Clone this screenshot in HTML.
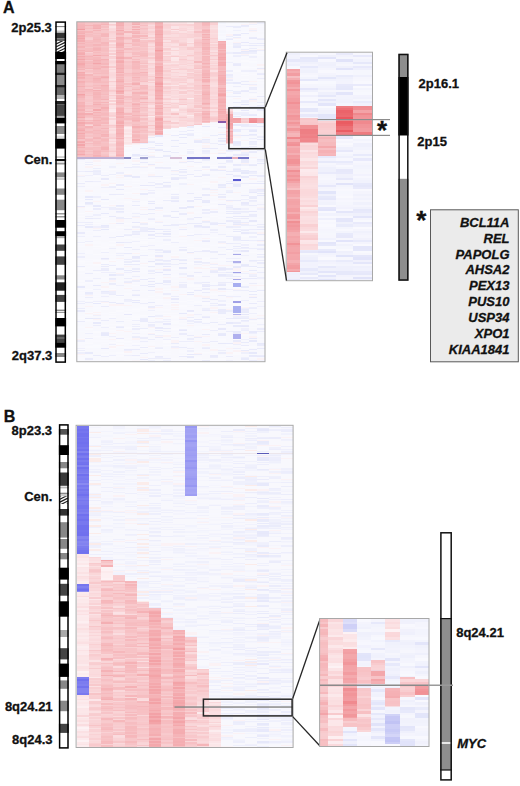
<!DOCTYPE html>
<html><head><meta charset="utf-8"><title>Figure</title>
<style>
html,body{margin:0;padding:0;background:#fff;width:520px;height:786px;overflow:hidden}
svg{display:block}
text{font-family:"Liberation Sans",sans-serif;fill:#111;stroke:#111;stroke-width:0.3px}
.lb{font-size:13px;font-weight:bold}
.big{font-size:16px;font-weight:bold}
.gi{font-size:13px;font-weight:bold;font-style:italic}
.star{font-size:26px;font-weight:bold}
</style></head><body>
<svg width="520" height="786" viewBox="0 0 520 786">
<defs><filter id="bl" x="-2%" y="-2%" width="104%" height="104%"><feGaussianBlur stdDeviation="0.45"/></filter></defs>
<g filter="url(#bl)" shape-rendering="crispEdges">
<rect x="77.3" y="22.3" width="187.2" height="338.9" fill="#f8f8fd"/>
<path stroke="#f6bbbf" stroke-width="1.3" d="M77.3 23h7.8M77.3 34.6h7.8M77.3 55.4h7.8M77.3 93.1h7.8M85.1 42.4h7.8M92.9 91.8h7.8M92.9 106.1h7.8M92.9 150.3h7.8M100.7 78.8h7.8M100.7 91.8h7.8M100.7 120.4h7.8M116.3 55.4h7.8M116.3 84h7.8M116.3 150.3h7.8M124.1 48.9h7.8M124.1 119.1h7.8M131.9 45h7.8M131.9 56.7h7.8M131.9 63.2h7.8M131.9 65.8h7.8M131.9 82.7h7.8M131.9 98.3h7.8M131.9 106.1h7.8M131.9 134.7h7.8M139.7 115.2h7.8M202.1 25.6h7.8M202.1 42.4h7.8"/>
<path stroke="#f5b7ba" stroke-width="1.3" d="M77.3 24.2h7.8M85.1 51.5h7.8M85.1 68.4h7.8M85.1 74.9h7.8M92.9 97h7.8M92.9 137.3h7.8M202.1 67.1h7.8"/>
<path stroke="#f5b4b8" stroke-width="1.3" d="M77.3 25.6h7.8M77.3 26.9h7.8M77.3 97h7.8M92.9 30.8h7.8M92.9 138.6h7.8M92.9 156.9h7.8M100.7 24.2h7.8M116.3 39.8h7.8M116.3 46.3h7.8M116.3 50.2h7.8M116.3 67.1h7.8M116.3 136h7.8M131.9 93.1h7.8M131.9 115.2h7.8M139.7 72.3h7.8M155.3 24.2h7.8M155.3 47.6h7.8M155.3 121.7h7.8M202.1 30.8h7.8M202.1 48.9h7.8M202.1 74.9h7.8M202.1 121.7h7.8M217.7 42.9h7.8M217.7 61.1h7.8M217.7 89.7h7.8M217.7 98.8h7.8M217.7 104h7.8"/>
<path stroke="#f5b2b6" stroke-width="1.3" d="M77.3 28.2h7.8M77.3 39.8h7.8M77.3 43.7h7.8M77.3 46.3h7.8M77.3 73.6h7.8M77.3 124.3h7.8M77.3 136h7.8M92.9 68.4h7.8M100.7 134.7h7.8M116.3 38.5h7.8M116.3 47.6h7.8M116.3 130.8h7.8M131.9 33.4h7.8M131.9 120.4h7.8M139.7 93.1h7.8M155.3 52.8h7.8M155.3 64.5h7.8M155.3 72.3h7.8M155.3 74.9h7.8M155.3 80.1h7.8M155.3 99.6h7.8M202.1 47.6h7.8M202.1 113.9h7.8M217.7 117h7.8"/>
<path stroke="#f29da2" stroke-width="1.3" d="M77.3 29.5h7.8"/>
<path stroke="#f6bfc2" stroke-width="1.3" d="M77.3 30.8h7.8M77.3 119.1h7.8M85.1 35.9h7.8M85.1 76.2h7.8M85.1 86.6h7.8M85.1 116.5h7.8M85.1 151.7h7.8M92.9 33.4h7.8M92.9 35.9h7.8M92.9 46.3h7.8M100.7 26.9h7.8M100.7 29.5h7.8M100.7 93.1h7.8M100.7 125.6h7.8M131.9 43.7h7.8M131.9 72.3h7.8M131.9 94.4h7.8M131.9 130.8h7.8M139.7 63.2h7.8M202.1 90.5h7.8M217.7 85.8h7.8"/>
<path stroke="#f5b3b7" stroke-width="1.3" d="M77.3 32.1h7.8M77.3 69.7h7.8M77.3 115.2h7.8M77.3 128.2h7.8M85.1 123h7.8M85.1 126.9h7.8M92.9 26.9h7.8M92.9 48.9h7.8M92.9 94.4h7.8M100.7 67.1h7.8M100.7 76.2h7.8M100.7 99.6h7.8M100.7 149h7.8M116.3 34.6h7.8M116.3 65.8h7.8M116.3 85.3h7.8M116.3 111.3h7.8M116.3 132.1h7.8M116.3 143.8h7.8M116.3 154.3h7.8M155.3 63.2h7.8M155.3 106.1h7.8M155.3 117.8h7.8M155.3 134.7h7.8M202.1 43.7h7.8M202.1 73.6h7.8M202.1 117.8h7.8M217.7 76.7h7.8M217.7 83.2h7.8"/>
<path stroke="#f4afb3" stroke-width="1.3" d="M77.3 33.4h7.8M77.3 86.6h7.8M77.3 110h7.8M77.3 125.6h7.8M92.9 104.8h7.8M100.7 107.4h7.8M116.3 37.2h7.8M116.3 93.1h7.8M131.9 84h7.8M131.9 104.8h7.8M139.7 98.3h7.8M155.3 23h7.8M155.3 33.4h7.8M155.3 37.2h7.8M155.3 48.9h7.8M155.3 55.4h7.8M155.3 78.8h7.8M155.3 81.4h7.8M155.3 103.5h7.8M155.3 112.6h7.8M155.3 124.3h7.8M217.7 55.9h7.8M217.7 81.9h7.8M217.7 91h7.8"/>
<path stroke="#f4aaae" stroke-width="1.3" d="M77.3 35.9h7.8M77.3 56.7h7.8M77.3 72.3h7.8M92.9 55.4h7.8M116.3 61.9h7.8M116.3 123h7.8M155.3 42.4h7.8M155.3 91.8h7.8M155.3 108.7h7.8M155.3 125.6h7.8M217.7 54.6h7.8M217.7 58.5h7.8M217.7 109.2h7.8M217.7 111.8h7.8"/>
<path stroke="#f5b0b4" stroke-width="1.3" d="M77.3 37.2h7.8M77.3 52.8h7.8M77.3 78.8h7.8M77.3 120.4h7.8M77.3 129.5h7.8M77.3 151.7h7.8M92.9 25.6h7.8M92.9 155.6h7.8M100.7 85.3h7.8M100.7 108.7h7.8M116.3 23h7.8M116.3 52.8h7.8M116.3 102.2h7.8M116.3 108.7h7.8M116.3 113.9h7.8M131.9 126.9h7.8M155.3 85.3h7.8M202.1 81.4h7.8M217.7 71.5h7.8M217.7 96.2h7.8"/>
<path stroke="#f3a7ab" stroke-width="1.3" d="M77.3 38.5h7.8M77.3 142.5h7.8M155.3 34.6h7.8M155.3 98.3h7.8M217.7 59.8h7.8"/>
<path stroke="#f4adb1" stroke-width="1.3" d="M77.3 41.1h7.8M77.3 95.7h7.8M116.3 45h7.8M116.3 68.4h7.8M116.3 72.3h7.8M116.3 117.8h7.8M155.3 32.1h7.8M155.3 56.7h7.8M155.3 69.7h7.8M155.3 128.2h7.8M155.3 132.1h7.8M217.7 46.8h7.8M217.7 50.7h7.8M217.7 79.3h7.8M217.7 101.4h7.8M217.7 119.6h7.8"/>
<path stroke="#f6bdc0" stroke-width="1.3" d="M77.3 42.4h7.8M85.1 48.9h7.8M85.1 65.8h7.8M85.1 115.2h7.8M85.1 128.2h7.8M92.9 116.5h7.8M92.9 147.7h7.8M100.7 50.2h7.8M100.7 71h7.8M100.7 81.4h7.8M100.7 151.7h7.8M116.3 78.8h7.8M131.9 74.9h7.8M131.9 112.6h7.8M139.7 54.1h7.8M202.1 29.5h7.8M202.1 46.3h7.8M202.1 108.7h7.8M217.7 70.2h7.8M217.7 87.1h7.8"/>
<path stroke="#f6bcc0" stroke-width="1.3" d="M77.3 45h7.8M77.3 87.9h7.8M77.3 90.5h7.8M77.3 98.3h7.8M85.1 45h7.8M85.1 91.8h7.8M85.1 111.3h7.8M85.1 143.8h7.8M92.9 37.2h7.8M92.9 38.5h7.8M92.9 113.9h7.8M100.7 106.1h7.8M100.7 117.8h7.8M116.3 146.4h7.8M131.9 99.6h7.8M155.3 130.8h7.8M202.1 41.1h7.8M202.1 64.5h7.8M202.1 86.6h7.8M202.1 112.6h7.8"/>
<path stroke="#f5b3b6" stroke-width="1.3" d="M77.3 47.6h7.8M77.3 67.1h7.8M77.3 102.2h7.8M77.3 116.5h7.8M100.7 147.7h7.8"/>
<path stroke="#f6bec2" stroke-width="1.3" d="M77.3 48.9h7.8M85.1 67.1h7.8M85.1 106.1h7.8M92.9 42.4h7.8M92.9 71h7.8M92.9 107.4h7.8M100.7 97h7.8M100.7 98.3h7.8M100.7 130.8h7.8M116.3 76.2h7.8M116.3 156.9h7.8M124.1 97h7.8M131.9 95.7h7.8M131.9 124.3h7.8M139.7 25.6h7.8M139.7 74.9h7.8M139.7 86.6h7.8M139.7 107.4h7.8M155.3 61.9h7.8M202.1 50.2h7.8M202.1 52.8h7.8M202.1 61.9h7.8"/>
<path stroke="#f5b1b5" stroke-width="1.3" d="M77.3 50.2h7.8M77.3 82.7h7.8M92.9 60.6h7.8M92.9 78.8h7.8M92.9 120.4h7.8M92.9 125.6h7.8M100.7 59.3h7.8M116.3 24.2h7.8M116.3 33.4h7.8M116.3 60.6h7.8M116.3 87.9h7.8M116.3 110h7.8M116.3 116.5h7.8M116.3 126.9h7.8M116.3 134.7h7.8M155.3 35.9h7.8M155.3 39.8h7.8M155.3 41.1h7.8M155.3 59.3h7.8M155.3 97h7.8M155.3 113.9h7.8M202.1 34.6h7.8M202.1 39.8h7.8M202.1 63.2h7.8M202.1 80.1h7.8M202.1 85.3h7.8M217.7 106.6h7.8M217.7 115.7h7.8"/>
<path stroke="#f6babd" stroke-width="1.3" d="M77.3 51.5h7.8M77.3 111.3h7.8M77.3 126.9h7.8M77.3 146.4h7.8M92.9 69.7h7.8M100.7 33.4h7.8M100.7 87.9h7.8M116.3 124.3h7.8M202.1 58h7.8M202.1 87.9h7.8M202.1 91.8h7.8M202.1 107.4h7.8M202.1 119.1h7.8M217.7 67.6h7.8"/>
<path stroke="#f4acb0" stroke-width="1.3" d="M77.3 54.1h7.8M77.3 74.9h7.8M77.3 77.5h7.8M77.3 113.9h7.8M77.3 141.2h7.8M100.7 77.5h7.8M116.3 81.4h7.8M116.3 133.4h7.8M131.9 29.5h7.8M155.3 43.7h7.8M155.3 68.4h7.8M155.3 89.2h7.8M155.3 123h7.8M155.3 129.5h7.8M217.7 41.6h7.8M217.7 53.3h7.8M217.7 80.6h7.8M217.7 88.4h7.8"/>
<path stroke="#f5b5b9" stroke-width="1.3" d="M77.3 58h7.8M77.3 91.8h7.8M77.3 103.5h7.8M85.1 56.7h7.8M85.1 89.2h7.8M92.9 45h7.8M92.9 102.2h7.8M92.9 115.2h7.8M100.7 55.4h7.8M100.7 102.2h7.8M100.7 136h7.8M116.3 42.4h7.8M116.3 64.5h7.8M116.3 74.9h7.8M116.3 120.4h7.8M116.3 145.1h7.8M124.1 58h7.8M131.9 26.9h7.8M131.9 61.9h7.8M131.9 77.5h7.8M131.9 108.7h7.8M155.3 29.5h7.8M155.3 38.5h7.8M155.3 46.3h7.8M217.7 110.5h7.8"/>
<path stroke="#f3a6aa" stroke-width="1.3" d="M77.3 59.3h7.8M155.3 90.5h7.8M155.3 126.9h7.8"/>
<path stroke="#f6b8bc" stroke-width="1.3" d="M77.3 60.6h7.8M77.3 112.6h7.8M77.3 153h7.8M92.9 95.7h7.8M92.9 123h7.8M92.9 153h7.8M116.3 54.1h7.8M116.3 86.6h7.8M116.3 104.8h7.8M116.3 115.2h7.8M116.3 153h7.8M131.9 37.2h7.8M131.9 132.1h7.8M139.7 35.9h7.8M139.7 102.2h7.8M155.3 116.5h7.8M202.1 32.1h7.8M202.1 71h7.8M202.1 98.3h7.8M202.1 104.8h7.8M202.1 116.5h7.8"/>
<path stroke="#f5b2b5" stroke-width="1.3" d="M77.3 61.9h7.8M92.9 112.6h7.8M116.3 129.5h7.8M217.7 120.9h7.8"/>
<path stroke="#f4a8ac" stroke-width="1.3" d="M77.3 63.2h7.8M77.3 64.5h7.8M77.3 117.8h7.8M77.3 133.4h7.8M77.3 154.3h7.8M116.3 125.6h7.8M155.3 82.7h7.8M155.3 120.4h7.8M217.7 62.4h7.8"/>
<path stroke="#f5afb3" stroke-width="1.3" d="M77.3 65.8h7.8M77.3 81.4h7.8M77.3 147.7h7.8M131.9 139.9h7.8M155.3 28.2h7.8M155.3 60.6h7.8M217.7 100.1h7.8"/>
<path stroke="#f6bcbf" stroke-width="1.3" d="M77.3 68.4h7.8M77.3 99.6h7.8M77.3 121.7h7.8M85.1 28.2h7.8M85.1 50.2h7.8M85.1 58h7.8M85.1 61.9h7.8M85.1 81.4h7.8M92.9 65.8h7.8M100.7 73.6h7.8M116.3 32.1h7.8M116.3 128.2h7.8M124.1 38.5h7.8M124.1 43.7h7.8M131.9 128.2h7.8M202.1 35.9h7.8M202.1 99.6h7.8M217.7 49.4h7.8"/>
<path stroke="#f7c3c7" stroke-width="1.3" d="M77.3 71h7.8M85.1 117.8h7.8M85.1 130.8h7.8M85.1 138.6h7.8M92.9 23h7.8M92.9 29.5h7.8M100.7 56.7h7.8M100.7 129.5h7.8M100.7 142.5h7.8M116.3 35.9h7.8M131.9 47.6h7.8M139.7 104.8h7.8M139.7 128.2h7.8M202.1 38.5h7.8"/>
<path stroke="#f5b6ba" stroke-width="1.3" d="M77.3 76.2h7.8M77.3 104.8h7.8M77.3 107.4h7.8M92.9 59.3h7.8M92.9 61.9h7.8M92.9 80.1h7.8M92.9 151.7h7.8M100.7 34.6h7.8M100.7 63.2h7.8M100.7 128.2h7.8M116.3 69.7h7.8M116.3 71h7.8M116.3 77.5h7.8M116.3 95.7h7.8M116.3 97h7.8M116.3 100.9h7.8M116.3 142.5h7.8M116.3 149h7.8M116.3 151.7h7.8M124.1 32.1h7.8M131.9 35.9h7.8M131.9 111.3h7.8M202.1 93.1h7.8M202.1 111.3h7.8M217.7 72.8h7.8M217.7 74.1h7.8M217.7 92.3h7.8"/>
<path stroke="#f6bdc1" stroke-width="1.3" d="M77.3 80.1h7.8M85.1 34.6h7.8M85.1 78.8h7.8M85.1 154.3h7.8M92.9 132.1h7.8M100.7 23h7.8M100.7 61.9h7.8M100.7 72.3h7.8M100.7 112.6h7.8M100.7 138.6h7.8M100.7 141.2h7.8M116.3 29.5h7.8M116.3 59.3h7.8M124.1 37.2h7.8M124.1 116.5h7.8M131.9 52.8h7.8M131.9 54.1h7.8M131.9 59.3h7.8M131.9 80.1h7.8M131.9 110h7.8M202.1 82.7h7.8M202.1 102.2h7.8M202.1 115.2h7.8"/>
<path stroke="#f6b9bd" stroke-width="1.3" d="M77.3 84h7.8M85.1 63.2h7.8M85.1 120.4h7.8M92.9 24.2h7.8M92.9 47.6h7.8M92.9 82.7h7.8M92.9 98.3h7.8M92.9 99.6h7.8M92.9 143.8h7.8M100.7 110h7.8M100.7 113.9h7.8M100.7 156.9h7.8M116.3 26.9h7.8M124.1 113.9h7.8M131.9 67.1h7.8M155.3 65.8h7.8M155.3 111.3h7.8M202.1 60.6h7.8M202.1 72.3h7.8M217.7 97.5h7.8"/>
<path stroke="#f6bbbe" stroke-width="1.3" d="M77.3 85.3h7.8M85.1 90.5h7.8M92.9 41.1h7.8M92.9 52.8h7.8M92.9 85.3h7.8M92.9 103.5h7.8M92.9 142.5h7.8M100.7 82.7h7.8M100.7 115.2h7.8M100.7 132.1h7.8M100.7 146.4h7.8M116.3 107.4h7.8M116.3 147.7h7.8M131.9 117.8h7.8M131.9 137.3h7.8M139.7 55.4h7.8M139.7 87.9h7.8M155.3 76.2h7.8M202.1 95.7h7.8M202.1 97h7.8"/>
<path stroke="#f6babe" stroke-width="1.3" d="M77.3 89.2h7.8M77.3 143.8h7.8M77.3 155.6h7.8M85.1 139.9h7.8M92.9 73.6h7.8M92.9 76.2h7.8M92.9 77.5h7.8M92.9 87.9h7.8M92.9 121.7h7.8M92.9 133.4h7.8M92.9 141.2h7.8M92.9 154.3h7.8M100.7 45h7.8M100.7 60.6h7.8M100.7 89.2h7.8M100.7 94.4h7.8M100.7 104.8h7.8M116.3 41.1h7.8M116.3 51.5h7.8M116.3 89.2h7.8M116.3 119.1h7.8M116.3 137.3h7.8M131.9 64.5h7.8M131.9 121.7h7.8M131.9 142.5h7.8M139.7 85.3h7.8M194.3 61.9h7.8M202.1 76.2h7.8M217.7 66.3h7.8"/>
<path stroke="#f3a2a6" stroke-width="1.3" d="M77.3 94.4h7.8M155.3 119.1h7.8"/>
<path stroke="#f7bfc3" stroke-width="1.3" d="M77.3 100.9h7.8M85.1 41.1h7.8M85.1 55.4h7.8M85.1 77.5h7.8M85.1 147.7h7.8M92.9 129.5h7.8M92.9 134.7h7.8M92.9 136h7.8M92.9 149h7.8M100.7 133.4h7.8M100.7 150.3h7.8M116.3 139.9h7.8M124.1 73.6h7.8M131.9 69.7h7.8M131.9 78.8h7.8M131.9 116.5h7.8M139.7 81.4h7.8M155.3 100.9h7.8M202.1 69.7h7.8M202.1 100.9h7.8"/>
<path stroke="#f5b0b3" stroke-width="1.3" d="M77.3 106.1h7.8"/>
<path stroke="#f6b8bb" stroke-width="1.3" d="M77.3 108.7h7.8M77.3 150.3h7.8M85.1 32.1h7.8M92.9 39.8h7.8M116.3 63.2h7.8M116.3 103.5h7.8M131.9 39.8h7.8M131.9 136h7.8"/>
<path stroke="#f4a9ad" stroke-width="1.3" d="M77.3 123h7.8M77.3 130.8h7.8M92.9 110h7.8M116.3 112.6h7.8M155.3 26.9h7.8M155.3 67.1h7.8M155.3 71h7.8M155.3 95.7h7.8M217.7 65h7.8"/>
<path stroke="#f5b7bb" stroke-width="1.3" d="M77.3 132.1h7.8M77.3 134.7h7.8M85.1 59.3h7.8M92.9 124.3h7.8M100.7 35.9h7.8M100.7 42.4h7.8M100.7 43.7h7.8M100.7 64.5h7.8M116.3 28.2h7.8M116.3 82.7h7.8M131.9 41.1h7.8M131.9 73.6h7.8M131.9 103.5h7.8M202.1 56.7h7.8"/>
<path stroke="#f5b6b9" stroke-width="1.3" d="M77.3 137.3h7.8M92.9 117.8h7.8M100.7 119.1h7.8M116.3 56.7h7.8M131.9 23h7.8M139.7 126.9h7.8M155.3 107.4h7.8M217.7 52h7.8M217.7 114.4h7.8M217.7 118.3h7.8"/>
<path stroke="#f4aeb2" stroke-width="1.3" d="M77.3 138.6h7.8M85.1 113.9h7.8M92.9 28.2h7.8M92.9 90.5h7.8M116.3 25.6h7.8M116.3 43.7h7.8M116.3 90.5h7.8M116.3 98.3h7.8M116.3 121.7h7.8M116.3 155.6h7.8M131.9 24.2h7.8M155.3 30.8h7.8M155.3 54.1h7.8M155.3 73.6h7.8M155.3 87.9h7.8M155.3 93.1h7.8M202.1 77.5h7.8M202.1 103.5h7.8M217.7 45.5h7.8M217.7 48.1h7.8M217.7 78h7.8M217.7 105.3h7.8M217.7 113.1h7.8"/>
<path stroke="#f7c2c6" stroke-width="1.3" d="M77.3 139.9h7.8M92.9 84h7.8M92.9 126.9h7.8M131.9 76.2h7.8M139.7 99.6h7.8M139.7 132.1h7.8M194.3 68.4h7.8"/>
<path stroke="#f3a5aa" stroke-width="1.3" d="M77.3 145.1h7.8M92.9 63.2h7.8M217.7 57.2h7.8"/>
<path stroke="#f6bec1" stroke-width="1.3" d="M77.3 149h7.8M85.1 46.3h7.8M85.1 149h7.8M92.9 119.1h7.8M92.9 145.1h7.8M100.7 48.9h7.8M100.7 121.7h7.8M124.1 86.6h7.8M131.9 97h7.8M139.7 97h7.8M139.7 130.8h7.8"/>
<path stroke="#f7c4c7" stroke-width="1.3" d="M77.3 156.9h7.8M85.1 85.3h7.8M85.1 107.4h7.8M92.9 32.1h7.8M92.9 111.3h7.8M100.7 38.5h7.8M100.7 39.8h7.8M100.7 41.1h7.8M100.7 65.8h7.8M100.7 116.5h7.8M100.7 154.3h7.8M124.1 52.8h7.8M124.1 74.9h7.8M131.9 87.9h7.8M131.9 123h7.8M139.7 48.9h7.8M170.9 113.9h7.8M194.3 43.7h7.8M202.1 26.9h7.8"/>
<path stroke="#f5b6ba" stroke-width="0.5" d="M77.3 157.8h7.8"/>
<path stroke="#eaebfb" stroke-width="1.2" d="M77.3 159.8h7.8M85.1 181.4h7.8M92.9 355.4h7.8M100.7 227h7.8M100.7 266.6h7.8M100.7 270.2h7.8M108.5 194.6h7.8M108.5 278.6h7.8M116.3 159.8h7.8M116.3 185h7.8M116.3 223.4h7.8M131.9 158.5h7.8M131.9 234.1h7.8M131.9 264.1h7.8M131.9 355.3h7.8M139.7 320h7.8M139.7 353.6h7.8M155.3 143.2h7.8M155.3 260.8h7.8M155.3 337.6h7.8M155.3 356.8h7.8M163.1 186h7.8M163.1 260.4h7.8M163.1 280.8h7.8M163.1 328.8h7.8M170.9 135.8h7.8M178.7 175.6h7.8M178.7 214h7.8M178.7 356.8h7.8M186.5 159h7.8M186.5 174.6h7.8M186.5 193.8h7.8M194.3 272.7h7.8M194.3 337.5h7.8M202.1 148.1h7.8M202.1 175.7h7.8M202.1 251.3h7.8M202.1 282.5h7.8M202.1 284.9h7.8M202.1 301.7h7.8M202.1 310.1h7.8M209.9 169.9h7.8M209.9 251.5h7.8M209.9 271.9h7.8M209.9 355.9h7.8M217.7 194.6h7.8M217.7 197h7.8M225.5 26.5h7.8M225.5 75.7h7.8M225.5 207.7h7.8M225.5 220.9h7.8M225.5 318.1h7.8M233.3 106.9h7.8M233.3 116.5h7.8M233.3 332.5h7.8M233.3 340.9h7.8M241.1 84.1h7.8M241.1 124.9h7.8M241.1 160.9h7.8M241.1 195.7h7.8M241.1 218.5h7.8M241.1 278.5h7.8M241.1 345.7h7.8M248.9 37.3h7.8M248.9 114.1h7.8M248.9 141.7h7.8M248.9 198.1h7.8M248.9 205.3h7.8M248.9 356.5h7.8M256.7 74.5h7.8M256.7 96.1h7.8M256.7 175.3h7.8M256.7 244.9h7.8M256.7 249.7h7.8M256.7 348.1h7.8"/>
<path stroke="#f8f8fe" stroke-width="1.2" d="M77.3 161h7.8M77.3 165.8h7.8M77.3 167h7.8M77.3 170.6h7.8M77.3 181.4h7.8M77.3 187.4h7.8M77.3 193.4h7.8M77.3 198.2h7.8M77.3 201.8h7.8M77.3 210.2h7.8M77.3 229.4h7.8M77.3 230.6h7.8M77.3 235.4h7.8M77.3 245h7.8M77.3 247.4h7.8M77.3 249.8h7.8M77.3 255.8h7.8M77.3 258.2h7.8M77.3 264.2h7.8M77.3 277.4h7.8M77.3 282.2h7.8M77.3 288.2h7.8M77.3 289.4h7.8M77.3 291.8h7.8M77.3 294.2h7.8M77.3 302.6h7.8M77.3 312.2h7.8M77.3 315.8h7.8M77.3 323h7.8M77.3 329h7.8M77.3 330.2h7.8M77.3 336.2h7.8M77.3 345.8h7.8M85.1 159.8h7.8M85.1 168.2h7.8M85.1 176.6h7.8M85.1 177.8h7.8M85.1 188.6h7.8M85.1 193.4h7.8M85.1 198.2h7.8M85.1 205.4h7.8M85.1 215h7.8M85.1 225.8h7.8M85.1 233h7.8M85.1 236.6h7.8M85.1 237.8h7.8M85.1 240.2h7.8M85.1 249.8h7.8M85.1 260.6h7.8M85.1 269h7.8M85.1 276.2h7.8M85.1 278.6h7.8M85.1 284.6h7.8M85.1 285.8h7.8M85.1 291.8h7.8M85.1 299h7.8M85.1 307.4h7.8M85.1 317h7.8M85.1 331.4h7.8M85.1 335h7.8M92.9 182.6h7.8M92.9 186.2h7.8M92.9 189.8h7.8M92.9 193.4h7.8M92.9 195.8h7.8M92.9 211.4h7.8M92.9 216.2h7.8M92.9 225.8h7.8M92.9 249.8h7.8M92.9 257h7.8M92.9 269h7.8M92.9 275h7.8M92.9 276.2h7.8M92.9 293h7.8M92.9 295.4h7.8M92.9 306.2h7.8M92.9 327.8h7.8M92.9 335h7.8M92.9 338.6h7.8M92.9 350.6h7.8M92.9 351.8h7.8M92.9 359h7.8M100.7 173h7.8M100.7 182.6h7.8M100.7 189.8h7.8M100.7 204.2h7.8M100.7 212.6h7.8M100.7 215h7.8M100.7 235.4h7.8M100.7 236.6h7.8M100.7 237.8h7.8M100.7 239h7.8M100.7 257h7.8M100.7 294.2h7.8M100.7 297.8h7.8M100.7 314.6h7.8M100.7 318.2h7.8M100.7 321.8h7.8M100.7 324.2h7.8M100.7 329h7.8M100.7 347h7.8M100.7 350.6h7.8M108.5 176.6h7.8M108.5 188.6h7.8M108.5 191h7.8M108.5 200.6h7.8M108.5 210.2h7.8M108.5 213.8h7.8M108.5 217.4h7.8M108.5 218.6h7.8M108.5 221h7.8M108.5 228.2h7.8M108.5 233h7.8M108.5 234.2h7.8M108.5 236.6h7.8M108.5 242.6h7.8M108.5 255.8h7.8M108.5 264.2h7.8M108.5 276.2h7.8M108.5 301.4h7.8M108.5 306.2h7.8M108.5 307.4h7.8M108.5 315.8h7.8M108.5 320.6h7.8M108.5 321.8h7.8M108.5 341h7.8M108.5 349.4h7.8M108.5 350.6h7.8M108.5 354.2h7.8M116.3 158.6h7.8M116.3 168.2h7.8M116.3 180.2h7.8M116.3 187.4h7.8M116.3 200.6h7.8M116.3 203h7.8M116.3 228.2h7.8M116.3 231.8h7.8M116.3 233h7.8M116.3 234.2h7.8M116.3 246.2h7.8M116.3 260.6h7.8M116.3 267.8h7.8M116.3 270.2h7.8M116.3 284.6h7.8M116.3 287h7.8M116.3 288.2h7.8M116.3 289.4h7.8M116.3 300.2h7.8M116.3 309.8h7.8M116.3 312.2h7.8M116.3 313.4h7.8M116.3 329h7.8M116.3 333.8h7.8M116.3 337.4h7.8M116.3 349.4h7.8M116.3 351.8h7.8M116.3 354.2h7.8M124.1 151.6h7.8M124.1 155.2h7.8M124.1 156.4h7.8M124.1 170.8h7.8M124.1 184h7.8M124.1 194.8h7.8M124.1 197.2h7.8M124.1 199.6h7.8M124.1 200.8h7.8M124.1 204.4h7.8M124.1 210.4h7.8M124.1 214h7.8M124.1 215.2h7.8M124.1 260.8h7.8M124.1 274h7.8M124.1 276.4h7.8M124.1 289.6h7.8M124.1 302.8h7.8M124.1 304h7.8M124.1 307.6h7.8M124.1 308.8h7.8M124.1 323.2h7.8M124.1 334h7.8M124.1 336.4h7.8M124.1 346h7.8M124.1 348.4h7.8M124.1 358h7.8M131.9 147.7h7.8M131.9 148.9h7.8M131.9 150.1h7.8M131.9 152.5h7.8M131.9 153.7h7.8M131.9 174.1h7.8M131.9 186.1h7.8M131.9 202.9h7.8M131.9 207.7h7.8M131.9 208.9h7.8M131.9 219.7h7.8M131.9 220.9h7.8M131.9 236.5h7.8M131.9 246.1h7.8M131.9 247.3h7.8M131.9 250.9h7.8M131.9 266.5h7.8M131.9 277.3h7.8M131.9 283.3h7.8M131.9 286.9h7.8M131.9 288.1h7.8M131.9 289.3h7.8M131.9 297.7h7.8M131.9 307.3h7.8M131.9 340.9h7.8M131.9 342.1h7.8M131.9 348.1h7.8M131.9 352.9h7.8M139.7 156.8h7.8M139.7 170h7.8M139.7 176h7.8M139.7 180.8h7.8M139.7 182h7.8M139.7 184.4h7.8M139.7 188h7.8M139.7 190.4h7.8M139.7 191.6h7.8M139.7 198.8h7.8M139.7 210.8h7.8M139.7 218h7.8M139.7 226.4h7.8M139.7 233.6h7.8M139.7 240.8h7.8M139.7 245.6h7.8M139.7 273.2h7.8M139.7 276.8h7.8M139.7 286.4h7.8M139.7 288.8h7.8M139.7 292.4h7.8M139.7 294.8h7.8M139.7 304.4h7.8M139.7 317.6h7.8M139.7 336.8h7.8M139.7 340.4h7.8M139.7 342.8h7.8M139.7 345.2h7.8M147.5 183.4h7.8M147.5 196.6h7.8M147.5 197.8h7.8M147.5 200.2h7.8M147.5 205h7.8M147.5 206.2h7.8M147.5 207.4h7.8M147.5 208.6h7.8M147.5 220.6h7.8M147.5 221.8h7.8M147.5 230.2h7.8M147.5 233.8h7.8M147.5 244.6h7.8M147.5 285.4h7.8M147.5 289h7.8M147.5 292.6h7.8M147.5 303.4h7.8M147.5 309.4h7.8M147.5 313h7.8M147.5 314.2h7.8M147.5 320.2h7.8M147.5 331h7.8M147.5 353.8h7.8M155.3 137.2h7.8M155.3 142h7.8M155.3 151.6h7.8M155.3 160h7.8M155.3 172h7.8M155.3 174.4h7.8M155.3 180.4h7.8M155.3 186.4h7.8M155.3 188.8h7.8M155.3 197.2h7.8M155.3 198.4h7.8M155.3 205.6h7.8M155.3 206.8h7.8M155.3 214h7.8M155.3 232h7.8M155.3 240.4h7.8M155.3 244h7.8M155.3 247.6h7.8M155.3 275.2h7.8M155.3 286h7.8M155.3 294.4h7.8M155.3 306.4h7.8M155.3 312.4h7.8M155.3 340h7.8M155.3 344.8h7.8M155.3 352h7.8M163.1 133.2h7.8M163.1 135.6h7.8M163.1 138h7.8M163.1 140.4h7.8M163.1 158.4h7.8M163.1 163.2h7.8M163.1 171.6h7.8M163.1 174h7.8M163.1 178.8h7.8M163.1 184.8h7.8M163.1 198h7.8M163.1 204h7.8M163.1 205.2h7.8M163.1 210h7.8M163.1 212.4h7.8M163.1 220.8h7.8M163.1 235.2h7.8M163.1 241.2h7.8M163.1 246h7.8M163.1 247.2h7.8M163.1 248.4h7.8M163.1 254.4h7.8M163.1 258h7.8M163.1 265.2h7.8M163.1 271.2h7.8M163.1 272.4h7.8M163.1 276h7.8M163.1 300h7.8M163.1 303.6h7.8M163.1 307.2h7.8M163.1 322.8h7.8M163.1 327.6h7.8M163.1 344.4h7.8M163.1 349.2h7.8M163.1 352.8h7.8M163.1 356.4h7.8M170.9 128.6h7.8M170.9 150.2h7.8M170.9 153.8h7.8M170.9 155h7.8M170.9 157.4h7.8M170.9 163.4h7.8M170.9 181.4h7.8M170.9 189.8h7.8M170.9 203h7.8M170.9 207.8h7.8M170.9 219.8h7.8M170.9 221h7.8M170.9 230.6h7.8M170.9 231.8h7.8M170.9 233h7.8M170.9 243.8h7.8M170.9 258.2h7.8M170.9 267.8h7.8M170.9 272.6h7.8M170.9 273.8h7.8M170.9 277.4h7.8M170.9 278.6h7.8M170.9 284.6h7.8M170.9 289.4h7.8M170.9 294.2h7.8M170.9 295.4h7.8M170.9 301.4h7.8M170.9 319.4h7.8M170.9 331.4h7.8M170.9 339.8h7.8M170.9 344.6h7.8M170.9 354.2h7.8M170.9 360.2h7.8M178.7 132.4h7.8M178.7 139.6h7.8M178.7 145.6h7.8M178.7 149.2h7.8M178.7 150.4h7.8M178.7 152.8h7.8M178.7 158.8h7.8M178.7 170.8h7.8M178.7 174.4h7.8M178.7 185.2h7.8M178.7 191.2h7.8M178.7 192.4h7.8M178.7 194.8h7.8M178.7 200.8h7.8M178.7 212.8h7.8M178.7 215.2h7.8M178.7 228.4h7.8M178.7 235.6h7.8M178.7 244h7.8M178.7 246.4h7.8M178.7 265.6h7.8M178.7 276.4h7.8M178.7 283.6h7.8M178.7 288.4h7.8M178.7 290.8h7.8M178.7 292h7.8M178.7 293.2h7.8M178.7 298h7.8M178.7 299.2h7.8M178.7 300.4h7.8M178.7 302.8h7.8M178.7 310h7.8M178.7 332.8h7.8M178.7 335.2h7.8M178.7 344.8h7.8M178.7 346h7.8M178.7 348.4h7.8M178.7 353.2h7.8M186.5 138.6h7.8M186.5 144.6h7.8M186.5 147h7.8M186.5 150.6h7.8M186.5 156.6h7.8M186.5 160.2h7.8M186.5 165h7.8M186.5 167.4h7.8M186.5 189h7.8M186.5 190.2h7.8M186.5 196.2h7.8M186.5 198.6h7.8M186.5 203.4h7.8M186.5 232.2h7.8M186.5 237h7.8M186.5 238.2h7.8M186.5 239.4h7.8M186.5 255h7.8M186.5 268.2h7.8M186.5 288.6h7.8M186.5 289.8h7.8M186.5 299.4h7.8M186.5 319.8h7.8M186.5 333h7.8M186.5 337.8h7.8M186.5 343.8h7.8M194.3 125.1h7.8M194.3 128.7h7.8M194.3 132.3h7.8M194.3 146.7h7.8M194.3 149.1h7.8M194.3 151.5h7.8M194.3 167.1h7.8M194.3 186.3h7.8M194.3 192.3h7.8M194.3 205.5h7.8M194.3 215.1h7.8M194.3 218.7h7.8M194.3 221.1h7.8M194.3 222.3h7.8M194.3 228.3h7.8M194.3 233.1h7.8M194.3 237.9h7.8M194.3 243.9h7.8M194.3 245.1h7.8M194.3 263.1h7.8M194.3 273.9h7.8M194.3 281.1h7.8M194.3 287.1h7.8M194.3 291.9h7.8M194.3 297.9h7.8M194.3 299.1h7.8M194.3 307.5h7.8M194.3 311.1h7.8M194.3 323.1h7.8M194.3 324.3h7.8M194.3 329.1h7.8M194.3 348.3h7.8M194.3 360.3h7.8M202.1 173.3h7.8M202.1 196.1h7.8M202.1 197.3h7.8M202.1 199.7h7.8M202.1 211.7h7.8M202.1 224.9h7.8M202.1 228.5h7.8M202.1 254.9h7.8M202.1 271.7h7.8M202.1 272.9h7.8M202.1 278.9h7.8M202.1 294.5h7.8M202.1 312.5h7.8M202.1 313.7h7.8M202.1 322.1h7.8M202.1 324.5h7.8M202.1 335.3h7.8M202.1 337.7h7.8M202.1 338.9h7.8M202.1 349.7h7.8M202.1 355.7h7.8M209.9 138.7h7.8M209.9 147.1h7.8M209.9 149.5h7.8M209.9 159.1h7.8M209.9 166.3h7.8M209.9 179.5h7.8M209.9 199.9h7.8M209.9 208.3h7.8M209.9 215.5h7.8M209.9 231.1h7.8M209.9 233.5h7.8M209.9 234.7h7.8M209.9 235.9h7.8M209.9 239.5h7.8M209.9 240.7h7.8M209.9 244.3h7.8M209.9 256.3h7.8M209.9 276.7h7.8M209.9 280.3h7.8M209.9 295.9h7.8M209.9 301.9h7.8M209.9 309.1h7.8M209.9 319.9h7.8M209.9 327.1h7.8M209.9 336.7h7.8M209.9 340.3h7.8M217.7 156.2h7.8M217.7 168.2h7.8M217.7 182.6h7.8M217.7 188.6h7.8M217.7 192.2h7.8M217.7 198.2h7.8M217.7 216.2h7.8M217.7 222.2h7.8M217.7 228.2h7.8M217.7 230.6h7.8M217.7 236.6h7.8M217.7 239h7.8M217.7 257h7.8M217.7 261.8h7.8M217.7 264.2h7.8M217.7 278.6h7.8M217.7 297.8h7.8M217.7 303.8h7.8M217.7 314.6h7.8M217.7 323h7.8M217.7 325.4h7.8M217.7 327.8h7.8M217.7 337.4h7.8M217.7 347h7.8M217.7 360.2h7.8M225.5 31.3h7.8M225.5 43.3h7.8M225.5 48.1h7.8M225.5 51.7h7.8M225.5 57.7h7.8M225.5 63.7h7.8M225.5 67.3h7.8M225.5 85.3h7.8M225.5 97.3h7.8M225.5 103.3h7.8M225.5 122.5h7.8M225.5 123.7h7.8M225.5 133.3h7.8M225.5 142.9h7.8M225.5 152.5h7.8M225.5 153.7h7.8M225.5 154.9h7.8M225.5 172.9h7.8M225.5 184.9h7.8M225.5 199.3h7.8M225.5 212.5h7.8M225.5 222.1h7.8M225.5 225.7h7.8M225.5 246.1h7.8M225.5 253.3h7.8M225.5 256.9h7.8M225.5 259.3h7.8M225.5 270.1h7.8M225.5 277.3h7.8M225.5 284.5h7.8M225.5 291.7h7.8M225.5 295.3h7.8M225.5 301.3h7.8M225.5 304.9h7.8M225.5 314.5h7.8M225.5 321.7h7.8M225.5 324.1h7.8M225.5 328.9h7.8M225.5 332.5h7.8M225.5 336.1h7.8M225.5 337.3h7.8M225.5 338.5h7.8M225.5 342.1h7.8M225.5 350.5h7.8M225.5 351.7h7.8M225.5 354.1h7.8M233.3 22.9h7.8M233.3 28.9h7.8M233.3 49.3h7.8M233.3 50.5h7.8M233.3 57.7h7.8M233.3 58.9h7.8M233.3 69.7h7.8M233.3 74.5h7.8M233.3 75.7h7.8M233.3 76.9h7.8M233.3 80.5h7.8M233.3 81.7h7.8M233.3 85.3h7.8M233.3 103.3h7.8M233.3 121.3h7.8M233.3 123.7h7.8M233.3 166.9h7.8M233.3 189.7h7.8M233.3 195.7h7.8M233.3 198.1h7.8M233.3 214.9h7.8M233.3 219.7h7.8M233.3 247.3h7.8M233.3 256.9h7.8M233.3 271.3h7.8M233.3 280.9h7.8M233.3 295.3h7.8M233.3 303.7h7.8M233.3 314.5h7.8M233.3 321.7h7.8M233.3 338.5h7.8M233.3 345.7h7.8M233.3 355.3h7.8M233.3 360.1h7.8M241.1 28.9h7.8M241.1 31.3h7.8M241.1 37.3h7.8M241.1 38.5h7.8M241.1 39.7h7.8M241.1 43.3h7.8M241.1 87.7h7.8M241.1 97.3h7.8M241.1 117.7h7.8M241.1 127.3h7.8M241.1 128.5h7.8M241.1 133.3h7.8M241.1 146.5h7.8M241.1 156.1h7.8M241.1 168.1h7.8M241.1 196.9h7.8M241.1 219.7h7.8M241.1 276.1h7.8M241.1 282.1h7.8M241.1 297.7h7.8M241.1 303.7h7.8M241.1 304.9h7.8M241.1 344.5h7.8M241.1 355.3h7.8M248.9 26.5h7.8M248.9 32.5h7.8M248.9 42.1h7.8M248.9 60.1h7.8M248.9 63.7h7.8M248.9 66.1h7.8M248.9 68.5h7.8M248.9 72.1h7.8M248.9 86.5h7.8M248.9 97.3h7.8M248.9 109.3h7.8M248.9 111.7h7.8M248.9 117.7h7.8M248.9 121.3h7.8M248.9 133.3h7.8M248.9 139.3h7.8M248.9 148.9h7.8M248.9 156.1h7.8M248.9 160.9h7.8M248.9 162.1h7.8M248.9 168.1h7.8M248.9 170.5h7.8M248.9 182.5h7.8M248.9 186.1h7.8M248.9 210.1h7.8M248.9 213.7h7.8M248.9 218.5h7.8M248.9 219.7h7.8M248.9 228.1h7.8M248.9 230.5h7.8M248.9 243.7h7.8M248.9 244.9h7.8M248.9 258.1h7.8M248.9 264.1h7.8M248.9 279.7h7.8M248.9 282.1h7.8M248.9 298.9h7.8M248.9 320.5h7.8M248.9 345.7h7.8M256.7 25.3h7.8M256.7 28.9h7.8M256.7 30.1h7.8M256.7 57.7h7.8M256.7 58.9h7.8M256.7 62.5h7.8M256.7 63.7h7.8M256.7 76.9h7.8M256.7 86.5h7.8M256.7 87.7h7.8M256.7 116.5h7.8M256.7 118.9h7.8M256.7 122.5h7.8M256.7 141.7h7.8M256.7 145.3h7.8M256.7 151.3h7.8M256.7 156.1h7.8M256.7 168.1h7.8M256.7 169.3h7.8M256.7 177.7h7.8M256.7 186.1h7.8M256.7 187.3h7.8M256.7 198.1h7.8M256.7 199.3h7.8M256.7 210.1h7.8M256.7 220.9h7.8M256.7 223.3h7.8M256.7 235.3h7.8M256.7 238.9h7.8M256.7 243.7h7.8M256.7 250.9h7.8M256.7 271.3h7.8M256.7 274.9h7.8M256.7 276.1h7.8M256.7 327.7h7.8M256.7 337.3h7.8M256.7 340.9h7.8M256.7 342.1h7.8M256.7 346.9h7.8M256.7 350.5h7.8"/>
<path stroke="#f9f9fe" stroke-width="1.2" d="M77.3 162.2h7.8M77.3 164.6h7.8M77.3 173h7.8M77.3 180.2h7.8M77.3 189.8h7.8M77.3 192.2h7.8M77.3 194.6h7.8M77.3 203h7.8M77.3 219.8h7.8M77.3 223.4h7.8M77.3 224.6h7.8M77.3 237.8h7.8M77.3 239h7.8M77.3 246.2h7.8M77.3 260.6h7.8M77.3 263h7.8M77.3 265.4h7.8M77.3 273.8h7.8M77.3 293h7.8M77.3 295.4h7.8M77.3 297.8h7.8M77.3 299h7.8M77.3 317h7.8M77.3 320.6h7.8M77.3 327.8h7.8M77.3 338.6h7.8M77.3 342.2h7.8M77.3 343.4h7.8M77.3 344.6h7.8M77.3 347h7.8M77.3 355.4h7.8M77.3 357.8h7.8M77.3 359h7.8M85.1 165.8h7.8M85.1 174.2h7.8M85.1 180.2h7.8M85.1 183.8h7.8M85.1 185h7.8M85.1 187.4h7.8M85.1 192.2h7.8M85.1 194.6h7.8M85.1 201.8h7.8M85.1 210.2h7.8M85.1 221h7.8M85.1 231.8h7.8M85.1 235.4h7.8M85.1 242.6h7.8M85.1 251h7.8M85.1 252.2h7.8M85.1 253.4h7.8M85.1 259.4h7.8M85.1 261.8h7.8M85.1 264.2h7.8M85.1 271.4h7.8M85.1 277.4h7.8M85.1 283.4h7.8M85.1 321.8h7.8M85.1 332.6h7.8M85.1 337.4h7.8M85.1 341h7.8M85.1 342.2h7.8M85.1 350.6h7.8M85.1 355.4h7.8M85.1 356.6h7.8M92.9 158.6h7.8M92.9 162.2h7.8M92.9 164.6h7.8M92.9 167h7.8M92.9 175.4h7.8M92.9 180.2h7.8M92.9 183.8h7.8M92.9 185h7.8M92.9 199.4h7.8M92.9 207.8h7.8M92.9 210.2h7.8M92.9 219.8h7.8M92.9 231.8h7.8M92.9 233h7.8M92.9 234.2h7.8M92.9 239h7.8M92.9 241.4h7.8M92.9 242.6h7.8M92.9 243.8h7.8M92.9 248.6h7.8M92.9 259.4h7.8M92.9 261.8h7.8M92.9 265.4h7.8M92.9 281h7.8M92.9 282.2h7.8M92.9 290.6h7.8M92.9 294.2h7.8M92.9 296.6h7.8M92.9 299h7.8M92.9 305h7.8M92.9 307.4h7.8M92.9 308.6h7.8M92.9 311h7.8M92.9 313.4h7.8M92.9 337.4h7.8M92.9 341h7.8M92.9 360.2h7.8M100.7 161h7.8M100.7 163.4h7.8M100.7 164.6h7.8M100.7 176.6h7.8M100.7 181.4h7.8M100.7 193.4h7.8M100.7 210.2h7.8M100.7 221h7.8M100.7 234.2h7.8M100.7 243.8h7.8M100.7 245h7.8M100.7 246.2h7.8M100.7 248.6h7.8M100.7 253.4h7.8M100.7 254.6h7.8M100.7 260.6h7.8M100.7 271.4h7.8M100.7 273.8h7.8M100.7 277.4h7.8M100.7 278.6h7.8M100.7 288.2h7.8M100.7 289.4h7.8M100.7 299h7.8M100.7 300.2h7.8M100.7 305h7.8M100.7 307.4h7.8M100.7 309.8h7.8M100.7 313.4h7.8M100.7 317h7.8M100.7 330.2h7.8M100.7 341h7.8M100.7 343.4h7.8M100.7 351.8h7.8M100.7 355.4h7.8M108.5 158.6h7.8M108.5 161h7.8M108.5 162.2h7.8M108.5 173h7.8M108.5 179h7.8M108.5 181.4h7.8M108.5 192.2h7.8M108.5 197h7.8M108.5 204.2h7.8M108.5 230.6h7.8M108.5 231.8h7.8M108.5 254.6h7.8M108.5 257h7.8M108.5 259.4h7.8M108.5 267.8h7.8M108.5 271.4h7.8M108.5 287h7.8M108.5 299h7.8M108.5 324.2h7.8M108.5 331.4h7.8M108.5 332.6h7.8M108.5 335h7.8M108.5 338.6h7.8M108.5 345.8h7.8M108.5 353h7.8M108.5 356.6h7.8M108.5 357.8h7.8M108.5 359h7.8M116.3 169.4h7.8M116.3 183.8h7.8M116.3 191h7.8M116.3 192.2h7.8M116.3 197h7.8M116.3 201.8h7.8M116.3 204.2h7.8M116.3 215h7.8M116.3 224.6h7.8M116.3 230.6h7.8M116.3 235.4h7.8M116.3 239h7.8M116.3 247.4h7.8M116.3 249.8h7.8M116.3 259.4h7.8M116.3 261.8h7.8M116.3 263h7.8M116.3 264.2h7.8M116.3 265.4h7.8M116.3 266.6h7.8M116.3 272.6h7.8M116.3 276.2h7.8M116.3 294.2h7.8M116.3 299h7.8M116.3 301.4h7.8M116.3 306.2h7.8M116.3 307.4h7.8M116.3 308.6h7.8M116.3 314.6h7.8M116.3 320.6h7.8M116.3 325.4h7.8M116.3 331.4h7.8M116.3 336.2h7.8M116.3 339.8h7.8M116.3 347h7.8M116.3 355.4h7.8M116.3 356.6h7.8M124.1 145.6h7.8M124.1 149.2h7.8M124.1 164.8h7.8M124.1 166h7.8M124.1 172h7.8M124.1 178h7.8M124.1 180.4h7.8M124.1 185.2h7.8M124.1 188.8h7.8M124.1 193.6h7.8M124.1 203.2h7.8M124.1 212.8h7.8M124.1 224.8h7.8M124.1 245.2h7.8M124.1 248.8h7.8M124.1 251.2h7.8M124.1 252.4h7.8M124.1 256h7.8M124.1 269.2h7.8M124.1 275.2h7.8M124.1 284.8h7.8M124.1 287.2h7.8M124.1 290.8h7.8M124.1 293.2h7.8M124.1 294.4h7.8M124.1 310h7.8M124.1 313.6h7.8M124.1 316h7.8M124.1 320.8h7.8M124.1 338.8h7.8M124.1 342.4h7.8M124.1 344.8h7.8M124.1 353.2h7.8M131.9 151.3h7.8M131.9 178.9h7.8M131.9 181.3h7.8M131.9 190.9h7.8M131.9 192.1h7.8M131.9 194.5h7.8M131.9 204.1h7.8M131.9 211.3h7.8M131.9 224.5h7.8M131.9 235.3h7.8M131.9 242.5h7.8M131.9 243.7h7.8M131.9 252.1h7.8M131.9 278.5h7.8M131.9 282.1h7.8M131.9 308.5h7.8M131.9 310.9h7.8M131.9 314.5h7.8M131.9 315.7h7.8M131.9 318.1h7.8M131.9 321.7h7.8M131.9 325.3h7.8M131.9 334.9h7.8M131.9 344.5h7.8M131.9 346.9h7.8M131.9 354.1h7.8M131.9 357.7h7.8M139.7 144.8h7.8M139.7 147.2h7.8M139.7 152h7.8M139.7 171.2h7.8M139.7 178.4h7.8M139.7 206h7.8M139.7 208.4h7.8M139.7 212h7.8M139.7 215.6h7.8M139.7 219.2h7.8M139.7 237.2h7.8M139.7 249.2h7.8M139.7 256.4h7.8M139.7 257.6h7.8M139.7 260h7.8M139.7 261.2h7.8M139.7 268.4h7.8M139.7 269.6h7.8M139.7 270.8h7.8M139.7 272h7.8M139.7 278h7.8M139.7 280.4h7.8M139.7 298.4h7.8M139.7 300.8h7.8M139.7 302h7.8M139.7 305.6h7.8M139.7 306.8h7.8M139.7 309.2h7.8M139.7 310.4h7.8M139.7 316.4h7.8M139.7 323.6h7.8M139.7 332h7.8M139.7 335.6h7.8M139.7 344h7.8M139.7 354.8h7.8M139.7 358.4h7.8M147.5 139h7.8M147.5 151h7.8M147.5 159.4h7.8M147.5 169h7.8M147.5 170.2h7.8M147.5 178.6h7.8M147.5 179.8h7.8M147.5 181h7.8M147.5 184.6h7.8M147.5 188.2h7.8M147.5 189.4h7.8M147.5 191.8h7.8M147.5 194.2h7.8M147.5 224.2h7.8M147.5 225.4h7.8M147.5 232.6h7.8M147.5 236.2h7.8M147.5 241h7.8M147.5 248.2h7.8M147.5 274.6h7.8M147.5 277h7.8M147.5 279.4h7.8M147.5 291.4h7.8M147.5 298.6h7.8M147.5 305.8h7.8M147.5 311.8h7.8M147.5 323.8h7.8M147.5 328.6h7.8M147.5 338.2h7.8M147.5 340.6h7.8M147.5 343h7.8M147.5 344.2h7.8M147.5 350.2h7.8M147.5 355h7.8M147.5 357.4h7.8M155.3 138.4h7.8M155.3 139.6h7.8M155.3 140.8h7.8M155.3 156.4h7.8M155.3 163.6h7.8M155.3 164.8h7.8M155.3 169.6h7.8M155.3 181.6h7.8M155.3 192.4h7.8M155.3 193.6h7.8M155.3 194.8h7.8M155.3 196h7.8M155.3 200.8h7.8M155.3 202h7.8M155.3 211.6h7.8M155.3 215.2h7.8M155.3 217.6h7.8M155.3 218.8h7.8M155.3 223.6h7.8M155.3 238h7.8M155.3 245.2h7.8M155.3 248.8h7.8M155.3 253.6h7.8M155.3 274h7.8M155.3 277.6h7.8M155.3 278.8h7.8M155.3 280h7.8M155.3 284.8h7.8M155.3 290.8h7.8M155.3 295.6h7.8M155.3 300.4h7.8M155.3 301.6h7.8M155.3 302.8h7.8M155.3 304h7.8M155.3 308.8h7.8M155.3 310h7.8M155.3 313.6h7.8M155.3 317.2h7.8M155.3 319.6h7.8M155.3 320.8h7.8M155.3 329.2h7.8M155.3 331.6h7.8M155.3 338.8h7.8M155.3 350.8h7.8M155.3 353.2h7.8M155.3 355.6h7.8M163.1 129.6h7.8M163.1 139.2h7.8M163.1 147.6h7.8M163.1 148.8h7.8M163.1 166.8h7.8M163.1 172.8h7.8M163.1 189.6h7.8M163.1 192h7.8M163.1 195.6h7.8M163.1 202.8h7.8M163.1 218.4h7.8M163.1 223.2h7.8M163.1 237.6h7.8M163.1 242.4h7.8M163.1 267.6h7.8M163.1 273.6h7.8M163.1 279.6h7.8M163.1 286.8h7.8M163.1 292.8h7.8M163.1 301.2h7.8M163.1 309.6h7.8M163.1 310.8h7.8M163.1 315.6h7.8M163.1 318h7.8M163.1 332.4h7.8M163.1 351.6h7.8M163.1 354h7.8M170.9 132.2h7.8M170.9 133.4h7.8M170.9 134.6h7.8M170.9 138.2h7.8M170.9 161h7.8M170.9 175.4h7.8M170.9 180.2h7.8M170.9 182.6h7.8M170.9 187.4h7.8M170.9 188.6h7.8M170.9 204.2h7.8M170.9 212.6h7.8M170.9 229.4h7.8M170.9 235.4h7.8M170.9 239h7.8M170.9 241.4h7.8M170.9 252.2h7.8M170.9 269h7.8M170.9 275h7.8M170.9 281h7.8M170.9 297.8h7.8M170.9 306.2h7.8M170.9 313.4h7.8M170.9 315.8h7.8M170.9 318.2h7.8M170.9 320.6h7.8M170.9 326.6h7.8M170.9 327.8h7.8M170.9 330.2h7.8M170.9 332.6h7.8M170.9 336.2h7.8M170.9 345.8h7.8M170.9 359h7.8M178.7 130h7.8M178.7 138.4h7.8M178.7 140.8h7.8M178.7 142h7.8M178.7 146.8h7.8M178.7 156.4h7.8M178.7 166h7.8M178.7 182.8h7.8M178.7 209.2h7.8M178.7 217.6h7.8M178.7 218.8h7.8M178.7 221.2h7.8M178.7 230.8h7.8M178.7 238h7.8M178.7 240.4h7.8M178.7 241.6h7.8M178.7 245.2h7.8M178.7 266.8h7.8M178.7 270.4h7.8M178.7 295.6h7.8M178.7 307.6h7.8M178.7 308.8h7.8M178.7 311.2h7.8M178.7 320.8h7.8M178.7 323.2h7.8M178.7 324.4h7.8M178.7 331.6h7.8M178.7 337.6h7.8M178.7 340h7.8M178.7 342.4h7.8M178.7 350.8h7.8M178.7 352h7.8M178.7 360.4h7.8M186.5 129h7.8M186.5 132.6h7.8M186.5 163.8h7.8M186.5 169.8h7.8M186.5 173.4h7.8M186.5 177h7.8M186.5 181.8h7.8M186.5 205.8h7.8M186.5 209.4h7.8M186.5 210.6h7.8M186.5 214.2h7.8M186.5 231h7.8M186.5 244.2h7.8M186.5 245.4h7.8M186.5 251.4h7.8M186.5 256.2h7.8M186.5 257.4h7.8M186.5 263.4h7.8M186.5 264.6h7.8M186.5 269.4h7.8M186.5 270.6h7.8M186.5 297h7.8M186.5 303h7.8M186.5 305.4h7.8M186.5 307.8h7.8M186.5 309h7.8M186.5 324.6h7.8M186.5 328.2h7.8M186.5 329.4h7.8M186.5 331.8h7.8M186.5 345h7.8M186.5 346.2h7.8M186.5 349.8h7.8M186.5 352.2h7.8M194.3 127.5h7.8M194.3 129.9h7.8M194.3 147.9h7.8M194.3 152.7h7.8M194.3 159.9h7.8M194.3 163.5h7.8M194.3 169.5h7.8M194.3 171.9h7.8M194.3 174.3h7.8M194.3 183.9h7.8M194.3 191.1h7.8M194.3 200.7h7.8M194.3 204.3h7.8M194.3 212.7h7.8M194.3 216.3h7.8M194.3 239.1h7.8M194.3 242.7h7.8M194.3 247.5h7.8M194.3 248.7h7.8M194.3 249.9h7.8M194.3 260.7h7.8M194.3 269.1h7.8M194.3 270.3h7.8M194.3 318.3h7.8M194.3 320.7h7.8M194.3 326.7h7.8M194.3 327.9h7.8M194.3 351.9h7.8M194.3 357.9h7.8M194.3 359.1h7.8M202.1 131.3h7.8M202.1 144.5h7.8M202.1 157.7h7.8M202.1 168.5h7.8M202.1 176.9h7.8M202.1 179.3h7.8M202.1 191.3h7.8M202.1 204.5h7.8M202.1 214.1h7.8M202.1 215.3h7.8M202.1 230.9h7.8M202.1 233.3h7.8M202.1 235.7h7.8M202.1 236.9h7.8M202.1 239.3h7.8M202.1 244.1h7.8M202.1 257.3h7.8M202.1 259.7h7.8M202.1 280.1h7.8M202.1 287.3h7.8M202.1 290.9h7.8M202.1 306.5h7.8M202.1 319.7h7.8M202.1 328.1h7.8M202.1 332.9h7.8M202.1 343.7h7.8M202.1 353.3h7.8M209.9 125.5h7.8M209.9 129.1h7.8M209.9 137.5h7.8M209.9 156.7h7.8M209.9 173.5h7.8M209.9 197.5h7.8M209.9 201.1h7.8M209.9 207.1h7.8M209.9 210.7h7.8M209.9 213.1h7.8M209.9 214.3h7.8M209.9 226.3h7.8M209.9 245.5h7.8M209.9 250.3h7.8M209.9 259.9h7.8M209.9 265.9h7.8M209.9 275.5h7.8M209.9 282.7h7.8M209.9 287.5h7.8M209.9 293.5h7.8M209.9 297.1h7.8M209.9 313.9h7.8M209.9 323.5h7.8M209.9 328.3h7.8M209.9 329.5h7.8M209.9 333.1h7.8M209.9 342.7h7.8M209.9 352.3h7.8M209.9 354.7h7.8M209.9 358.3h7.8M209.9 359.5h7.8M217.7 125h7.8M217.7 145.4h7.8M217.7 147.8h7.8M217.7 155h7.8M217.7 161h7.8M217.7 164.6h7.8M217.7 175.4h7.8M217.7 181.4h7.8M217.7 201.8h7.8M217.7 210.2h7.8M217.7 211.4h7.8M217.7 215h7.8M217.7 217.4h7.8M217.7 218.6h7.8M217.7 224.6h7.8M217.7 237.8h7.8M217.7 258.2h7.8M217.7 260.6h7.8M217.7 277.4h7.8M217.7 287h7.8M217.7 293h7.8M217.7 294.2h7.8M217.7 315.8h7.8M217.7 330.2h7.8M217.7 336.2h7.8M217.7 338.6h7.8M217.7 341h7.8M217.7 348.2h7.8M217.7 356.6h7.8M225.5 24.1h7.8M225.5 30.1h7.8M225.5 33.7h7.8M225.5 37.3h7.8M225.5 50.5h7.8M225.5 54.1h7.8M225.5 55.3h7.8M225.5 60.1h7.8M225.5 87.7h7.8M225.5 88.9h7.8M225.5 93.7h7.8M225.5 98.5h7.8M225.5 100.9h7.8M225.5 104.5h7.8M225.5 111.7h7.8M225.5 116.5h7.8M225.5 121.3h7.8M225.5 128.5h7.8M225.5 132.1h7.8M225.5 134.5h7.8M225.5 135.7h7.8M225.5 141.7h7.8M225.5 147.7h7.8M225.5 157.3h7.8M225.5 168.1h7.8M225.5 175.3h7.8M225.5 182.5h7.8M225.5 194.5h7.8M225.5 210.1h7.8M225.5 223.3h7.8M225.5 230.5h7.8M225.5 232.9h7.8M225.5 237.7h7.8M225.5 240.1h7.8M225.5 241.3h7.8M225.5 242.5h7.8M225.5 248.5h7.8M225.5 260.5h7.8M225.5 267.7h7.8M225.5 279.7h7.8M225.5 280.9h7.8M225.5 283.3h7.8M225.5 286.9h7.8M225.5 316.9h7.8M225.5 319.3h7.8M225.5 327.7h7.8M225.5 344.5h7.8M225.5 355.3h7.8M225.5 357.7h7.8M233.3 24.1h7.8M233.3 36.1h7.8M233.3 88.9h7.8M233.3 94.9h7.8M233.3 97.3h7.8M233.3 105.7h7.8M233.3 127.3h7.8M233.3 128.5h7.8M233.3 140.5h7.8M233.3 160.9h7.8M233.3 172.9h7.8M233.3 178.9h7.8M233.3 202.9h7.8M233.3 205.3h7.8M233.3 254.5h7.8M233.3 259.3h7.8M233.3 260.5h7.8M233.3 282.1h7.8M233.3 283.3h7.8M233.3 288.1h7.8M233.3 292.9h7.8M233.3 302.5h7.8M233.3 308.5h7.8M233.3 310.9h7.8M233.3 319.3h7.8M233.3 320.5h7.8M233.3 330.1h7.8M233.3 349.3h7.8M241.1 36.1h7.8M241.1 57.7h7.8M241.1 68.5h7.8M241.1 72.1h7.8M241.1 85.3h7.8M241.1 88.9h7.8M241.1 98.5h7.8M241.1 99.7h7.8M241.1 111.7h7.8M241.1 141.7h7.8M241.1 181.3h7.8M241.1 186.1h7.8M241.1 192.1h7.8M241.1 206.5h7.8M241.1 246.1h7.8M241.1 253.3h7.8M241.1 259.3h7.8M241.1 261.7h7.8M241.1 268.9h7.8M241.1 274.9h7.8M241.1 277.3h7.8M241.1 283.3h7.8M241.1 288.1h7.8M241.1 313.3h7.8M241.1 315.7h7.8M241.1 334.9h7.8M241.1 338.5h7.8M241.1 354.1h7.8M248.9 39.7h7.8M248.9 58.9h7.8M248.9 74.5h7.8M248.9 122.5h7.8M248.9 123.7h7.8M248.9 132.1h7.8M248.9 140.5h7.8M248.9 145.3h7.8M248.9 163.3h7.8M248.9 177.7h7.8M248.9 180.1h7.8M248.9 194.5h7.8M248.9 208.9h7.8M248.9 212.5h7.8M248.9 250.9h7.8M248.9 271.3h7.8M248.9 277.3h7.8M248.9 280.9h7.8M248.9 302.5h7.8M248.9 304.9h7.8M248.9 306.1h7.8M248.9 309.7h7.8M248.9 310.9h7.8M248.9 312.1h7.8M248.9 314.5h7.8M248.9 324.1h7.8M248.9 327.7h7.8M248.9 330.1h7.8M248.9 342.1h7.8M248.9 357.7h7.8M256.7 26.5h7.8M256.7 31.3h7.8M256.7 34.9h7.8M256.7 36.1h7.8M256.7 37.3h7.8M256.7 44.5h7.8M256.7 51.7h7.8M256.7 54.1h7.8M256.7 66.1h7.8M256.7 70.9h7.8M256.7 82.9h7.8M256.7 88.9h7.8M256.7 92.5h7.8M256.7 94.9h7.8M256.7 97.3h7.8M256.7 117.7h7.8M256.7 138.1h7.8M256.7 146.5h7.8M256.7 154.9h7.8M256.7 170.5h7.8M256.7 174.1h7.8M256.7 180.1h7.8M256.7 182.5h7.8M256.7 201.7h7.8M256.7 206.5h7.8M256.7 216.1h7.8M256.7 228.1h7.8M256.7 236.5h7.8M256.7 237.7h7.8M256.7 242.5h7.8M256.7 255.7h7.8M256.7 259.3h7.8M256.7 282.1h7.8M256.7 292.9h7.8M256.7 297.7h7.8M256.7 307.3h7.8M256.7 309.7h7.8M256.7 310.9h7.8M256.7 314.5h7.8M256.7 322.9h7.8M256.7 332.5h7.8M256.7 354.1h7.8"/>
<path stroke="#edeefc" stroke-width="1.2" d="M77.3 171.8h7.8M77.3 222.2h7.8M77.3 257h7.8M85.1 338.6h7.8M100.7 293h7.8M100.7 356.6h7.8M108.5 186.2h7.8M108.5 209h7.8M108.5 279.8h7.8M108.5 293h7.8M108.5 318.2h7.8M116.3 173h7.8M124.1 281.2h7.8M131.9 276.1h7.8M139.7 228.8h7.8M139.7 341.6h7.8M147.5 271h7.8M155.3 187.6h7.8M163.1 229.2h7.8M170.9 197h7.8M170.9 302.6h7.8M178.7 259.6h7.8M178.7 329.2h7.8M186.5 321h7.8M186.5 341.4h7.8M202.1 166.1h7.8M202.1 212.9h7.8M202.1 222.5h7.8M202.1 316.1h7.8M209.9 222.7h7.8M209.9 305.5h7.8M217.7 270.2h7.8M225.5 118.9h7.8M225.5 126.1h7.8M225.5 296.5h7.8M233.3 56.5h7.8M233.3 92.5h7.8M233.3 158.5h7.8M233.3 240.1h7.8M233.3 248.5h7.8M233.3 258.1h7.8M233.3 296.5h7.8M241.1 225.7h7.8M241.1 300.1h7.8M241.1 330.1h7.8M248.9 129.7h7.8M248.9 142.9h7.8M248.9 240.1h7.8M248.9 248.5h7.8M248.9 308.5h7.8M256.7 50.5h7.8M256.7 105.7h7.8M256.7 190.9h7.8"/>
<path stroke="#fbf3f6" stroke-width="1.2" d="M77.3 175.4h7.8M77.3 207.8h7.8M77.3 339.8h7.8M77.3 354.2h7.8M85.1 167h7.8M85.1 191h7.8M85.1 211.4h7.8M85.1 245h7.8M85.1 295.4h7.8M85.1 306.2h7.8M85.1 313.4h7.8M85.1 327.8h7.8M92.9 161h7.8M92.9 165.8h7.8M92.9 201.8h7.8M92.9 228.2h7.8M92.9 263h7.8M92.9 312.2h7.8M92.9 314.6h7.8M92.9 319.4h7.8M100.7 185h7.8M100.7 282.2h7.8M100.7 287h7.8M100.7 302.6h7.8M108.5 183.8h7.8M108.5 205.4h7.8M108.5 223.4h7.8M108.5 261.8h7.8M108.5 281h7.8M108.5 290.6h7.8M108.5 305h7.8M108.5 333.8h7.8M108.5 339.8h7.8M108.5 347h7.8M116.3 163.4h7.8M116.3 175.4h7.8M116.3 177.8h7.8M116.3 219.8h7.8M116.3 221h7.8M116.3 245h7.8M116.3 258.2h7.8M116.3 273.8h7.8M116.3 305h7.8M116.3 330.2h7.8M116.3 345.8h7.8M124.1 146.8h7.8M124.1 174.4h7.8M124.1 186.4h7.8M124.1 198.4h7.8M124.1 266.8h7.8M124.1 283.6h7.8M124.1 288.4h7.8M124.1 305.2h7.8M124.1 331.6h7.8M124.1 352h7.8M131.9 144.1h7.8M131.9 160.9h7.8M131.9 193.3h7.8M131.9 199.3h7.8M131.9 217.3h7.8M131.9 229.3h7.8M131.9 253.3h7.8M131.9 279.7h7.8M131.9 338.5h7.8M131.9 339.7h7.8M131.9 360.1h7.8M139.7 166.4h7.8M139.7 189.2h7.8M139.7 207.2h7.8M139.7 209.6h7.8M139.7 222.8h7.8M139.7 263.6h7.8M139.7 357.2h7.8M147.5 136.6h7.8M147.5 148.6h7.8M147.5 152.2h7.8M147.5 155.8h7.8M147.5 165.4h7.8M147.5 175h7.8M147.5 308.2h7.8M147.5 327.4h7.8M147.5 333.4h7.8M147.5 346.6h7.8M155.3 162.4h7.8M155.3 210.4h7.8M155.3 221.2h7.8M155.3 257.2h7.8M155.3 269.2h7.8M155.3 288.4h7.8M155.3 289.6h7.8M155.3 292h7.8M155.3 307.6h7.8M155.3 318.4h7.8M155.3 336.4h7.8M163.1 134.4h7.8M163.1 268.8h7.8M163.1 277.2h7.8M163.1 297.6h7.8M163.1 298.8h7.8M163.1 316.8h7.8M163.1 336h7.8M170.9 171.8h7.8M170.9 257h7.8M170.9 287h7.8M170.9 290.6h7.8M170.9 305h7.8M170.9 307.4h7.8M170.9 309.8h7.8M170.9 341h7.8M170.9 342.2h7.8M170.9 348.2h7.8M178.7 155.2h7.8M178.7 161.2h7.8M178.7 227.2h7.8M178.7 236.8h7.8M178.7 277.6h7.8M178.7 294.4h7.8M178.7 317.2h7.8M178.7 318.4h7.8M186.5 166.2h7.8M186.5 184.2h7.8M186.5 213h7.8M186.5 253.8h7.8M186.5 279h7.8M186.5 315h7.8M186.5 325.8h7.8M194.3 139.5h7.8M194.3 206.7h7.8M194.3 240.3h7.8M194.3 259.5h7.8M194.3 267.9h7.8M194.3 295.5h7.8M194.3 296.7h7.8M194.3 336.3h7.8M194.3 341.1h7.8M194.3 353.1h7.8M202.1 124.1h7.8M202.1 137.3h7.8M202.1 143.3h7.8M202.1 145.7h7.8M202.1 146.9h7.8M202.1 156.5h7.8M202.1 169.7h7.8M202.1 220.1h7.8M202.1 238.1h7.8M202.1 265.7h7.8M202.1 268.1h7.8M202.1 296.9h7.8M202.1 329.3h7.8M202.1 336.5h7.8M202.1 344.9h7.8M209.9 153.1h7.8M209.9 181.9h7.8M209.9 190.3h7.8M209.9 192.7h7.8M209.9 195.1h7.8M209.9 209.5h7.8M209.9 263.5h7.8M209.9 269.5h7.8M209.9 289.9h7.8M209.9 307.9h7.8M209.9 312.7h7.8M209.9 349.9h7.8M217.7 132.2h7.8M217.7 150.2h7.8M217.7 152.6h7.8M217.7 169.4h7.8M217.7 177.8h7.8M217.7 199.4h7.8M217.7 225.8h7.8M217.7 243.8h7.8M217.7 265.4h7.8M217.7 291.8h7.8M225.5 34.9h7.8M225.5 78.1h7.8M225.5 92.5h7.8M225.5 187.3h7.8M225.5 201.7h7.8M225.5 265.3h7.8M225.5 297.7h7.8M225.5 309.7h7.8M225.5 348.1h7.8M225.5 352.9h7.8M233.3 38.5h7.8M233.3 42.1h7.8M233.3 98.5h7.8M233.3 134.5h7.8M233.3 136.9h7.8M233.3 156.1h7.8M233.3 182.5h7.8M233.3 192.1h7.8M233.3 225.7h7.8M233.3 268.9h7.8M233.3 270.1h7.8M233.3 278.5h7.8M233.3 284.5h7.8M233.3 289.3h7.8M233.3 315.7h7.8M233.3 342.1h7.8M233.3 343.3h7.8M233.3 350.5h7.8M233.3 351.7h7.8M241.1 24.1h7.8M241.1 50.5h7.8M241.1 54.1h7.8M241.1 123.7h7.8M241.1 140.5h7.8M241.1 150.1h7.8M241.1 151.3h7.8M241.1 163.3h7.8M241.1 223.3h7.8M241.1 271.3h7.8M241.1 307.3h7.8M241.1 333.7h7.8M241.1 351.7h7.8M248.9 22.9h7.8M248.9 28.9h7.8M248.9 31.3h7.8M248.9 81.7h7.8M248.9 85.3h7.8M248.9 98.5h7.8M248.9 100.9h7.8M248.9 157.3h7.8M248.9 178.9h7.8M248.9 273.7h7.8M248.9 285.7h7.8M248.9 296.5h7.8M248.9 318.1h7.8M248.9 336.1h7.8M248.9 337.3h7.8M256.7 49.3h7.8M256.7 64.9h7.8M256.7 69.7h7.8M256.7 188.5h7.8M256.7 207.7h7.8M256.7 232.9h7.8M256.7 241.3h7.8M256.7 285.7h7.8M256.7 315.7h7.8M256.7 358.9h7.8"/>
<path stroke="#eff0fc" stroke-width="1.2" d="M77.3 176.6h7.8M77.3 242.6h7.8M77.3 301.4h7.8M85.1 216.2h7.8M85.1 294.2h7.8M85.1 333.8h7.8M92.9 289.4h7.8M92.9 315.8h7.8M108.5 167h7.8M108.5 272.6h7.8M116.3 255.8h7.8M116.3 285.8h7.8M124.1 301.6h7.8M124.1 355.6h7.8M131.9 156.1h7.8M131.9 166.9h7.8M131.9 216.1h7.8M131.9 241.3h7.8M131.9 260.5h7.8M131.9 345.7h7.8M139.7 167.6h7.8M147.5 218.2h7.8M147.5 249.4h7.8M147.5 310.6h7.8M155.3 252.4h7.8M155.3 316h7.8M155.3 322h7.8M155.3 347.2h7.8M163.1 331.2h7.8M178.7 184h7.8M194.3 227.1h7.8M194.3 283.5h7.8M202.1 140.9h7.8M202.1 152.9h7.8M202.1 308.9h7.8M202.1 342.5h7.8M209.9 189.1h7.8M209.9 258.7h7.8M209.9 310.3h7.8M217.7 247.4h7.8M217.7 300.2h7.8M217.7 301.4h7.8M225.5 62.5h7.8M225.5 76.9h7.8M225.5 151.3h7.8M225.5 181.3h7.8M225.5 190.9h7.8M225.5 208.9h7.8M225.5 258.1h7.8M233.3 30.1h7.8M233.3 112.9h7.8M233.3 168.1h7.8M233.3 212.5h7.8M233.3 316.9h7.8M241.1 55.3h7.8M241.1 70.9h7.8M241.1 100.9h7.8M241.1 164.5h7.8M241.1 165.7h7.8M241.1 205.3h7.8M241.1 212.5h7.8M241.1 273.7h7.8M241.1 339.7h7.8M241.1 352.9h7.8M241.1 357.7h7.8M248.9 24.1h7.8M248.9 92.5h7.8M248.9 106.9h7.8M248.9 124.9h7.8M248.9 237.7h7.8M248.9 274.9h7.8M248.9 313.3h7.8M256.7 22.9h7.8M256.7 160.9h7.8M256.7 181.3h7.8M256.7 324.1h7.8"/>
<path stroke="#f9fafe" stroke-width="1.2" d="M77.3 182.6h7.8M85.1 319.4h7.8M85.1 329h7.8M92.9 221h7.8M92.9 347h7.8M100.7 195.8h7.8M100.7 222.2h7.8M108.5 222.2h7.8M108.5 269h7.8M124.1 154h7.8M124.1 227.2h7.8M124.1 233.2h7.8M124.1 318.4h7.8M139.7 251.6h7.8M147.5 296.2h7.8M155.3 276.4h7.8M155.3 281.2h7.8M155.3 334h7.8M163.1 291.6h7.8M170.9 323h7.8M170.9 338.6h7.8M178.7 127.6h7.8M178.7 181.6h7.8M194.3 143.1h7.8M202.1 258.5h7.8M202.1 359.3h7.8M217.7 252.2h7.8M225.5 28.9h7.8M225.5 129.7h7.8M225.5 285.7h7.8M233.3 111.7h7.8M241.1 66.1h7.8M241.1 118.9h7.8M241.1 145.3h7.8M241.1 270.1h7.8M248.9 62.5h7.8M248.9 169.3h7.8M256.7 313.3h7.8M256.7 334.9h7.8"/>
<path stroke="#ebecfb" stroke-width="1.2" d="M77.3 183.8h7.8M77.3 225.8h7.8M77.3 321.8h7.8M85.1 273.8h7.8M85.1 359h7.8M92.9 174.2h7.8M92.9 209h7.8M92.9 270.2h7.8M100.7 306.2h7.8M100.7 320.6h7.8M108.5 265.4h7.8M108.5 294.2h7.8M116.3 194.6h7.8M116.3 295.4h7.8M124.1 167.2h7.8M124.1 229.6h7.8M124.1 235.6h7.8M124.1 242.8h7.8M124.1 282.4h7.8M131.9 258.1h7.8M139.7 143.6h7.8M139.7 231.2h7.8M139.7 255.2h7.8M139.7 285.2h7.8M139.7 347.6h7.8M147.5 176.2h7.8M147.5 213.4h7.8M147.5 219.4h7.8M147.5 307h7.8M147.5 325h7.8M147.5 334.6h7.8M155.3 233.2h7.8M155.3 236.8h7.8M155.3 330.4h7.8M163.1 216h7.8M163.1 236.4h7.8M163.1 358.8h7.8M170.9 194.6h7.8M170.9 200.6h7.8M170.9 224.6h7.8M170.9 225.8h7.8M178.7 143.2h7.8M178.7 229.6h7.8M178.7 250h7.8M178.7 334h7.8M186.5 130.2h7.8M186.5 135h7.8M186.5 223.8h7.8M186.5 276.6h7.8M186.5 335.4h7.8M194.3 157.5h7.8M194.3 162.3h7.8M194.3 354.3h7.8M202.1 151.7h7.8M202.1 158.9h7.8M202.1 167.3h7.8M202.1 209.3h7.8M202.1 250.1h7.8M202.1 289.7h7.8M202.1 292.1h7.8M209.9 211.9h7.8M209.9 285.1h7.8M209.9 341.5h7.8M217.7 141.8h7.8M217.7 282.2h7.8M225.5 74.5h7.8M225.5 80.5h7.8M225.5 156.1h7.8M225.5 171.7h7.8M225.5 192.1h7.8M225.5 243.7h7.8M225.5 356.5h7.8M233.3 43.3h7.8M233.3 102.1h7.8M233.3 135.7h7.8M233.3 144.1h7.8M233.3 157.3h7.8M233.3 170.5h7.8M233.3 176.5h7.8M233.3 181.3h7.8M233.3 211.3h7.8M233.3 309.7h7.8M233.3 322.9h7.8M233.3 333.7h7.8M241.1 26.5h7.8M241.1 81.7h7.8M241.1 90.1h7.8M241.1 126.1h7.8M241.1 162.1h7.8M241.1 171.7h7.8M241.1 204.1h7.8M241.1 211.3h7.8M241.1 222.1h7.8M241.1 230.5h7.8M241.1 310.9h7.8M248.9 87.7h7.8M248.9 118.9h7.8M248.9 151.3h7.8M248.9 164.5h7.8M248.9 196.9h7.8M248.9 200.5h7.8M248.9 214.9h7.8M248.9 216.1h7.8M248.9 276.1h7.8M256.7 39.7h7.8M256.7 176.5h7.8M256.7 224.5h7.8M256.7 254.5h7.8M256.7 262.9h7.8M256.7 328.9h7.8M256.7 345.7h7.8"/>
<path stroke="#eeeffc" stroke-width="1.2" d="M77.3 186.2h7.8M77.3 236.6h7.8M77.3 253.4h7.8M77.3 341h7.8M77.3 350.6h7.8M77.3 353h7.8M85.1 204.2h7.8M85.1 224.6h7.8M85.1 241.4h7.8M85.1 281h7.8M92.9 173h7.8M92.9 181.4h7.8M92.9 197h7.8M92.9 215h7.8M92.9 236.6h7.8M92.9 278.6h7.8M100.7 187.4h7.8M100.7 252.2h7.8M100.7 327.8h7.8M108.5 248.6h7.8M108.5 336.2h7.8M108.5 344.6h7.8M108.5 355.4h7.8M116.3 212.6h7.8M116.3 253.4h7.8M116.3 275h7.8M116.3 326.6h7.8M124.1 234.4h7.8M124.1 300.4h7.8M131.9 164.5h7.8M131.9 201.7h7.8M131.9 213.7h7.8M131.9 232.9h7.8M131.9 320.5h7.8M147.5 147.4h7.8M147.5 182.2h7.8M147.5 190.6h7.8M147.5 238.6h7.8M147.5 326.2h7.8M155.3 168.4h7.8M163.1 240h7.8M163.1 261.6h7.8M163.1 319.2h7.8M163.1 321.6h7.8M170.9 174.2h7.8M178.7 131.2h7.8M178.7 178h7.8M178.7 274h7.8M178.7 282.4h7.8M178.7 319.6h7.8M186.5 133.8h7.8M186.5 149.4h7.8M186.5 153h7.8M186.5 219h7.8M186.5 351h7.8M194.3 170.7h7.8M194.3 282.3h7.8M202.1 160.1h7.8M202.1 188.9h7.8M202.1 323.3h7.8M202.1 347.3h7.8M209.9 264.7h7.8M217.7 163.4h7.8M217.7 186.2h7.8M217.7 234.2h7.8M217.7 241.4h7.8M225.5 52.9h7.8M225.5 108.1h7.8M225.5 124.9h7.8M225.5 162.1h7.8M225.5 205.3h7.8M225.5 278.5h7.8M225.5 289.3h7.8M233.3 44.5h7.8M233.3 55.3h7.8M233.3 114.1h7.8M233.3 223.3h7.8M233.3 226.9h7.8M233.3 250.9h7.8M233.3 253.3h7.8M233.3 348.1h7.8M241.1 102.1h7.8M241.1 152.5h7.8M241.1 153.7h7.8M241.1 199.3h7.8M241.1 229.3h7.8M241.1 248.5h7.8M241.1 308.5h7.8M241.1 316.9h7.8M248.9 52.9h7.8M248.9 56.5h7.8M248.9 70.9h7.8M248.9 172.9h7.8M248.9 189.7h7.8M248.9 201.7h7.8M248.9 225.7h7.8M248.9 307.3h7.8M248.9 333.7h7.8M248.9 360.1h7.8M256.7 106.9h7.8M256.7 248.5h7.8M256.7 256.9h7.8M256.7 277.3h7.8"/>
<path stroke="#f8f9fe" stroke-width="1.2" d="M77.3 188.6h7.8M77.3 241.4h7.8M77.3 309.8h7.8M77.3 314.6h7.8M77.3 326.6h7.8M77.3 331.4h7.8M85.1 267.8h7.8M85.1 309.8h7.8M85.1 345.8h7.8M92.9 309.8h7.8M92.9 344.6h7.8M92.9 356.6h7.8M100.7 167h7.8M100.7 170.6h7.8M100.7 194.6h7.8M100.7 200.6h7.8M100.7 242.6h7.8M100.7 279.8h7.8M100.7 281h7.8M100.7 308.6h7.8M100.7 331.4h7.8M100.7 336.2h7.8M108.5 198.2h7.8M108.5 224.6h7.8M108.5 263h7.8M116.3 167h7.8M116.3 248.6h7.8M116.3 271.4h7.8M116.3 281h7.8M124.1 236.8h7.8M124.1 263.2h7.8M124.1 265.6h7.8M124.1 277.6h7.8M131.9 168.1h7.8M131.9 196.9h7.8M131.9 230.5h7.8M131.9 254.5h7.8M139.7 254h7.8M139.7 291.2h7.8M147.5 195.4h7.8M147.5 253h7.8M147.5 256.6h7.8M147.5 301h7.8M155.3 191.2h7.8M155.3 241.6h7.8M155.3 246.4h7.8M155.3 326.8h7.8M155.3 360.4h7.8M163.1 150h7.8M163.1 160.8h7.8M170.9 167h7.8M170.9 216.2h7.8M170.9 246.2h7.8M170.9 271.4h7.8M170.9 291.8h7.8M178.7 128.8h7.8M178.7 136h7.8M178.7 154h7.8M178.7 198.4h7.8M178.7 199.6h7.8M178.7 203.2h7.8M178.7 278.8h7.8M178.7 289.6h7.8M178.7 338.8h7.8M178.7 343.6h7.8M186.5 229.8h7.8M186.5 281.4h7.8M186.5 293.4h7.8M194.3 135.9h7.8M194.3 144.3h7.8M194.3 156.3h7.8M194.3 158.7h7.8M194.3 207.9h7.8M194.3 211.5h7.8M194.3 219.9h7.8M194.3 241.5h7.8M194.3 254.7h7.8M194.3 300.3h7.8M194.3 303.9h7.8M194.3 349.5h7.8M202.1 132.5h7.8M202.1 172.1h7.8M202.1 266.9h7.8M202.1 330.5h7.8M202.1 331.7h7.8M209.9 123.1h7.8M209.9 172.3h7.8M209.9 196.3h7.8M209.9 238.3h7.8M209.9 283.9h7.8M209.9 324.7h7.8M209.9 346.3h7.8M209.9 348.7h7.8M209.9 351.1h7.8M217.7 171.8h7.8M217.7 263h7.8M217.7 355.4h7.8M225.5 72.1h7.8M225.5 139.3h7.8M225.5 140.5h7.8M225.5 180.1h7.8M233.3 51.7h7.8M233.3 120.1h7.8M233.3 139.3h7.8M233.3 230.5h7.8M241.1 138.1h7.8M241.1 174.1h7.8M241.1 226.9h7.8M248.9 150.1h7.8M248.9 238.9h7.8M248.9 325.3h7.8M248.9 354.1h7.8M256.7 61.3h7.8M256.7 112.9h7.8M256.7 115.3h7.8M256.7 166.9h7.8M256.7 230.5h7.8M256.7 246.1h7.8M256.7 266.5h7.8M256.7 333.7h7.8M256.7 349.3h7.8"/>
<path stroke="#fafafe" stroke-width="1.2" d="M77.3 199.4h7.8M77.3 204.2h7.8M77.3 205.4h7.8M77.3 213.8h7.8M77.3 216.2h7.8M77.3 228.2h7.8M77.3 243.8h7.8M77.3 261.8h7.8M77.3 269h7.8M77.3 270.2h7.8M77.3 281h7.8M77.3 283.4h7.8M77.3 284.6h7.8M77.3 290.6h7.8M77.3 318.2h7.8M77.3 349.4h7.8M77.3 351.8h7.8M77.3 360.2h7.8M85.1 163.4h7.8M85.1 207.8h7.8M85.1 209h7.8M85.1 212.6h7.8M85.1 282.2h7.8M85.1 289.4h7.8M85.1 300.2h7.8M85.1 312.2h7.8M85.1 315.8h7.8M85.1 320.6h7.8M85.1 339.8h7.8M85.1 343.4h7.8M85.1 347h7.8M92.9 176.6h7.8M92.9 223.4h7.8M92.9 246.2h7.8M92.9 254.6h7.8M92.9 260.6h7.8M92.9 264.2h7.8M92.9 272.6h7.8M92.9 302.6h7.8M92.9 321.8h7.8M92.9 331.4h7.8M92.9 332.6h7.8M92.9 336.2h7.8M92.9 345.8h7.8M100.7 159.8h7.8M100.7 171.8h7.8M100.7 180.2h7.8M100.7 201.8h7.8M100.7 205.4h7.8M100.7 216.2h7.8M100.7 218.6h7.8M100.7 219.8h7.8M100.7 247.4h7.8M100.7 251h7.8M100.7 261.8h7.8M100.7 263h7.8M100.7 303.8h7.8M100.7 325.4h7.8M100.7 338.6h7.8M100.7 354.2h7.8M108.5 169.4h7.8M108.5 175.4h7.8M108.5 185h7.8M108.5 199.4h7.8M108.5 229.4h7.8M108.5 241.4h7.8M108.5 245h7.8M108.5 260.6h7.8M108.5 266.6h7.8M108.5 289.4h7.8M108.5 312.2h7.8M108.5 314.6h7.8M108.5 317h7.8M108.5 327.8h7.8M108.5 330.2h7.8M108.5 342.2h7.8M108.5 348.2h7.8M116.3 186.2h7.8M116.3 195.8h7.8M116.3 227h7.8M116.3 237.8h7.8M116.3 251h7.8M116.3 296.6h7.8M116.3 311h7.8M116.3 324.2h7.8M116.3 341h7.8M116.3 343.4h7.8M116.3 344.6h7.8M116.3 353h7.8M124.1 148h7.8M124.1 152.8h7.8M124.1 173.2h7.8M124.1 192.4h7.8M124.1 202h7.8M124.1 217.6h7.8M124.1 223.6h7.8M124.1 238h7.8M124.1 246.4h7.8M124.1 312.4h7.8M124.1 328h7.8M124.1 341.2h7.8M124.1 347.2h7.8M124.1 360.4h7.8M131.9 157.3h7.8M131.9 162.1h7.8M131.9 165.7h7.8M131.9 180.1h7.8M131.9 183.7h7.8M131.9 187.3h7.8M131.9 206.5h7.8M131.9 210.1h7.8M131.9 223.3h7.8M131.9 238.9h7.8M131.9 262.9h7.8M131.9 273.7h7.8M131.9 285.7h7.8M131.9 298.9h7.8M131.9 309.7h7.8M131.9 316.9h7.8M131.9 319.3h7.8M131.9 327.7h7.8M131.9 343.3h7.8M139.7 165.2h7.8M139.7 172.4h7.8M139.7 173.6h7.8M139.7 186.8h7.8M139.7 192.8h7.8M139.7 201.2h7.8M139.7 202.4h7.8M139.7 203.6h7.8M139.7 204.8h7.8M139.7 221.6h7.8M139.7 239.6h7.8M139.7 242h7.8M139.7 243.2h7.8M139.7 248h7.8M139.7 264.8h7.8M139.7 267.2h7.8M139.7 299.6h7.8M139.7 308h7.8M139.7 315.2h7.8M139.7 329.6h7.8M139.7 330.8h7.8M139.7 346.4h7.8M139.7 348.8h7.8M147.5 146.2h7.8M147.5 153.4h7.8M147.5 160.6h7.8M147.5 167.8h7.8M147.5 171.4h7.8M147.5 199h7.8M147.5 212.2h7.8M147.5 223h7.8M147.5 239.8h7.8M147.5 257.8h7.8M147.5 263.8h7.8M147.5 265h7.8M147.5 268.6h7.8M147.5 315.4h7.8M147.5 319h7.8M147.5 332.2h7.8M147.5 347.8h7.8M147.5 356.2h7.8M155.3 146.8h7.8M155.3 154h7.8M155.3 155.2h7.8M155.3 158.8h7.8M155.3 179.2h7.8M155.3 182.8h7.8M155.3 203.2h7.8M155.3 224.8h7.8M155.3 230.8h7.8M155.3 299.2h7.8M155.3 349.6h7.8M155.3 354.4h7.8M163.1 176.4h7.8M163.1 180h7.8M163.1 188.4h7.8M163.1 199.2h7.8M163.1 213.6h7.8M163.1 244.8h7.8M163.1 289.2h7.8M163.1 296.4h7.8M163.1 304.8h7.8M163.1 313.2h7.8M163.1 334.8h7.8M163.1 340.8h7.8M163.1 342h7.8M163.1 345.6h7.8M170.9 129.8h7.8M170.9 147.8h7.8M170.9 151.4h7.8M170.9 169.4h7.8M170.9 176.6h7.8M170.9 191h7.8M170.9 192.2h7.8M170.9 195.8h7.8M170.9 213.8h7.8M170.9 215h7.8M170.9 218.6h7.8M170.9 240.2h7.8M170.9 255.8h7.8M170.9 276.2h7.8M170.9 303.8h7.8M170.9 317h7.8M170.9 321.8h7.8M170.9 329h7.8M178.7 144.4h7.8M178.7 164.8h7.8M178.7 168.4h7.8M178.7 180.4h7.8M178.7 206.8h7.8M178.7 222.4h7.8M178.7 232h7.8M178.7 233.2h7.8M178.7 234.4h7.8M178.7 248.8h7.8M178.7 252.4h7.8M178.7 258.4h7.8M178.7 301.6h7.8M178.7 305.2h7.8M178.7 306.4h7.8M178.7 328h7.8M178.7 355.6h7.8M186.5 131.4h7.8M186.5 148.2h7.8M186.5 157.8h7.8M186.5 175.8h7.8M186.5 178.2h7.8M186.5 199.8h7.8M186.5 233.4h7.8M186.5 234.6h7.8M186.5 247.8h7.8M186.5 262.2h7.8M186.5 285h7.8M186.5 286.2h7.8M186.5 291h7.8M186.5 300.6h7.8M186.5 312.6h7.8M186.5 313.8h7.8M186.5 318.6h7.8M186.5 330.6h7.8M186.5 342.6h7.8M186.5 353.4h7.8M186.5 355.8h7.8M186.5 359.4h7.8M194.3 131.1h7.8M194.3 133.5h7.8M194.3 134.7h7.8M194.3 137.1h7.8M194.3 165.9h7.8M194.3 177.9h7.8M194.3 275.1h7.8M194.3 285.9h7.8M194.3 288.3h7.8M194.3 301.5h7.8M194.3 302.7h7.8M202.1 164.9h7.8M202.1 170.9h7.8M202.1 182.9h7.8M202.1 185.3h7.8M202.1 186.5h7.8M202.1 193.7h7.8M202.1 206.9h7.8M202.1 208.1h7.8M202.1 218.9h7.8M202.1 248.9h7.8M202.1 260.9h7.8M202.1 302.9h7.8M202.1 304.1h7.8M202.1 320.9h7.8M202.1 326.9h7.8M202.1 352.1h7.8M209.9 127.9h7.8M209.9 154.3h7.8M209.9 155.5h7.8M209.9 165.1h7.8M209.9 167.5h7.8M209.9 178.3h7.8M209.9 183.1h7.8M209.9 202.3h7.8M209.9 205.9h7.8M209.9 216.7h7.8M209.9 237.1h7.8M209.9 294.7h7.8M217.7 129.8h7.8M217.7 157.4h7.8M217.7 240.2h7.8M217.7 245h7.8M217.7 259.4h7.8M217.7 271.4h7.8M217.7 302.6h7.8M217.7 306.2h7.8M217.7 318.2h7.8M217.7 320.6h7.8M217.7 326.6h7.8M217.7 339.8h7.8M217.7 359h7.8M225.5 40.9h7.8M225.5 45.7h7.8M225.5 84.1h7.8M225.5 145.3h7.8M225.5 165.7h7.8M225.5 198.1h7.8M225.5 214.9h7.8M225.5 250.9h7.8M225.5 290.5h7.8M225.5 292.9h7.8M225.5 294.1h7.8M225.5 303.7h7.8M225.5 306.1h7.8M225.5 345.7h7.8M233.3 39.7h7.8M233.3 70.9h7.8M233.3 100.9h7.8M233.3 109.3h7.8M233.3 126.1h7.8M233.3 148.9h7.8M233.3 152.5h7.8M233.3 159.7h7.8M233.3 217.3h7.8M233.3 228.1h7.8M233.3 232.9h7.8M233.3 286.9h7.8M233.3 298.9h7.8M233.3 304.9h7.8M233.3 306.1h7.8M233.3 307.3h7.8M233.3 324.1h7.8M233.3 334.9h7.8M233.3 339.7h7.8M233.3 352.9h7.8M233.3 354.1h7.8M241.1 32.5h7.8M241.1 46.9h7.8M241.1 60.1h7.8M241.1 61.3h7.8M241.1 67.3h7.8M241.1 73.3h7.8M241.1 75.7h7.8M241.1 79.3h7.8M241.1 166.9h7.8M241.1 169.3h7.8M241.1 198.1h7.8M241.1 228.1h7.8M241.1 235.3h7.8M241.1 236.5h7.8M241.1 241.3h7.8M241.1 243.7h7.8M241.1 249.7h7.8M241.1 267.7h7.8M241.1 306.1h7.8M241.1 319.3h7.8M241.1 346.9h7.8M241.1 349.3h7.8M248.9 25.3h7.8M248.9 27.7h7.8M248.9 54.1h7.8M248.9 61.3h7.8M248.9 67.3h7.8M248.9 94.9h7.8M248.9 110.5h7.8M248.9 159.7h7.8M248.9 184.9h7.8M248.9 195.7h7.8M248.9 223.3h7.8M248.9 234.1h7.8M248.9 235.3h7.8M248.9 242.5h7.8M248.9 252.1h7.8M248.9 267.7h7.8M248.9 292.9h7.8M248.9 300.1h7.8M248.9 321.7h7.8M248.9 346.9h7.8M256.7 48.1h7.8M256.7 52.9h7.8M256.7 55.3h7.8M256.7 80.5h7.8M256.7 103.3h7.8M256.7 104.5h7.8M256.7 114.1h7.8M256.7 134.5h7.8M256.7 142.9h7.8M256.7 148.9h7.8M256.7 171.7h7.8M256.7 184.9h7.8M256.7 200.5h7.8M256.7 219.7h7.8M256.7 252.1h7.8M256.7 253.3h7.8M256.7 258.1h7.8M256.7 261.7h7.8M256.7 268.9h7.8M256.7 280.9h7.8M256.7 284.5h7.8M256.7 286.9h7.8M256.7 288.1h7.8M256.7 291.7h7.8M256.7 302.5h7.8M256.7 312.1h7.8M256.7 320.5h7.8M256.7 321.7h7.8M256.7 326.5h7.8M256.7 336.1h7.8M256.7 339.7h7.8"/>
<path stroke="#e8e9fb" stroke-width="1.2" d="M77.3 206.6h7.8M92.9 205.4h7.8M116.3 338.6h7.8M131.9 176.5h7.8M131.9 222.1h7.8M131.9 300.1h7.8M147.5 281.8h7.8M155.3 145.6h7.8M155.3 256h7.8M155.3 272.8h7.8M163.1 266.4h7.8M163.1 270h7.8M163.1 324h7.8M170.9 179h7.8M178.7 137.2h7.8M186.5 294.6h7.8M186.5 310.2h7.8M186.5 354.6h7.8M194.3 141.9h7.8M194.3 225.9h7.8M202.1 126.5h7.8M202.1 227.3h7.8M202.1 241.7h7.8M202.1 286.1h7.8M202.1 317.3h7.8M217.7 329h7.8M233.3 34.9h7.8M233.3 129.7h7.8M233.3 266.5h7.8M233.3 301.3h7.8M233.3 318.1h7.8M241.1 42.1h7.8M241.1 176.5h7.8M241.1 202.9h7.8M248.9 192.1h7.8M248.9 211.3h7.8M256.7 126.1h7.8M256.7 189.7h7.8M256.7 356.5h7.8"/>
<path stroke="#e9eafb" stroke-width="1.2" d="M77.3 233h7.8M77.3 311h7.8M85.1 171.8h7.8M100.7 179h7.8M108.5 216.2h7.8M116.3 303.8h7.8M131.9 261.7h7.8M139.7 162.8h7.8M147.5 164.2h7.8M147.5 185.8h7.8M147.5 201.4h7.8M147.5 235h7.8M155.3 167.2h7.8M155.3 328h7.8M170.9 198.2h7.8M170.9 201.8h7.8M170.9 217.4h7.8M170.9 259.4h7.8M170.9 299h7.8M178.7 208h7.8M186.5 161.4h7.8M186.5 201h7.8M186.5 311.4h7.8M194.3 176.7h7.8M194.3 199.5h7.8M194.3 290.7h7.8M202.1 194.9h7.8M202.1 200.9h7.8M209.9 148.3h7.8M209.9 223.9h7.8M209.9 299.5h7.8M217.7 167h7.8M217.7 170.6h7.8M217.7 254.6h7.8M217.7 284.6h7.8M217.7 305h7.8M217.7 311h7.8M225.5 150.1h7.8M225.5 160.9h7.8M225.5 174.1h7.8M225.5 200.5h7.8M233.3 52.9h7.8M233.3 64.9h7.8M233.3 93.7h7.8M233.3 124.9h7.8M233.3 141.7h7.8M233.3 150.1h7.8M233.3 154.9h7.8M233.3 164.5h7.8M233.3 165.7h7.8M233.3 175.3h7.8M233.3 216.1h7.8M241.1 25.3h7.8M241.1 91.3h7.8M241.1 177.7h7.8M241.1 232.9h7.8M241.1 247.3h7.8M241.1 325.3h7.8M248.9 152.5h7.8M248.9 171.7h7.8M248.9 183.7h7.8M248.9 278.5h7.8M248.9 303.7h7.8M248.9 349.3h7.8M256.7 68.5h7.8M256.7 139.3h7.8M256.7 193.3h7.8M256.7 229.3h7.8M256.7 240.1h7.8"/>
<path stroke="#f7f8fe" stroke-width="1.2" d="M77.3 252.2h7.8M77.3 279.8h7.8M77.3 324.2h7.8M85.1 195.8h7.8M85.1 230.6h7.8M85.1 254.6h7.8M92.9 169.4h7.8M92.9 194.6h7.8M92.9 204.2h7.8M92.9 288.2h7.8M92.9 330.2h7.8M92.9 348.2h7.8M100.7 191h7.8M100.7 211.4h7.8M100.7 230.6h7.8M100.7 275h7.8M100.7 284.6h7.8M108.5 163.4h7.8M108.5 165.8h7.8M108.5 308.6h7.8M116.3 302.6h7.8M116.3 323h7.8M124.1 162.4h7.8M124.1 168.4h7.8M124.1 179.2h7.8M124.1 241.6h7.8M124.1 250h7.8M124.1 271.6h7.8M124.1 306.4h7.8M131.9 237.7h7.8M131.9 358.9h7.8M139.7 196.4h7.8M139.7 216.8h7.8M139.7 287.6h7.8M147.5 177.4h7.8M147.5 269.8h7.8M147.5 293.8h7.8M155.3 239.2h7.8M155.3 271.6h7.8M155.3 282.4h7.8M155.3 314.8h7.8M163.1 132h7.8M163.1 165.6h7.8M163.1 175.2h7.8M163.1 190.8h7.8M163.1 207.6h7.8M163.1 285.6h7.8M163.1 320.4h7.8M163.1 325.2h7.8M163.1 348h7.8M163.1 357.6h7.8M170.9 168.2h7.8M170.9 185h7.8M170.9 193.4h7.8M170.9 222.2h7.8M170.9 227h7.8M170.9 311h7.8M178.7 186.4h7.8M178.7 187.6h7.8M178.7 210.4h7.8M178.7 239.2h7.8M178.7 257.2h7.8M178.7 269.2h7.8M178.7 275.2h7.8M178.7 312.4h7.8M178.7 325.6h7.8M186.5 220.2h7.8M186.5 282.6h7.8M186.5 301.8h7.8M186.5 304.2h7.8M194.3 198.3h7.8M194.3 246.3h7.8M194.3 315.9h7.8M194.3 325.5h7.8M194.3 330.3h7.8M194.3 344.7h7.8M194.3 347.1h7.8M202.1 133.7h7.8M202.1 216.5h7.8M202.1 274.1h7.8M202.1 281.3h7.8M209.9 126.7h7.8M209.9 141.1h7.8M209.9 162.7h7.8M209.9 175.9h7.8M209.9 191.5h7.8M209.9 225.1h7.8M209.9 317.5h7.8M225.5 58.9h7.8M225.5 91.3h7.8M225.5 110.5h7.8M225.5 130.9h7.8M225.5 195.7h7.8M225.5 312.1h7.8M225.5 346.9h7.8M233.3 67.3h7.8M233.3 188.5h7.8M233.3 297.7h7.8M233.3 357.7h7.8M241.1 30.1h7.8M241.1 63.7h7.8M241.1 139.3h7.8M241.1 188.5h7.8M241.1 220.9h7.8M241.1 231.7h7.8M241.1 272.5h7.8M241.1 285.7h7.8M248.9 116.5h7.8M248.9 217.3h7.8M248.9 255.7h7.8M248.9 289.3h7.8M256.7 162.1h7.8M256.7 298.9h7.8M256.7 357.7h7.8"/>
<path stroke="#eaecfb" stroke-width="1.2" d="M77.3 266.6h7.8M92.9 171.8h7.8M100.7 264.2h7.8M108.5 283.4h7.8M147.5 266.2h7.8M155.3 176.8h7.8M170.9 146.6h7.8M170.9 177.8h7.8M170.9 343.4h7.8M178.7 347.2h7.8M194.3 140.7h7.8M194.3 223.5h7.8M194.3 261.9h7.8M202.1 221.3h7.8M202.1 348.5h7.8M209.9 135.1h7.8M217.7 122.6h7.8M217.7 312.2h7.8M225.5 109.3h7.8M225.5 217.3h7.8M225.5 236.5h7.8M225.5 261.7h7.8M233.3 26.5h7.8M233.3 27.7h7.8M241.1 115.3h7.8M241.1 286.9h7.8M241.1 318.1h7.8M256.7 267.7h7.8M256.7 344.5h7.8"/>
<path stroke="#e7e9fb" stroke-width="1.2" d="M77.3 287h7.8M85.1 197h7.8M85.1 199.4h7.8M85.1 227h7.8M92.9 206.6h7.8M92.9 285.8h7.8M92.9 303.8h7.8M100.7 225.8h7.8M100.7 348.2h7.8M108.5 275h7.8M116.3 205.4h7.8M116.3 242.6h7.8M124.1 157.6h7.8M131.9 154.9h7.8M131.9 256.9h7.8M131.9 295.3h7.8M139.7 359.6h7.8M147.5 203.8h7.8M147.5 316.6h7.8M155.3 136h7.8M155.3 229.6h7.8M163.1 252h7.8M178.7 134.8h7.8M178.7 268h7.8M178.7 313.6h7.8M186.5 207h7.8M194.3 319.5h7.8M202.1 202.1h7.8M217.7 138.2h7.8M217.7 275h7.8M217.7 335h7.8M225.5 183.7h7.8M225.5 322.9h7.8M233.3 142.9h7.8M233.3 169.3h7.8M233.3 222.1h7.8M233.3 267.7h7.8M233.3 273.7h7.8M233.3 276.1h7.8M241.1 51.7h7.8M241.1 104.5h7.8M241.1 135.7h7.8M241.1 265.3h7.8M248.9 115.3h7.8M248.9 130.9h7.8M248.9 134.5h7.8M248.9 175.3h7.8M248.9 297.7h7.8M248.9 331.3h7.8M248.9 332.5h7.8M248.9 338.5h7.8M248.9 340.9h7.8M248.9 352.9h7.8M256.7 109.3h7.8M256.7 159.7h7.8M256.7 183.7h7.8M256.7 195.7h7.8"/>
<path stroke="#ecedfb" stroke-width="1.2" d="M77.3 303.8h7.8M77.3 308.6h7.8M85.1 222.2h7.8M85.1 297.8h7.8M85.1 302.6h7.8M92.9 218.6h7.8M92.9 325.4h7.8M100.7 175.4h7.8M100.7 269h7.8M100.7 301.4h7.8M100.7 332.6h7.8M108.5 187.4h7.8M108.5 237.8h7.8M108.5 284.6h7.8M116.3 209h7.8M116.3 217.4h7.8M116.3 218.6h7.8M124.1 218.8h7.8M124.1 259.6h7.8M124.1 278.8h7.8M124.1 299.2h7.8M131.9 226.9h7.8M131.9 268.9h7.8M131.9 290.5h7.8M131.9 328.9h7.8M139.7 159.2h7.8M139.7 214.4h7.8M139.7 227.6h7.8M139.7 230h7.8M139.7 338h7.8M147.5 137.8h7.8M147.5 141.4h7.8M147.5 149.8h7.8M147.5 157h7.8M147.5 278.2h7.8M147.5 322.6h7.8M147.5 358.6h7.8M155.3 157.6h7.8M155.3 184h7.8M155.3 250h7.8M155.3 259.6h7.8M155.3 348.4h7.8M163.1 168h7.8M163.1 264h7.8M163.1 294h7.8M170.9 152.6h7.8M170.9 170.6h7.8M170.9 296.6h7.8M178.7 162.4h7.8M178.7 172h7.8M178.7 224.8h7.8M178.7 284.8h7.8M178.7 286h7.8M178.7 287.2h7.8M186.5 126.6h7.8M186.5 127.8h7.8M186.5 317.4h7.8M186.5 339h7.8M194.3 234.3h7.8M194.3 251.1h7.8M194.3 321.9h7.8M202.1 142.1h7.8M202.1 150.5h7.8M202.1 174.5h7.8M202.1 240.5h7.8M202.1 262.1h7.8M202.1 288.5h7.8M202.1 360.5h7.8M209.9 252.7h7.8M209.9 303.1h7.8M209.9 330.7h7.8M217.7 127.4h7.8M217.7 153.8h7.8M217.7 267.8h7.8M217.7 276.2h7.8M217.7 324.2h7.8M217.7 353h7.8M225.5 70.9h7.8M225.5 82.9h7.8M225.5 226.9h7.8M225.5 276.1h7.8M225.5 282.1h7.8M225.5 331.3h7.8M233.3 63.7h7.8M233.3 96.1h7.8M233.3 180.1h7.8M233.3 229.3h7.8M233.3 236.5h7.8M241.1 49.3h7.8M241.1 52.9h7.8M241.1 114.1h7.8M241.1 147.7h7.8M241.1 159.7h7.8M241.1 183.7h7.8M241.1 224.5h7.8M241.1 266.5h7.8M241.1 290.5h7.8M248.9 43.3h7.8M248.9 48.1h7.8M248.9 88.9h7.8M248.9 126.1h7.8M248.9 138.1h7.8M248.9 146.5h7.8M248.9 229.3h7.8M248.9 283.3h7.8M248.9 319.3h7.8M256.7 45.7h7.8M256.7 73.3h7.8M256.7 110.5h7.8M256.7 226.9h7.8M256.7 260.5h7.8M256.7 272.5h7.8M256.7 318.1h7.8M256.7 331.3h7.8M256.7 355.3h7.8"/>
<path stroke="#f0f0fc" stroke-width="1.2" d="M77.3 348.2h7.8M85.1 162.2h7.8M85.1 175.4h7.8M100.7 259.4h7.8M131.9 333.7h7.8M147.5 352.6h7.8M155.3 335.2h7.8M163.1 187.2h7.8M163.1 284.4h7.8M186.5 323.4h7.8M194.3 264.3h7.8M202.1 234.5h7.8M202.1 263.3h7.8M209.9 232.3h7.8M209.9 267.1h7.8M217.7 283.4h7.8M225.5 38.5h7.8M225.5 96.1h7.8M225.5 206.5h7.8M233.3 183.7h7.8M241.1 129.7h7.8M241.1 208.9h7.8M241.1 255.7h7.8M241.1 328.9h7.8M248.9 57.7h7.8M248.9 261.7h7.8M256.7 208.9h7.8M256.7 278.5h7.8M256.7 306.1h7.8"/>
<path stroke="#fafafe" stroke-width="0.4" d="M77.3 361h7.8"/>
<path stroke="#f7c2c5" stroke-width="1.3" d="M85.1 23h7.8M85.1 71h7.8M85.1 93.1h7.8M85.1 136h7.8M92.9 43.7h7.8M92.9 139.9h7.8M100.7 74.9h7.8M139.7 45h7.8M139.7 65.8h7.8M139.7 136h7.8M147.5 41.1h7.8M155.3 104.8h7.8"/>
<path stroke="#f7c3c6" stroke-width="1.3" d="M85.1 24.2h7.8M85.1 26.9h7.8M85.1 33.4h7.8M85.1 129.5h7.8M92.9 108.7h7.8M100.7 95.7h7.8M100.7 126.9h7.8M131.9 71h7.8M139.7 23h7.8M139.7 33.4h7.8M139.7 38.5h7.8M139.7 67.1h7.8M139.7 125.6h7.8M202.1 65.8h7.8M202.1 78.8h7.8"/>
<path stroke="#f5b5b8" stroke-width="1.3" d="M85.1 25.6h7.8M92.9 50.2h7.8M92.9 93.1h7.8M155.3 102.2h7.8M217.7 107.9h7.8"/>
<path stroke="#f7c6c9" stroke-width="1.3" d="M85.1 29.5h7.8M85.1 30.8h7.8M85.1 47.6h7.8M85.1 94.4h7.8M85.1 100.9h7.8M85.1 145.1h7.8M85.1 150.3h7.8M100.7 30.8h7.8M124.1 65.8h7.8M124.1 123h7.8M131.9 30.8h7.8M131.9 50.2h7.8M131.9 81.4h7.8M131.9 91.8h7.8M131.9 133.4h7.8M139.7 29.5h7.8M139.7 80.1h7.8M139.7 108.7h7.8M139.7 110h7.8M139.7 141.2h7.8M147.5 102.2h7.8M147.5 125.6h7.8M194.3 111.3h7.8M194.3 115.2h7.8M202.1 33.4h7.8"/>
<path stroke="#f8cacd" stroke-width="1.3" d="M85.1 37.2h7.8M85.1 87.9h7.8M85.1 110h7.8M85.1 146.4h7.8M92.9 89.2h7.8M100.7 28.2h7.8M108.5 41.1h7.8M116.3 94.4h7.8M124.1 24.2h7.8M124.1 29.5h7.8M124.1 46.3h7.8M124.1 103.5h7.8M124.1 104.8h7.8M131.9 34.6h7.8M131.9 58h7.8M131.9 86.6h7.8M147.5 23h7.8M194.3 23h7.8M194.3 24.2h7.8M194.3 74.9h7.8M194.3 95.7h7.8"/>
<path stroke="#f8ced1" stroke-width="1.3" d="M85.1 38.5h7.8M85.1 39.8h7.8M108.5 24.2h7.8M108.5 47.6h7.8M108.5 54.1h7.8M108.5 81.4h7.8M108.5 91.8h7.8M124.1 26.9h7.8M124.1 60.6h7.8M124.1 87.9h7.8M124.1 91.8h7.8M124.1 100.9h7.8M124.1 121.7h7.8M139.7 34.6h7.8M139.7 100.9h7.8M147.5 54.1h7.8M163.1 48.9h7.8M170.9 123h7.8M178.7 43.7h7.8M178.7 87.9h7.8M178.7 93.1h7.8M194.3 34.6h7.8M194.3 35.9h7.8M194.3 58h7.8M194.3 99.6h7.8M194.3 103.5h7.8M194.3 119.1h7.8M194.3 120.4h7.8"/>
<path stroke="#f7c0c3" stroke-width="1.3" d="M85.1 43.7h7.8M85.1 64.5h7.8M85.1 80.1h7.8M85.1 95.7h7.8M85.1 156.9h7.8M92.9 100.9h7.8M100.7 51.5h7.8M100.7 143.8h7.8M100.7 145.1h7.8M124.1 84h7.8M124.1 117.8h7.8M131.9 100.9h7.8M131.9 107.4h7.8M131.9 113.9h7.8M131.9 129.5h7.8M139.7 51.5h7.8M139.7 56.7h7.8M139.7 119.1h7.8M202.1 89.2h7.8M202.1 120.4h7.8"/>
<path stroke="#f9d0d3" stroke-width="1.3" d="M85.1 52.8h7.8M108.5 32.1h7.8M108.5 38.5h7.8M108.5 104.8h7.8M124.1 35.9h7.8M124.1 54.1h7.8M124.1 55.4h7.8M124.1 94.4h7.8M124.1 107.4h7.8M147.5 32.1h7.8M147.5 121.7h7.8M163.1 25.6h7.8M163.1 37.2h7.8M163.1 84h7.8M163.1 99.6h7.8M163.1 117.8h7.8M170.9 69.7h7.8M178.7 69.7h7.8M186.5 87.9h7.8M186.5 90.5h7.8M194.3 29.5h7.8M194.3 56.7h7.8M194.3 59.3h7.8M194.3 71h7.8M194.3 81.4h7.8M194.3 82.7h7.8M194.3 93.1h7.8M209.9 23h7.8M209.9 72.3h7.8M209.9 99.6h7.8M209.9 108.7h7.8"/>
<path stroke="#f7c6ca" stroke-width="1.3" d="M85.1 54.1h7.8M100.7 58h7.8M124.1 39.8h7.8M124.1 99.6h7.8M131.9 85.3h7.8M194.3 45h7.8M194.3 47.6h7.8"/>
<path stroke="#f8c7cb" stroke-width="1.3" d="M85.1 60.6h7.8M85.1 72.3h7.8M100.7 137.3h7.8M139.7 58h7.8M139.7 90.5h7.8M202.1 28.2h7.8M209.9 55.4h7.8"/>
<path stroke="#f8cbce" stroke-width="1.3" d="M85.1 69.7h7.8M85.1 124.3h7.8M124.1 50.2h7.8M124.1 56.7h7.8M124.1 59.3h7.8M124.1 72.3h7.8M124.1 80.1h7.8M124.1 112.6h7.8M124.1 124.3h7.8M131.9 46.3h7.8M139.7 26.9h7.8M139.7 30.8h7.8M139.7 68.4h7.8M139.7 106.1h7.8M139.7 111.3h7.8M147.5 58h7.8M163.1 60.6h7.8M163.1 107.4h7.8M186.5 55.4h7.8M186.5 110h7.8M194.3 25.6h7.8M194.3 26.9h7.8M194.3 46.3h7.8M194.3 72.3h7.8M194.3 116.5h7.8M202.1 110h7.8"/>
<path stroke="#f9cfd2" stroke-width="1.3" d="M85.1 73.6h7.8M85.1 112.6h7.8M85.1 119.1h7.8M108.5 56.7h7.8M108.5 115.2h7.8M108.5 137.3h7.8M124.1 41.1h7.8M124.1 45h7.8M139.7 112.6h7.8M139.7 121.7h7.8M147.5 63.2h7.8M147.5 82.7h7.8M147.5 89.2h7.8M147.5 108.7h7.8M163.1 56.7h7.8M163.1 77.5h7.8M163.1 91.8h7.8M163.1 123h7.8M178.7 82.7h7.8M186.5 69.7h7.8M194.3 97h7.8M194.3 110h7.8M194.3 121.7h7.8M209.9 24.2h7.8M209.9 38.5h7.8M209.9 68.4h7.8M209.9 111.3h7.8"/>
<path stroke="#f7c1c4" stroke-width="1.3" d="M85.1 82.7h7.8M85.1 108.7h7.8M85.1 155.6h7.8M92.9 51.5h7.8M92.9 54.1h7.8M92.9 72.3h7.8M92.9 86.6h7.8M100.7 155.6h7.8M124.1 102.2h7.8M131.9 48.9h7.8M131.9 138.6h7.8M131.9 141.2h7.8M139.7 42.4h7.8M139.7 46.3h7.8M139.7 69.7h7.8M139.7 91.8h7.8M139.7 94.4h7.8"/>
<path stroke="#f8c8cb" stroke-width="1.3" d="M85.1 84h7.8M92.9 146.4h7.8M100.7 153h7.8M124.1 98.3h7.8M124.1 106.1h7.8M124.1 108.7h7.8M131.9 51.5h7.8M131.9 60.6h7.8M131.9 90.5h7.8M131.9 102.2h7.8M139.7 24.2h7.8M139.7 47.6h7.8M139.7 50.2h7.8M139.7 71h7.8M186.5 111.3h7.8M194.3 80.1h7.8M202.1 55.4h7.8M202.1 84h7.8M202.1 106.1h7.8"/>
<path stroke="#f8c9cc" stroke-width="1.3" d="M85.1 97h7.8M100.7 37.2h7.8M100.7 124.3h7.8M108.5 90.5h7.8M124.1 63.2h7.8M124.1 64.5h7.8M124.1 76.2h7.8M124.1 81.4h7.8M131.9 28.2h7.8M131.9 55.4h7.8M139.7 60.6h7.8M139.7 124.3h7.8M178.7 45h7.8M194.3 52.8h7.8M194.3 65.8h7.8M194.3 67.1h7.8"/>
<path stroke="#f8cace" stroke-width="1.3" d="M85.1 98.3h7.8M124.1 25.6h7.8M139.7 103.5h7.8"/>
<path stroke="#f8c7ca" stroke-width="1.3" d="M85.1 99.6h7.8M139.7 78.8h7.8M139.7 139.9h7.8M194.3 113.9h7.8"/>
<path stroke="#f8cccf" stroke-width="1.3" d="M85.1 102.2h7.8M85.1 104.8h7.8M85.1 142.5h7.8M108.5 67.1h7.8M108.5 138.6h7.8M108.5 151.7h7.8M124.1 23h7.8M124.1 69.7h7.8M124.1 71h7.8M124.1 115.2h7.8M139.7 37.2h7.8M147.5 37.2h7.8M147.5 132.1h7.8M163.1 78.8h7.8M170.9 29.5h7.8M170.9 56.7h7.8M178.7 117.8h7.8M186.5 47.6h7.8M186.5 48.9h7.8M186.5 77.5h7.8M194.3 86.6h7.8M194.3 87.9h7.8M194.3 98.3h7.8M194.3 117.8h7.8M209.9 117.8h7.8"/>
<path stroke="#f8c8cc" stroke-width="1.3" d="M85.1 103.5h7.8M124.1 120.4h7.8M131.9 38.5h7.8M139.7 32.1h7.8M139.7 120.4h7.8M194.3 41.1h7.8M209.9 119.1h7.8"/>
<path stroke="#f7c5c8" stroke-width="1.3" d="M85.1 121.7h7.8M92.9 74.9h7.8M100.7 25.6h7.8M100.7 46.3h7.8M100.7 52.8h7.8M100.7 103.5h7.8M124.1 67.1h7.8M139.7 41.1h7.8M139.7 123h7.8"/>
<path stroke="#f9d6d8" stroke-width="1.3" d="M85.1 125.6h7.8M108.5 103.5h7.8M163.1 110h7.8M170.9 106.1h7.8M186.5 103.5h7.8"/>
<path stroke="#f6b9bc" stroke-width="1.3" d="M85.1 132.1h7.8M92.9 58h7.8M92.9 67.1h7.8M92.9 81.4h7.8M100.7 90.5h7.8M100.7 139.9h7.8M116.3 141.2h7.8M131.9 68.4h7.8M131.9 89.2h7.8M155.3 110h7.8M202.1 45h7.8M202.1 51.5h7.8M202.1 54.1h7.8M202.1 59.3h7.8"/>
<path stroke="#f7c1c5" stroke-width="1.3" d="M85.1 133.4h7.8M92.9 56.7h7.8M100.7 47.6h7.8M100.7 68.4h7.8M100.7 69.7h7.8M100.7 80.1h7.8M100.7 84h7.8M131.9 42.4h7.8M139.7 52.8h7.8M139.7 73.6h7.8M139.7 137.3h7.8M139.7 138.6h7.8M194.3 32.1h7.8M194.3 42.4h7.8"/>
<path stroke="#f7c7ca" stroke-width="1.3" d="M85.1 134.7h7.8M85.1 153h7.8M100.7 32.1h7.8M100.7 100.9h7.8M139.7 61.9h7.8M139.7 113.9h7.8M155.3 115.2h7.8M194.3 106.1h7.8M194.3 107.4h7.8"/>
<path stroke="#f8cdd0" stroke-width="1.3" d="M85.1 137.3h7.8M108.5 95.7h7.8M124.1 28.2h7.8M124.1 42.4h7.8M124.1 78.8h7.8M124.1 85.3h7.8M131.9 25.6h7.8M139.7 95.7h7.8M139.7 116.5h7.8M139.7 133.4h7.8M147.5 42.4h7.8M147.5 76.2h7.8M147.5 80.1h7.8M163.1 71h7.8M163.1 87.9h7.8M163.1 104.8h7.8M194.3 39.8h7.8M194.3 54.1h7.8M194.3 76.2h7.8M194.3 77.5h7.8M194.3 91.8h7.8M194.3 100.9h7.8M209.9 47.6h7.8M209.9 59.3h7.8M209.9 73.6h7.8"/>
<path stroke="#f7c0c4" stroke-width="1.3" d="M85.1 141.2h7.8M92.9 128.2h7.8M100.7 54.1h7.8M100.7 111.3h7.8M116.3 48.9h7.8M116.3 73.6h7.8M116.3 99.6h7.8M131.9 125.6h7.8M139.7 28.2h7.8M139.7 89.2h7.8M202.1 68.4h7.8"/>
<path stroke="#f7bfc3" stroke-width="0.5" d="M85.1 157.8h7.8"/>
<path stroke="#edeefb" stroke-width="1.2" d="M85.1 164.6h7.8M92.9 170.6h7.8M92.9 230.6h7.8M108.5 174.2h7.8M108.5 207.8h7.8M124.1 262h7.8M131.9 249.7h7.8M131.9 280.9h7.8M131.9 324.1h7.8M131.9 326.5h7.8M131.9 336.1h7.8M139.7 224h7.8M139.7 246.8h7.8M139.7 303.2h7.8M147.5 273.4h7.8M155.3 358h7.8M163.1 250.8h7.8M170.9 242.6h7.8M170.9 264.2h7.8M170.9 337.4h7.8M178.7 247.6h7.8M178.7 341.2h7.8M186.5 151.8h7.8M186.5 348.6h7.8M194.3 258.3h7.8M194.3 305.1h7.8M202.1 210.5h7.8M202.1 276.5h7.8M209.9 143.5h7.8M209.9 229.9h7.8M209.9 270.7h7.8M209.9 357.1h7.8M217.7 242.6h7.8M217.7 350.6h7.8M225.5 112.9h7.8M233.3 45.7h7.8M233.3 86.5h7.8M233.3 145.3h7.8M233.3 218.5h7.8M233.3 220.9h7.8M233.3 243.7h7.8M233.3 290.5h7.8M233.3 344.5h7.8M241.1 45.7h7.8M248.9 30.1h7.8M248.9 84.1h7.8M248.9 135.7h7.8M248.9 144.1h7.8M248.9 232.9h7.8M256.7 78.1h7.8M256.7 102.1h7.8M256.7 136.9h7.8M256.7 150.1h7.8"/>
<path stroke="#e7e9fa" stroke-width="1.2" d="M85.1 203h7.8M85.1 318.2h7.8M100.7 199.4h7.8M100.7 229.4h7.8M116.3 189.8h7.8M116.3 236.6h7.8M147.5 261.4h7.8M147.5 286.6h7.8M155.3 263.2h7.8M163.1 151.2h7.8M163.1 234h7.8M186.5 252.6h7.8M194.3 197.1h7.8M194.3 217.5h7.8M217.7 285.8h7.8M217.7 289.4h7.8M217.7 343.4h7.8M233.3 224.5h7.8M233.3 231.7h7.8M241.1 172.9h7.8M248.9 38.5h7.8M248.9 50.5h7.8M248.9 165.7h7.8M256.7 343.3h7.8"/>
<path stroke="#e8eafb" stroke-width="1.2" d="M85.1 218.6h7.8M85.1 293h7.8M85.1 353h7.8M92.9 323h7.8M100.7 213.8h7.8M100.7 291.8h7.8M100.7 333.8h7.8M100.7 335h7.8M108.5 302.6h7.8M116.3 211.4h7.8M116.3 327.8h7.8M124.1 175.6h7.8M124.1 247.6h7.8M131.9 177.7h7.8M131.9 302.5h7.8M139.7 148.4h7.8M139.7 194h7.8M147.5 209.8h7.8M147.5 284.2h7.8M147.5 302.2h7.8M155.3 264.4h7.8M163.1 182.4h7.8M163.1 225.6h7.8M163.1 231.6h7.8M163.1 274.8h7.8M163.1 282h7.8M170.9 140.6h7.8M170.9 211.4h7.8M186.5 357h7.8M217.7 134.6h7.8M217.7 144.2h7.8M217.7 185h7.8M217.7 187.4h7.8M217.7 223.4h7.8M225.5 39.7h7.8M225.5 158.5h7.8M225.5 272.5h7.8M225.5 343.3h7.8M233.3 46.9h7.8M233.3 82.9h7.8M233.3 130.9h7.8M233.3 184.9h7.8M233.3 200.5h7.8M233.3 208.9h7.8M233.3 213.7h7.8M233.3 237.7h7.8M233.3 262.9h7.8M233.3 325.3h7.8M233.3 326.5h7.8M233.3 331.3h7.8M241.1 170.5h7.8M241.1 240.1h7.8M241.1 309.7h7.8M241.1 320.5h7.8M241.1 350.5h7.8M248.9 45.7h7.8M248.9 51.7h7.8M248.9 266.5h7.8M248.9 270.1h7.8M248.9 355.3h7.8M256.7 123.7h7.8M256.7 163.3h7.8"/>
<path stroke="#f8f8fe" stroke-width="0.4" d="M85.1 361h7.8M116.3 361h7.8M170.9 361h7.8"/>
<path stroke="#f7c4c8" stroke-width="1.3" d="M92.9 34.6h7.8M124.1 61.9h7.8M124.1 68.4h7.8M139.7 43.7h7.8M139.7 134.7h7.8M163.1 121.7h7.8"/>
<path stroke="#f6b7bb" stroke-width="1.3" d="M92.9 64.5h7.8M92.9 130.8h7.8M100.7 86.6h7.8M100.7 123h7.8M131.9 32.1h7.8M131.9 119.1h7.8M202.1 23h7.8M202.1 24.2h7.8M217.7 68.9h7.8"/>
<path stroke="#f7c4c7" stroke-width="0.5" d="M92.9 157.8h7.8"/>
<path stroke="#eceefb" stroke-width="1.2" d="M92.9 168.2h7.8M147.5 339.4h7.8M225.5 90.1h7.8M225.5 274.9h7.8M248.9 108.1h7.8"/>
<path stroke="#efeffc" stroke-width="1.2" d="M92.9 227h7.8M92.9 301.4h7.8M100.7 207.8h7.8M100.7 272.6h7.8M124.1 350.8h7.8M131.9 294.1h7.8M147.5 193h7.8M147.5 245.8h7.8M155.3 222.4h7.8M155.3 305.2h7.8M163.1 339.6h7.8M194.3 314.7h7.8M217.7 272.6h7.8M225.5 36.1h7.8M225.5 79.3h7.8M241.1 112.9h7.8M241.1 244.9h7.8M241.1 321.7h7.8M248.9 190.9h7.8M248.9 236.5h7.8M256.7 38.5h7.8M256.7 204.1h7.8"/>
<path stroke="#e9ebfb" stroke-width="1.2" d="M92.9 318.2h7.8M116.3 269h7.8M124.1 176.8h7.8M124.1 253.6h7.8M124.1 264.4h7.8M124.1 270.4h7.8M124.1 349.6h7.8M131.9 205.3h7.8M131.9 231.7h7.8M131.9 349.3h7.8M139.7 279.2h7.8M139.7 321.2h7.8M147.5 142.6h7.8M147.5 229h7.8M147.5 290.2h7.8M155.3 149.2h7.8M155.3 208h7.8M155.3 283.6h7.8M163.1 156h7.8M178.7 169.6h7.8M178.7 260.8h7.8M178.7 263.2h7.8M186.5 235.8h7.8M186.5 275.4h7.8M186.5 292.2h7.8M202.1 139.7h7.8M202.1 226.1h7.8M202.1 334.1h7.8M209.9 322.3h7.8M217.7 140.6h7.8M217.7 309.8h7.8M217.7 313.4h7.8M217.7 333.8h7.8M225.5 211.3h7.8M225.5 213.7h7.8M225.5 249.7h7.8M225.5 268.9h7.8M233.3 171.7h7.8M233.3 186.1h7.8M233.3 238.9h7.8M233.3 246.1h7.8M233.3 285.7h7.8M241.1 33.7h7.8M241.1 264.1h7.8M241.1 312.1h7.8M241.1 342.1h7.8M241.1 358.9h7.8M248.9 99.7h7.8M248.9 260.5h7.8M248.9 291.7h7.8M248.9 294.1h7.8M256.7 43.3h7.8M256.7 234.1h7.8M256.7 290.5h7.8"/>
<path stroke="#f9f9fe" stroke-width="0.4" d="M92.9 361h7.8"/>
<path stroke="#f8cacd" stroke-width="0.5" d="M100.7 157.8h7.8"/>
<path stroke="#e7e8fa" stroke-width="1.2" d="M100.7 258.2h7.8M124.1 314.8h7.8M131.9 271.3h7.8M139.7 155.6h7.8M139.7 185.6h7.8M147.5 231.4h7.8M155.3 150.4h7.8M178.7 330.4h7.8M217.7 204.2h7.8M217.7 269h7.8M217.7 288.2h7.8M241.1 110.5h7.8M241.1 154.9h7.8M241.1 216.1h7.8M241.1 250.9h7.8M241.1 314.5h7.8M241.1 326.5h7.8M248.9 220.9h7.8"/>
<path stroke="#eeeefc" stroke-width="1.2" d="M100.7 296.6h7.8M108.5 291.8h7.8M124.1 272.8h7.8M170.9 347h7.8M256.7 301.3h7.8"/>
<path stroke="#fce7e9" stroke-width="1.3" d="M108.5 23h7.8M108.5 99.6h7.8M170.9 60.6h7.8"/>
<path stroke="#f9d5d8" stroke-width="1.3" d="M108.5 25.6h7.8M108.5 61.9h7.8M108.5 113.9h7.8M108.5 136h7.8M139.7 84h7.8M147.5 43.7h7.8M147.5 48.9h7.8M147.5 52.8h7.8M147.5 94.4h7.8M163.1 34.6h7.8M163.1 54.1h7.8M163.1 58h7.8M163.1 61.9h7.8M163.1 93.1h7.8M170.9 24.2h7.8M170.9 46.3h7.8M178.7 60.6h7.8M178.7 68.4h7.8M186.5 63.2h7.8M186.5 76.2h7.8M186.5 108.7h7.8M186.5 121.7h7.8M209.9 48.9h7.8M209.9 56.7h7.8M209.9 93.1h7.8"/>
<path stroke="#fbe4e6" stroke-width="1.3" d="M108.5 26.9h7.8M108.5 142.5h7.8M163.1 85.3h7.8M186.5 30.8h7.8"/>
<path stroke="#fadbde" stroke-width="1.3" d="M108.5 28.2h7.8M108.5 30.8h7.8M108.5 97h7.8M108.5 153h7.8M147.5 51.5h7.8M147.5 85.3h7.8M147.5 113.9h7.8M147.5 119.1h7.8M163.1 64.5h7.8M163.1 103.5h7.8M170.9 91.8h7.8M170.9 112.6h7.8M178.7 50.2h7.8M178.7 52.8h7.8M178.7 54.1h7.8M178.7 73.6h7.8M186.5 61.9h7.8M186.5 100.9h7.8M209.9 98.3h7.8M209.9 113.9h7.8"/>
<path stroke="#fad9db" stroke-width="1.3" d="M108.5 29.5h7.8M163.1 30.8h7.8M209.9 61.9h7.8"/>
<path stroke="#f9d4d7" stroke-width="1.3" d="M108.5 33.4h7.8M108.5 51.5h7.8M108.5 134.7h7.8M124.1 93.1h7.8M147.5 104.8h7.8M147.5 120.4h7.8M163.1 59.3h7.8M163.1 113.9h7.8M163.1 116.5h7.8M163.1 125.6h7.8M170.9 25.6h7.8M170.9 37.2h7.8M170.9 72.3h7.8M170.9 86.6h7.8M178.7 30.8h7.8M178.7 33.4h7.8M178.7 37.2h7.8M178.7 42.4h7.8M178.7 47.6h7.8M178.7 64.5h7.8M178.7 78.8h7.8M178.7 86.6h7.8M178.7 102.2h7.8M186.5 35.9h7.8M186.5 84h7.8M186.5 91.8h7.8M186.5 120.4h7.8M194.3 104.8h7.8M194.3 123h7.8"/>
<path stroke="#f9d6d9" stroke-width="1.3" d="M108.5 34.6h7.8M108.5 119.1h7.8M147.5 34.6h7.8M147.5 64.5h7.8M147.5 78.8h7.8M147.5 100.9h7.8M147.5 112.6h7.8M163.1 28.2h7.8M163.1 89.2h7.8M163.1 95.7h7.8M163.1 128.2h7.8M170.9 64.5h7.8M170.9 90.5h7.8M170.9 99.6h7.8M170.9 117.8h7.8M178.7 98.3h7.8M178.7 110h7.8M194.3 38.5h7.8M209.9 39.8h7.8M209.9 81.4h7.8M209.9 87.9h7.8M209.9 102.2h7.8M209.9 121.7h7.8"/>
<path stroke="#fad7da" stroke-width="1.3" d="M108.5 35.9h7.8M108.5 69.7h7.8M108.5 74.9h7.8M108.5 89.2h7.8M108.5 98.3h7.8M108.5 141.2h7.8M108.5 146.4h7.8M108.5 149h7.8M147.5 33.4h7.8M147.5 91.8h7.8M147.5 111.3h7.8M163.1 80.1h7.8M163.1 111.3h7.8M163.1 120.4h7.8M170.9 39.8h7.8M170.9 76.2h7.8M170.9 81.4h7.8M178.7 28.2h7.8M178.7 34.6h7.8M178.7 35.9h7.8M178.7 61.9h7.8M178.7 95.7h7.8M178.7 100.9h7.8M178.7 116.5h7.8M186.5 65.8h7.8M186.5 95.7h7.8M186.5 97h7.8M194.3 37.2h7.8M209.9 41.1h7.8M209.9 91.8h7.8M209.9 97h7.8"/>
<path stroke="#fadadd" stroke-width="1.3" d="M108.5 37.2h7.8M108.5 60.6h7.8M108.5 77.5h7.8M108.5 87.9h7.8M108.5 143.8h7.8M139.7 39.8h7.8M147.5 30.8h7.8M147.5 50.2h7.8M147.5 123h7.8M170.9 47.6h7.8M170.9 93.1h7.8M170.9 97h7.8M178.7 41.1h7.8M178.7 67.1h7.8M178.7 77.5h7.8M178.7 112.6h7.8M178.7 124.3h7.8M178.7 125.6h7.8M186.5 54.1h7.8M194.3 94.4h7.8M194.3 108.7h7.8M209.9 34.6h7.8M209.9 58h7.8M209.9 104.8h7.8"/>
<path stroke="#fadee0" stroke-width="1.3" d="M108.5 39.8h7.8M163.1 35.9h7.8M163.1 82.7h7.8M163.1 119.1h7.8M170.9 73.6h7.8M170.9 119.1h7.8M178.7 108.7h7.8M178.7 111.3h7.8M186.5 52.8h7.8M186.5 64.5h7.8M186.5 82.7h7.8M209.9 26.9h7.8M209.9 33.4h7.8"/>
<path stroke="#fad9dc" stroke-width="1.3" d="M108.5 42.4h7.8M108.5 72.3h7.8M108.5 73.6h7.8M108.5 76.2h7.8M108.5 85.3h7.8M108.5 93.1h7.8M147.5 59.3h7.8M147.5 74.9h7.8M147.5 98.3h7.8M147.5 99.6h7.8M147.5 126.9h7.8M163.1 90.5h7.8M170.9 32.1h7.8M170.9 82.7h7.8M170.9 126.9h7.8M178.7 29.5h7.8M178.7 38.5h7.8M178.7 46.3h7.8M178.7 63.2h7.8M178.7 81.4h7.8M178.7 119.1h7.8M178.7 123h7.8M186.5 32.1h7.8M186.5 94.4h7.8M186.5 102.2h7.8M186.5 107.4h7.8M194.3 69.7h7.8M194.3 112.6h7.8M209.9 30.8h7.8M209.9 35.9h7.8M209.9 37.2h7.8M209.9 78.8h7.8"/>
<path stroke="#fbe3e6" stroke-width="1.3" d="M108.5 43.7h7.8"/>
<path stroke="#f9d3d6" stroke-width="1.3" d="M108.5 45h7.8M108.5 58h7.8M108.5 116.5h7.8M108.5 150.3h7.8M147.5 26.9h7.8M147.5 38.5h7.8M163.1 26.9h7.8M163.1 68.4h7.8M163.1 74.9h7.8M163.1 102.2h7.8M170.9 33.4h7.8M178.7 24.2h7.8M186.5 24.2h7.8M186.5 34.6h7.8M186.5 37.2h7.8M186.5 60.6h7.8M186.5 71h7.8M186.5 112.6h7.8M194.3 30.8h7.8M194.3 50.2h7.8M194.3 63.2h7.8M209.9 45h7.8M209.9 116.5h7.8"/>
<path stroke="#fadadc" stroke-width="1.3" d="M108.5 46.3h7.8M108.5 63.2h7.8M108.5 112.6h7.8M108.5 130.8h7.8M147.5 60.6h7.8M163.1 38.5h7.8M163.1 76.2h7.8M163.1 124.3h7.8M170.9 104.8h7.8M178.7 89.2h7.8M186.5 33.4h7.8M186.5 85.3h7.8M186.5 99.6h7.8M209.9 46.3h7.8M209.9 77.5h7.8M209.9 82.7h7.8"/>
<path stroke="#fbdfe2" stroke-width="1.3" d="M108.5 48.9h7.8M108.5 94.4h7.8M108.5 139.9h7.8M163.1 43.7h7.8M170.9 23h7.8M170.9 95.7h7.8M178.7 65.8h7.8M186.5 58h7.8M186.5 80.1h7.8M209.9 85.3h7.8"/>
<path stroke="#f9d2d5" stroke-width="1.3" d="M108.5 50.2h7.8M108.5 126.9h7.8M108.5 145.1h7.8M124.1 30.8h7.8M124.1 33.4h7.8M124.1 95.7h7.8M139.7 82.7h7.8M139.7 117.8h7.8M147.5 24.2h7.8M147.5 55.4h7.8M147.5 86.6h7.8M147.5 103.5h7.8M147.5 128.2h7.8M163.1 32.1h7.8M163.1 33.4h7.8M163.1 39.8h7.8M163.1 42.4h7.8M163.1 52.8h7.8M163.1 65.8h7.8M163.1 86.6h7.8M163.1 98.3h7.8M170.9 65.8h7.8M170.9 80.1h7.8M178.7 80.1h7.8M178.7 85.3h7.8M186.5 25.6h7.8M186.5 78.8h7.8M194.3 64.5h7.8M194.3 102.2h7.8M209.9 65.8h7.8M209.9 76.2h7.8M209.9 107.4h7.8M209.9 120.4h7.8"/>
<path stroke="#fbe2e5" stroke-width="1.3" d="M108.5 52.8h7.8M108.5 59.3h7.8M108.5 86.6h7.8M108.5 107.4h7.8M163.1 41.1h7.8M170.9 52.8h7.8M178.7 113.9h7.8M186.5 39.8h7.8M186.5 41.1h7.8"/>
<path stroke="#fbe6e8" stroke-width="1.3" d="M108.5 55.4h7.8M170.9 59.3h7.8M170.9 100.9h7.8"/>
<path stroke="#fadde0" stroke-width="1.3" d="M108.5 64.5h7.8M108.5 82.7h7.8M108.5 108.7h7.8M108.5 124.3h7.8M147.5 84h7.8M163.1 94.4h7.8M170.9 74.9h7.8M170.9 116.5h7.8M178.7 26.9h7.8M186.5 59.3h7.8M186.5 89.2h7.8M209.9 25.6h7.8M209.9 50.2h7.8M209.9 95.7h7.8"/>
<path stroke="#fbdfe1" stroke-width="1.3" d="M108.5 65.8h7.8M108.5 154.3h7.8M147.5 81.4h7.8M163.1 81.4h7.8M170.9 108.7h7.8M170.9 115.2h7.8M178.7 23h7.8M178.7 71h7.8M178.7 115.2h7.8M186.5 123h7.8M209.9 60.6h7.8"/>
<path stroke="#fbe0e2" stroke-width="1.3" d="M108.5 68.4h7.8M108.5 71h7.8M108.5 84h7.8M163.1 100.9h7.8M170.9 71h7.8M178.7 55.4h7.8M186.5 72.3h7.8M186.5 116.5h7.8"/>
<path stroke="#fadee1" stroke-width="1.3" d="M108.5 78.8h7.8M147.5 110h7.8M170.9 102.2h7.8M178.7 72.3h7.8M186.5 86.6h7.8M186.5 124.3h7.8M209.9 64.5h7.8M209.9 115.2h7.8"/>
<path stroke="#fbe2e4" stroke-width="1.3" d="M108.5 80.1h7.8M108.5 132.1h7.8M163.1 63.2h7.8M170.9 98.3h7.8M170.9 120.4h7.8M170.9 124.3h7.8M209.9 28.2h7.8"/>
<path stroke="#f9d1d4" stroke-width="1.3" d="M108.5 100.9h7.8M108.5 156.9h7.8M124.1 47.6h7.8M124.1 82.7h7.8M124.1 110h7.8M124.1 111.3h7.8M139.7 64.5h7.8M147.5 28.2h7.8M147.5 46.3h7.8M147.5 68.4h7.8M147.5 90.5h7.8M147.5 115.2h7.8M163.1 24.2h7.8M170.9 42.4h7.8M170.9 103.5h7.8M170.9 107.4h7.8M186.5 74.9h7.8M194.3 48.9h7.8M194.3 51.5h7.8M194.3 55.4h7.8M194.3 60.6h7.8M194.3 84h7.8M209.9 42.4h7.8M209.9 52.8h7.8M209.9 80.1h7.8"/>
<path stroke="#fce9eb" stroke-width="1.3" d="M108.5 102.2h7.8M108.5 110h7.8"/>
<path stroke="#fbe0e3" stroke-width="1.3" d="M108.5 106.1h7.8M163.1 47.6h7.8M163.1 97h7.8M170.9 89.2h7.8M170.9 125.6h7.8M186.5 45h7.8M186.5 81.4h7.8M186.5 117.8h7.8M209.9 51.5h7.8M209.9 71h7.8M209.9 110h7.8"/>
<path stroke="#fcedef" stroke-width="1.3" d="M108.5 111.3h7.8"/>
<path stroke="#fbe5e7" stroke-width="1.3" d="M108.5 117.8h7.8M170.9 48.9h7.8M170.9 51.5h7.8"/>
<path stroke="#fbe4e7" stroke-width="1.3" d="M108.5 120.4h7.8M108.5 121.7h7.8M170.9 28.2h7.8M170.9 54.1h7.8M170.9 121.7h7.8"/>
<path stroke="#fbe3e5" stroke-width="1.3" d="M108.5 123h7.8M163.1 55.4h7.8M170.9 63.2h7.8M178.7 107.4h7.8"/>
<path stroke="#f8c9cd" stroke-width="1.3" d="M108.5 125.6h7.8M178.7 104.8h7.8M194.3 85.3h7.8"/>
<path stroke="#fbe1e4" stroke-width="1.3" d="M108.5 128.2h7.8M147.5 73.6h7.8M147.5 106.1h7.8M170.9 45h7.8M170.9 68.4h7.8M178.7 74.9h7.8M178.7 90.5h7.8M178.7 94.4h7.8"/>
<path stroke="#fadcdf" stroke-width="1.3" d="M108.5 129.5h7.8M108.5 147.7h7.8M147.5 25.6h7.8M147.5 29.5h7.8M147.5 45h7.8M147.5 67.1h7.8M147.5 129.5h7.8M163.1 23h7.8M163.1 29.5h7.8M163.1 45h7.8M163.1 106.1h7.8M170.9 34.6h7.8M170.9 55.4h7.8M170.9 77.5h7.8M186.5 29.5h7.8M186.5 51.5h7.8M186.5 68.4h7.8M186.5 93.1h7.8M186.5 104.8h7.8"/>
<path stroke="#fadcde" stroke-width="1.3" d="M108.5 133.4h7.8M147.5 56.7h7.8M147.5 133.4h7.8M170.9 43.7h7.8M170.9 94.4h7.8M178.7 121.7h7.8M186.5 46.3h7.8"/>
<path stroke="#fadbdd" stroke-width="1.3" d="M108.5 155.6h7.8M147.5 39.8h7.8M147.5 107.4h7.8M147.5 124.3h7.8M147.5 130.8h7.8M163.1 112.6h7.8M170.9 61.9h7.8M186.5 106.1h7.8M209.9 54.1h7.8"/>
<path stroke="#fadadd" stroke-width="0.5" d="M108.5 157.8h7.8"/>
<path stroke="#f4abaf" stroke-width="1.3" d="M116.3 30.8h7.8M116.3 58h7.8M116.3 138.6h7.8M155.3 45h7.8M155.3 51.5h7.8M155.3 58h7.8M217.7 44.2h7.8M217.7 63.7h7.8M217.7 102.7h7.8"/>
<path stroke="#f5b4b7" stroke-width="1.3" d="M116.3 80.1h7.8M155.3 25.6h7.8M202.1 37.2h7.8"/>
<path stroke="#f3a3a7" stroke-width="1.3" d="M116.3 91.8h7.8M155.3 86.6h7.8M217.7 94.9h7.8"/>
<path stroke="#f7c5c9" stroke-width="1.3" d="M116.3 106.1h7.8M124.1 90.5h7.8M139.7 76.2h7.8M139.7 77.5h7.8M139.7 129.5h7.8M178.7 99.6h7.8"/>
<path stroke="#f5b3b7" stroke-width="0.5" d="M116.3 157.8h7.8"/>
<path stroke="#ebedfb" stroke-width="1.2" d="M116.3 206.6h7.8M116.3 321.8h7.8M131.9 337.3h7.8M139.7 318.8h7.8M139.7 328.4h7.8M163.1 200.4h7.8M202.1 298.1h7.8M217.7 295.4h7.8M225.5 310.9h7.8M233.3 37.3h7.8M233.3 91.3h7.8M233.3 272.5h7.8"/>
<path stroke="#f9d5d7" stroke-width="1.3" d="M124.1 34.6h7.8M147.5 87.9h7.8M147.5 95.7h7.8M163.1 50.2h7.8M170.9 50.2h7.8M178.7 56.7h7.8"/>
<path stroke="#f8cbcf" stroke-width="1.3" d="M124.1 51.5h7.8M178.7 59.3h7.8M194.3 28.2h7.8"/>
<path stroke="#f8ccd0" stroke-width="1.3" d="M124.1 77.5h7.8M186.5 73.6h7.8"/>
<path stroke="#f8cdd1" stroke-width="1.3" d="M124.1 89.2h7.8M194.3 78.8h7.8"/>
<path stroke="#f8cbce" stroke-width="1" d="M124.1 125.5h7.8"/>
<path stroke="#fbdfe2" stroke-width="1.5" d="M124.1 126.8h7.8M124.1 137.2h7.8"/>
<path stroke="#fcedef" stroke-width="1.5" d="M124.1 128.2h7.8M124.1 135.8h7.8"/>
<path stroke="#fce6e9" stroke-width="1.5" d="M124.1 129.8h7.8"/>
<path stroke="#fbe4e7" stroke-width="1.5" d="M124.1 131.2h7.8"/>
<path stroke="#fce9ec" stroke-width="1.5" d="M124.1 132.8h7.8"/>
<path stroke="#fbe3e5" stroke-width="1.5" d="M124.1 134.2h7.8"/>
<path stroke="#fbe5e8" stroke-width="1.5" d="M124.1 138.8h7.8"/>
<path stroke="#fce8ea" stroke-width="1.5" d="M124.1 140.2h7.8"/>
<path stroke="#fcebed" stroke-width="1.5" d="M124.1 141.8h7.8"/>
<path stroke="#fbe5e7" stroke-width="1.5" d="M124.1 143.2h7.8"/>
<path stroke="#fcecee" stroke-width="1" d="M124.1 144.5h7.8"/>
<path stroke="#f7c5c8" stroke-width="0.3" d="M131.9 143.3h7.8"/>
<path stroke="#fafafe" stroke-width="0.5" d="M131.9 360.9h7.8"/>
<path stroke="#f8cfd2" stroke-width="1.3" d="M139.7 59.3h7.8M163.1 126.9h7.8M170.9 41.1h7.8M178.7 76.2h7.8M194.3 89.2h7.8"/>
<path stroke="#f7c1c4" stroke-width="1.1" d="M139.7 142.4h7.8"/>
<path stroke="#fbdee1" stroke-width="1.3" d="M147.5 35.9h7.8M209.9 86.6h7.8M209.9 106.1h7.8"/>
<path stroke="#fadddf" stroke-width="1.3" d="M147.5 47.6h7.8M147.5 72.3h7.8M147.5 97h7.8M147.5 117.8h7.8M170.9 35.9h7.8M178.7 51.5h7.8M186.5 26.9h7.8M186.5 50.2h7.8M186.5 67.1h7.8M209.9 29.5h7.8M209.9 84h7.8"/>
<path stroke="#fbe1e3" stroke-width="1.3" d="M147.5 61.9h7.8M163.1 51.5h7.8M163.1 115.2h7.8M170.9 111.3h7.8M178.7 32.1h7.8M178.7 84h7.8M186.5 28.2h7.8M186.5 38.5h7.8M209.9 43.7h7.8"/>
<path stroke="#fad8db" stroke-width="1.3" d="M147.5 65.8h7.8M147.5 69.7h7.8M147.5 71h7.8M147.5 93.1h7.8M163.1 46.3h7.8M163.1 67.1h7.8M163.1 69.7h7.8M163.1 73.6h7.8M170.9 67.1h7.8M178.7 39.8h7.8M178.7 58h7.8M178.7 97h7.8M178.7 103.5h7.8M186.5 119.1h7.8M194.3 90.5h7.8M209.9 32.1h7.8M209.9 90.5h7.8M209.9 94.4h7.8M209.9 100.9h7.8M209.9 103.5h7.8"/>
<path stroke="#fad8da" stroke-width="1.3" d="M147.5 77.5h7.8M147.5 134.7h7.8M170.9 38.5h7.8M178.7 48.9h7.8M186.5 56.7h7.8M186.5 113.9h7.8M209.9 67.1h7.8M209.9 89.2h7.8"/>
<path stroke="#fcebed" stroke-width="1.3" d="M147.5 116.5h7.8M186.5 115.2h7.8"/>
<path stroke="#f9d6d8" stroke-width="0.6" d="M147.5 135.7h7.8"/>
<path stroke="#ebedfb" stroke-width="0.8" d="M147.5 360.8h7.8"/>
<path stroke="#f29da1" stroke-width="1.3" d="M155.3 50.2h7.8"/>
<path stroke="#f3a1a6" stroke-width="1.3" d="M155.3 77.5h7.8"/>
<path stroke="#f29fa4" stroke-width="1.3" d="M155.3 84h7.8"/>
<path stroke="#f5b1b4" stroke-width="1.3" d="M155.3 94.4h7.8M202.1 94.4h7.8M217.7 84.5h7.8"/>
<path stroke="#f3a5a9" stroke-width="1.3" d="M155.3 133.4h7.8"/>
<path stroke="#f9f9fe" stroke-width="0.2" d="M155.3 361.1h7.8"/>
<path stroke="#fad7d9" stroke-width="1.3" d="M163.1 72.3h7.8M163.1 108.7h7.8M170.9 84h7.8M170.9 87.9h7.8M178.7 25.6h7.8M209.9 112.6h7.8"/>
<path stroke="#f9d5d8" stroke-width="0.1" d="M163.1 128.9h7.8"/>
<path stroke="#e7e9fb" stroke-width="0.6" d="M163.1 360.9h7.8"/>
<path stroke="#fbe5e8" stroke-width="1.3" d="M170.9 26.9h7.8"/>
<path stroke="#fce6e9" stroke-width="1.3" d="M170.9 30.8h7.8"/>
<path stroke="#fce8ea" stroke-width="1.3" d="M170.9 58h7.8M186.5 23h7.8"/>
<path stroke="#f9d4d6" stroke-width="1.3" d="M170.9 78.8h7.8M178.7 120.4h7.8M186.5 43.7h7.8M194.3 73.6h7.8M209.9 63.2h7.8"/>
<path stroke="#fce7ea" stroke-width="1.3" d="M170.9 85.3h7.8M178.7 106.1h7.8M186.5 42.4h7.8"/>
<path stroke="#fcecef" stroke-width="1.3" d="M170.9 110h7.8"/>
<path stroke="#fbe0e2" stroke-width="0.4" d="M170.9 127.8h7.8"/>
<path stroke="#f8ced2" stroke-width="1.3" d="M178.7 91.8h7.8M209.9 74.9h7.8"/>
<path stroke="#f9d3d6" stroke-width="0.7" d="M178.7 126.6h7.8"/>
<path stroke="#f8f8fe" stroke-width="0.2" d="M178.7 361.1h7.8"/>
<path stroke="#fceef0" stroke-width="1.3" d="M186.5 98.3h7.8"/>
<path stroke="#f9d2d5" stroke-width="1" d="M186.5 125.5h7.8"/>
<path stroke="#f9cfd3" stroke-width="1.3" d="M194.3 33.4h7.8"/>
<path stroke="#f6bbbf" stroke-width="0.8" d="M194.3 124.1h7.8"/>
<path stroke="#f8f8fe" stroke-width="0.3" d="M194.3 361h7.8"/>
<path stroke="#f7c5c8" stroke-width="1.1" d="M202.1 122.9h7.8"/>
<path stroke="#f9d3d5" stroke-width="1.3" d="M209.9 69.7h7.8"/>
<path stroke="#f9d6d9" stroke-width="0.1" d="M209.9 122.4h7.8"/>
<path stroke="#f8f8fe" stroke-width="1.1" d="M209.9 360.6h7.8"/>
<path stroke="#f4acb1" stroke-width="1.3" d="M217.7 75.4h7.8"/>
<path stroke="#f4a9ae" stroke-width="1.3" d="M217.7 93.6h7.8"/>
<path stroke="#f5b1b5" stroke-width="0.4" d="M217.7 121.8h7.8"/>
<path stroke="#f4f5fd" stroke-width="1.5" d="M217.7 23.1h7.8"/>
<path stroke="#f8f8fe" stroke-width="1.5" d="M217.7 24.6h7.8M217.7 29.1h7.8"/>
<path stroke="#f6f6fd" stroke-width="1.5" d="M217.7 26.1h7.8"/>
<path stroke="#f7f7fd" stroke-width="1.5" d="M217.7 27.6h7.8M217.7 30.6h7.8M217.7 35h7.8"/>
<path stroke="#f6f7fd" stroke-width="1.5" d="M217.7 32h7.8"/>
<path stroke="#f8f9fe" stroke-width="1.5" d="M217.7 33.5h7.8M217.7 38h7.8"/>
<path stroke="#f9f9fe" stroke-width="1.5" d="M217.7 36.5h7.8"/>
<path stroke="#f3f4fd" stroke-width="1.5" d="M217.7 39.5h7.8"/>
<path stroke="#f6f6fd" stroke-width="0.7" d="M217.7 40.6h7.8"/>
<path stroke="#e9eafb" stroke-width="0.5" d="M225.5 360.9h7.8"/>
<path stroke="#eaebfb" stroke-width="0.5" d="M248.9 360.9h7.8"/>
<path stroke="#edeefb" stroke-width="0.5" d="M256.7 360.9h7.8"/>
<path stroke="#fadde0" stroke-width="1.5" d="M225.6 110.2h7.2"/>
<path stroke="#f9d1d4" stroke-width="1.5" d="M225.6 111.8h7.2"/>
<path stroke="#f8c9cc" stroke-width="1.5" d="M225.6 113.2h7.2"/>
<path stroke="#f9d6d9" stroke-width="0.5" d="M225.6 114.2h7.2"/>
<path stroke="#f4a9ad" stroke-width="1.5" d="M225.6 115.2h7.2"/>
<path stroke="#f4acb0" stroke-width="1.5" d="M225.6 116.8h7.2"/>
<path stroke="#f3a6aa" stroke-width="1.5" d="M225.6 118.2h7.2"/>
<path stroke="#f3a0a4" stroke-width="1.5" d="M225.6 119.8h7.2"/>
<path stroke="#f3a4a9" stroke-width="1.5" d="M225.6 121.2h7.2"/>
<path stroke="#f4adb1" stroke-width="1.5" d="M225.6 122.8h7.2"/>
<path stroke="#f3a1a5" stroke-width="1.5" d="M225.6 124.2h7.2"/>
<path stroke="#f3a5a9" stroke-width="1.5" d="M225.6 125.8h7.2"/>
<path stroke="#f4a8ac" stroke-width="1.5" d="M225.6 127.2h7.2"/>
<path stroke="#f4aaae" stroke-width="1.5" d="M225.6 128.8h7.2"/>
<path stroke="#f6bec2" stroke-width="1.5" d="M225.6 130.2h7.2"/>
<path stroke="#f3a7ab" stroke-width="1.5" d="M225.6 131.8h7.2"/>
<path stroke="#f5b7bb" stroke-width="1.5" d="M225.6 133.2h7.2M225.6 134.8h7.2"/>
<path stroke="#f4aeb2" stroke-width="1.5" d="M225.6 136.2h7.2"/>
<path stroke="#f6b8bc" stroke-width="1.5" d="M225.6 137.8h7.2"/>
<path stroke="#f5afb3" stroke-width="1.5" d="M225.6 139.2h7.2"/>
<path stroke="#f5b4b8" stroke-width="1.5" d="M225.6 140.8h7.2"/>
<path stroke="#f5b6ba" stroke-width="1.5" d="M225.6 142.2h7.2"/>
<path stroke="#f6b8bc" stroke-width="0.5" d="M225.6 143.2h7.2"/>
<path stroke="#f29fa3" stroke-width="1.4" d="M232.8 119.1h8.3"/>
<path stroke="#f3a7ab" stroke-width="1.4" d="M232.8 120.5h8.3M232.8 121.9h8.3M256.7 120.5h7.8"/>
<path stroke="#f8c9cc" stroke-width="1.4" d="M241.1 119.1h7.8"/>
<path stroke="#f9d1d4" stroke-width="1.4" d="M241.1 120.5h7.8"/>
<path stroke="#f8cbce" stroke-width="1.4" d="M241.1 121.9h7.8"/>
<path stroke="#f1959a" stroke-width="1.4" d="M248.9 119.1h7.8"/>
<path stroke="#f19095" stroke-width="1.4" d="M248.9 120.5h7.8"/>
<path stroke="#f08e93" stroke-width="1.4" d="M248.9 121.9h7.8"/>
<path stroke="#f3a7ac" stroke-width="1.4" d="M256.7 119.1h7.8"/>
<path stroke="#f4aaae" stroke-width="1.4" d="M256.7 121.9h7.8"/>
<rect x="217.7" y="120.8" width="7.8" height="1.7" fill="#8a5aa8"/>
<rect x="77.3" y="157.4" width="46.7" height="1.3" fill="#c0b0d4"/>
<rect x="124" y="157.4" width="7" height="1.3" fill="#8888c4"/>
<rect x="140" y="157.4" width="8" height="1.3" fill="#a0a0d0"/>
<rect x="170" y="157.4" width="12" height="1.3" fill="#d8c0d8"/>
<rect x="187" y="157.4" width="22.5" height="1.3" fill="#7474c8"/>
<rect x="217" y="157.4" width="14.5" height="1.3" fill="#7474c8"/>
<rect x="231.5" y="157.4" width="6.5" height="1.3" fill="#e8b0c0"/>
<rect x="238" y="157.4" width="11" height="1.3" fill="#7474c8"/>
<rect x="233.3" y="179" width="7.8" height="1.8" fill="#5a5ad0"/>
<rect x="233.3" y="253.6" width="7.8" height="1.4" fill="#a8a8e8"/>
<rect x="233.3" y="261.3" width="7.8" height="1.4" fill="#b0b0ea"/>
<rect x="233.3" y="271.8" width="7.8" height="1.4" fill="#a0a0e6"/>
<rect x="233.3" y="278.5" width="7.8" height="1.5" fill="#a8a8e8"/>
<rect x="233.3" y="283" width="7.8" height="4" fill="#a8aef0"/>
<rect x="233.3" y="301.4" width="7.8" height="1.5" fill="#a0a0e6"/>
<rect x="233.3" y="306" width="7.8" height="6.6" fill="#aab0f0"/>
<rect x="233.3" y="313.5" width="7.8" height="1.5" fill="#b8b8ee"/>
<rect x="233.3" y="334" width="7.8" height="4.5" fill="#b0b0ee"/>
</g>
<rect x="76.8" y="21.8" width="188.2" height="339.9" fill="none" stroke="#a8a8a8" stroke-width="1"/>
<g filter="url(#bl)" shape-rendering="crispEdges">
<rect x="286.7" y="52.7" width="85.3" height="227.5" fill="#f6f6fd"/>
<path stroke="#eff0fc" stroke-width="2.2" d="M286.7 53.8h12.9M286.7 64.8h12.9M286.7 97.8h12.9M286.7 111h12.9M286.7 135.2h12.9M286.7 201.2h12.9M286.7 245.2h12.9M286.7 262.8h12.9M286.7 273.8h12.9M299.6 91.2h17.9M299.6 199h17.9M299.6 236.4h17.9M299.6 258.4h17.9M317.5 64.8h18.3M317.5 89h18.3M317.5 93.4h18.3M317.5 168.2h18.3M317.5 170.4h18.3M317.5 218.8h18.3M317.5 260.6h18.3M335.8 78h17.2M335.8 126.4h17.2M335.8 148.4h17.2M335.8 157.2h17.2M335.8 251.8h17.2M335.8 267.2h17.2M335.8 269.4h17.2M353 69.2h19M353 75.8h19M353 144h19M353 146.2h19M353 214.4h19M353 225.4h19M353 267.2h19"/>
<path stroke="#f3f3fd" stroke-width="2.2" d="M286.7 56h12.9M286.7 150.6h12.9M286.7 185.8h12.9M286.7 192.4h12.9M299.6 159.4h17.9M299.6 172.6h17.9M299.6 223.2h17.9M317.5 159.4h18.3M317.5 183.6h18.3M317.5 201.2h18.3M317.5 262.8h18.3M335.8 82.4h17.2M335.8 95.6h17.2M335.8 113.2h17.2M335.8 115.4h17.2M335.8 276h17.2M353 234.2h19"/>
<path stroke="#f2f3fd" stroke-width="2.2" d="M286.7 58.2h12.9M286.7 161.6h12.9M286.7 210h12.9M286.7 225.4h12.9M286.7 243h12.9M299.6 196.8h17.9M299.6 225.4h17.9M299.6 262.8h17.9M299.6 267.2h17.9M317.5 119.8h18.3M317.5 126.4h18.3M317.5 254h18.3M335.8 80.2h17.2M335.8 97.8h17.2M353 60.4h19M353 106.6h19M353 148.4h19M353 166h19"/>
<path stroke="#e7e8fa" stroke-width="2.2" d="M286.7 60.4h12.9M286.7 203.4h12.9M317.5 148.4h18.3M317.5 185.8h18.3M335.8 150.6h17.2M335.8 170.4h17.2M335.8 179.2h17.2M335.8 236.4h17.2"/>
<path stroke="#f2f2fd" stroke-width="2.2" d="M286.7 62.6h12.9M286.7 179.2h12.9M299.6 135.2h17.9M299.6 181.4h17.9M299.6 265h17.9M335.8 56h17.2M335.8 207.8h17.2M353 95.6h19M353 128.6h19M353 174.8h19"/>
<path stroke="#f7f8fe" stroke-width="2.2" d="M286.7 67h12.9M299.6 148.4h17.9M317.5 82.4h18.3M353 93.4h19"/>
<path stroke="#f8f8fe" stroke-width="2.2" d="M286.7 69.2h12.9M286.7 93.4h12.9M286.7 106.6h12.9M286.7 122h12.9M286.7 139.6h12.9M286.7 163.8h12.9M286.7 172.6h12.9M286.7 194.6h12.9M286.7 216.6h12.9M286.7 229.8h12.9M286.7 258.4h12.9M286.7 260.6h12.9M299.6 56h17.9M299.6 93.4h17.9M299.6 100h17.9M299.6 106.6h17.9M299.6 130.8h17.9M299.6 139.6h17.9M299.6 152.8h17.9M299.6 205.6h17.9M299.6 276h17.9M317.5 71.4h18.3M317.5 205.6h18.3M317.5 212.2h18.3M317.5 216.6h18.3M317.5 240.8h18.3M317.5 247.4h18.3M335.8 133h17.2M335.8 139.6h17.2M335.8 166h17.2M335.8 190.2h17.2M335.8 229.8h17.2M353 82.4h19M353 113.2h19M353 115.4h19M353 133h19M353 190.2h19"/>
<path stroke="#e9ebfb" stroke-width="2.2" d="M286.7 71.4h12.9M335.8 75.8h17.2M335.8 225.4h17.2M335.8 260.6h17.2M353 102.2h19"/>
<path stroke="#f0f1fc" stroke-width="2.2" d="M286.7 73.6h12.9M286.7 80.2h12.9M286.7 113.2h12.9M286.7 115.4h12.9M286.7 137.4h12.9M286.7 144h12.9M286.7 218.8h12.9M286.7 227.6h12.9M286.7 265h12.9M286.7 278.2h12.9M299.6 62.6h17.9M299.6 71.4h17.9M299.6 119.8h17.9M299.6 122h17.9M299.6 161.6h17.9M299.6 170.4h17.9M299.6 212.2h17.9M299.6 245.2h17.9M299.6 271.6h17.9M317.5 56h18.3M317.5 62.6h18.3M317.5 102.2h18.3M317.5 133h18.3M317.5 135.2h18.3M317.5 194.6h18.3M317.5 269.4h18.3M335.8 67h17.2M335.8 102.2h17.2M335.8 177h17.2M335.8 223.2h17.2M353 97.8h19M353 111h19M353 194.6h19M353 203.4h19M353 207.8h19M353 232h19"/>
<path stroke="#f4f4fd" stroke-width="2.2" d="M286.7 75.8h12.9M286.7 254h12.9M299.6 53.8h17.9M299.6 64.8h17.9M299.6 86.8h17.9M299.6 141.8h17.9M317.5 73.6h18.3M317.5 166h18.3M317.5 188h18.3M335.8 205.6h17.2M353 117.6h19M353 192.4h19M353 196.8h19M353 243h19M353 276h19"/>
<path stroke="#f6f6fd" stroke-width="2.2" d="M286.7 78h12.9M286.7 95.6h12.9M286.7 221h12.9M286.7 223.2h12.9M286.7 234.2h12.9M299.6 104.4h17.9M299.6 124.2h17.9M317.5 91.2h18.3M317.5 146.2h18.3M317.5 163.8h18.3M317.5 177h18.3M317.5 190.2h18.3M317.5 236.4h18.3M335.8 64.8h17.2M335.8 91.2h17.2M335.8 146.2h17.2M335.8 181.4h17.2M335.8 188h17.2M335.8 238.6h17.2M335.8 258.4h17.2M353 58.2h19M353 80.2h19M353 150.6h19M353 172.6h19M353 201.2h19M353 254h19M353 265h19"/>
<path stroke="#f7f7fe" stroke-width="2.2" d="M286.7 82.4h12.9M286.7 146.2h12.9M286.7 152.8h12.9M299.6 75.8h17.9M299.6 97.8h17.9M299.6 190.2h17.9M299.6 216.6h17.9M317.5 53.8h18.3M317.5 60.4h18.3M317.5 144h18.3M317.5 179.2h18.3M317.5 223.2h18.3M317.5 227.6h18.3M335.8 73.6h17.2M335.8 124.2h17.2M335.8 152.8h17.2M335.8 159.4h17.2M335.8 194.6h17.2M335.8 201.2h17.2M335.8 210h17.2M335.8 216.6h17.2M335.8 243h17.2M353 53.8h19M353 141.8h19M353 161.6h19M353 177h19"/>
<path stroke="#e3e5fa" stroke-width="2.2" d="M286.7 84.6h12.9M286.7 199h12.9M286.7 269.4h12.9M299.6 137.4h17.9M299.6 232h17.9M317.5 104.4h18.3M317.5 115.4h18.3M317.5 122h18.3M317.5 141.8h18.3M317.5 243h18.3M317.5 271.6h18.3M317.5 276h18.3M335.8 93.4h17.2M335.8 111h17.2M335.8 130.8h17.2M353 108.8h19M353 122h19M353 216.6h19"/>
<path stroke="#f5f5fd" stroke-width="2.2" d="M286.7 86.8h12.9M286.7 181.4h12.9M286.7 214.4h12.9M286.7 256.2h12.9M299.6 73.6h17.9M299.6 84.6h17.9M299.6 113.2h17.9M299.6 179.2h17.9M299.6 183.6h17.9M317.5 69.2h18.3M317.5 97.8h18.3M317.5 124.2h18.3M317.5 130.8h18.3M317.5 139.6h18.3M317.5 174.8h18.3M317.5 181.4h18.3M317.5 229.8h18.3M317.5 256.2h18.3M335.8 128.6h17.2M335.8 141.8h17.2M335.8 199h17.2M335.8 278.2h17.2M353 78h19M353 152.8h19M353 163.8h19M353 205.6h19M353 218.8h19M353 229.8h19M353 236.4h19"/>
<path stroke="#f9f9fe" stroke-width="2.2" d="M286.7 89h12.9M286.7 168.2h12.9M286.7 232h12.9M299.6 82.4h17.9M317.5 106.6h18.3M317.5 155h18.3M317.5 221h18.3M317.5 225.4h18.3M317.5 258.4h18.3M335.8 144h17.2M335.8 196.8h17.2M335.8 249.6h17.2M353 86.8h19M353 137.4h19M353 227.6h19M353 245.2h19"/>
<path stroke="#f4f5fd" stroke-width="2.2" d="M286.7 91.2h12.9M286.7 104.4h12.9M286.7 126.4h12.9M286.7 155h12.9M286.7 207.8h12.9M286.7 267.2h12.9M299.6 155h17.9M299.6 157.2h17.9M299.6 238.6h17.9M335.8 104.4h17.2M335.8 155h17.2M335.8 168.2h17.2M335.8 227.6h17.2M353 135.2h19"/>
<path stroke="#e7e9fb" stroke-width="2.2" d="M286.7 100h12.9M286.7 148.4h12.9M299.6 67h17.9M299.6 128.6h17.9M299.6 229.8h17.9M299.6 269.4h17.9M317.5 157.2h18.3M335.8 137.4h17.2M353 183.6h19"/>
<path stroke="#e2e4fa" stroke-width="2.2" d="M286.7 102.2h12.9M286.7 238.6h12.9M299.6 150.6h17.9M317.5 58.2h18.3M317.5 210h18.3M335.8 69.2h17.2M335.8 240.8h17.2M353 258.4h19"/>
<path stroke="#e6e7fa" stroke-width="2.2" d="M286.7 108.8h12.9"/>
<path stroke="#e0e3f9" stroke-width="2.2" d="M286.7 117.6h12.9M299.6 126.4h17.9"/>
<path stroke="#f1f2fc" stroke-width="2.2" d="M286.7 119.8h12.9M299.6 214.4h17.9M299.6 256.2h17.9M317.5 75.8h18.3M317.5 113.2h18.3M317.5 150.6h18.3M317.5 203.4h18.3M335.8 100h17.2M335.8 214.4h17.2M335.8 245.2h17.2"/>
<path stroke="#f6f7fe" stroke-width="2.2" d="M286.7 124.2h12.9M286.7 133h12.9M286.7 141.8h12.9M299.6 240.8h17.9M335.8 71.4h17.2M335.8 122h17.2M335.8 192.4h17.2"/>
<path stroke="#f3f4fd" stroke-width="2.2" d="M286.7 128.6h12.9M286.7 183.6h12.9M299.6 78h17.9M299.6 117.6h17.9M299.6 194.6h17.9M299.6 207.8h17.9M299.6 210h17.9M317.5 86.8h18.3M317.5 108.8h18.3M317.5 137.4h18.3M335.8 62.6h17.2M335.8 106.6h17.2M335.8 185.8h17.2M335.8 232h17.2M335.8 265h17.2M353 89h19M353 139.6h19M353 168.2h19M353 179.2h19"/>
<path stroke="#e8eafb" stroke-width="2.2" d="M286.7 130.8h12.9M286.7 236.4h12.9M299.6 60.4h17.9M299.6 260.6h17.9M317.5 249.6h18.3M335.8 161.6h17.2M335.8 234.2h17.2M353 155h19M353 240.8h19"/>
<path stroke="#e6e8fa" stroke-width="2.2" d="M286.7 157.2h12.9M286.7 159.4h12.9M299.6 58.2h17.9M299.6 185.8h17.9M299.6 188h17.9M317.5 95.6h18.3M317.5 245.2h18.3M317.5 267.2h18.3M335.8 86.8h17.2M335.8 271.6h17.2M335.8 273.8h17.2M353 62.6h19M353 119.8h19M353 124.2h19M353 210h19M353 273.8h19"/>
<path stroke="#e1e4fa" stroke-width="2.2" d="M286.7 166h12.9M299.6 168.2h17.9M335.8 256.2h17.2"/>
<path stroke="#f1f2fd" stroke-width="2.2" d="M286.7 170.4h12.9M286.7 190.2h12.9M286.7 271.6h12.9M299.6 69.2h17.9M299.6 163.8h17.9M299.6 177h17.9M299.6 201.2h17.9M299.6 227.6h17.9M299.6 234.2h17.9M299.6 243h17.9M317.5 67h18.3M317.5 80.2h18.3M317.5 128.6h18.3M317.5 214.4h18.3M317.5 238.6h18.3M317.5 278.2h18.3M335.8 254h17.2M335.8 262.8h17.2M353 181.4h19M353 199h19M353 269.4h19"/>
<path stroke="#f0f0fc" stroke-width="2.2" d="M286.7 174.8h12.9M299.6 95.6h17.9M335.8 108.8h17.2M335.8 163.8h17.2"/>
<path stroke="#f1f1fc" stroke-width="2.2" d="M286.7 177h12.9M286.7 212.2h12.9M286.7 276h12.9M299.6 133h17.9M299.6 174.8h17.9M317.5 111h18.3M335.8 174.8h17.2M353 104.4h19M353 238.6h19M353 260.6h19"/>
<path stroke="#e4e6fa" stroke-width="2.2" d="M286.7 188h12.9M286.7 196.8h12.9M299.6 146.2h17.9M299.6 247.4h17.9M317.5 100h18.3M317.5 117.6h18.3M335.8 212.2h17.2M335.8 218.8h17.2M335.8 221h17.2M353 126.4h19M353 247.4h19M353 262.8h19"/>
<path stroke="#e8e9fb" stroke-width="2.2" d="M286.7 205.6h12.9M299.6 102.2h17.9M299.6 115.4h17.9M299.6 166h17.9M335.8 84.6h17.2M335.8 172.6h17.2M353 56h19M353 67h19M353 159.4h19M353 212.2h19M353 271.6h19"/>
<path stroke="#e9eafb" stroke-width="2.2" d="M286.7 240.8h12.9M299.6 144h17.9M299.6 249.6h17.9M299.6 278.2h17.9M317.5 172.6h18.3M335.8 53.8h17.2M353 84.6h19M353 188h19M353 223.2h19"/>
<path stroke="#e5e7fa" stroke-width="2.2" d="M286.7 247.4h12.9M286.7 249.6h12.9M299.6 80.2h17.9M299.6 108.8h17.9M299.6 111h17.9M299.6 218.8h17.9M299.6 251.8h17.9M317.5 152.8h18.3M317.5 199h18.3M335.8 89h17.2M335.8 117.6h17.2M353 185.8h19M353 249.6h19M353 256.2h19"/>
<path stroke="#e7e9fa" stroke-width="2.2" d="M286.7 251.8h12.9M299.6 273.8h17.9M317.5 161.6h18.3M317.5 196.8h18.3"/>
<path stroke="#e5e7fa" stroke-width="0.9" d="M286.7 279.7h12.9"/>
<path stroke="#e5e6fa" stroke-width="2.2" d="M299.6 89h17.9M317.5 207.8h18.3M335.8 135.2h17.2"/>
<path stroke="#f5f6fd" stroke-width="2.2" d="M299.6 192.4h17.9M317.5 84.6h18.3M317.5 232h18.3M317.5 265h18.3M317.5 273.8h18.3M335.8 58.2h17.2M335.8 203.4h17.2M335.8 247.4h17.2M353 64.8h19M353 71.4h19M353 73.6h19M353 100h19M353 130.8h19M353 157.2h19M353 170.4h19"/>
<path stroke="#f8f9fe" stroke-width="2.2" d="M299.6 203.4h17.9M335.8 119.8h17.2M353 221h19M353 251.8h19"/>
<path stroke="#e1e3f9" stroke-width="2.2" d="M299.6 221h17.9M335.8 60.4h17.2M335.8 183.6h17.2M353 278.2h19"/>
<path stroke="#f6f7fd" stroke-width="2.2" d="M299.6 254h17.9M317.5 234.2h18.3M353 91.2h19"/>
<path stroke="#f2f3fd" stroke-width="0.9" d="M299.6 279.7h17.9"/>
<path stroke="#e3e6fa" stroke-width="2.2" d="M317.5 78h18.3"/>
<path stroke="#e2e5fa" stroke-width="2.2" d="M317.5 192.4h18.3"/>
<path stroke="#e1e3fa" stroke-width="2.2" d="M317.5 251.8h18.3"/>
<path stroke="#e1e3f9" stroke-width="0.9" d="M317.5 279.7h18.3"/>
<path stroke="#f1f2fc" stroke-width="0.9" d="M335.8 279.7h17.2"/>
<path stroke="#f0f1fc" stroke-width="0.9" d="M353 279.7h19"/>
<path stroke="#f3a1a6" stroke-width="2.2" d="M286.7 70.1h12.9M286.7 125.1h12.9M286.7 173.5h12.9M286.7 182.3h12.9"/>
<path stroke="#f4abaf" stroke-width="2.2" d="M286.7 72.3h12.9M286.7 87.7h12.9M286.7 131.7h12.9M286.7 140.5h12.9"/>
<path stroke="#f29da2" stroke-width="2.2" d="M286.7 74.5h12.9M286.7 228.5h12.9M286.7 265.9h12.9"/>
<path stroke="#f6bec2" stroke-width="2.2" d="M286.7 76.7h12.9"/>
<path stroke="#f4adb1" stroke-width="2.2" d="M286.7 78.9h12.9M286.7 147.1h12.9M286.7 213.1h12.9"/>
<path stroke="#f1979c" stroke-width="2.2" d="M286.7 81.1h12.9M286.7 226.3h12.9"/>
<path stroke="#f19398" stroke-width="2.2" d="M286.7 83.3h12.9M286.7 243.9h12.9M353 115.9h19M353 124.7h19"/>
<path stroke="#f29ea3" stroke-width="2.2" d="M286.7 85.5h12.9M286.7 105.3h12.9"/>
<path stroke="#f1959a" stroke-width="2.2" d="M286.7 89.9h12.9M286.7 116.3h12.9M353 118.1h19M353 120.3h19"/>
<path stroke="#f3a7ab" stroke-width="2.2" d="M286.7 92.1h12.9M286.7 120.7h12.9M286.7 257.1h12.9"/>
<path stroke="#f4a8ac" stroke-width="2.2" d="M286.7 94.3h12.9M286.7 195.5h12.9M286.7 206.5h12.9M286.7 254.9h12.9M317.5 147.1h18.3"/>
<path stroke="#f3a2a7" stroke-width="2.2" d="M286.7 96.5h12.9M286.7 151.5h12.9M286.7 193.3h12.9"/>
<path stroke="#f29ca1" stroke-width="2.2" d="M286.7 98.7h12.9M286.7 100.9h12.9M286.7 107.5h12.9M286.7 155.9h12.9M286.7 224.1h12.9"/>
<path stroke="#f19095" stroke-width="2.2" d="M286.7 103.1h12.9"/>
<path stroke="#f3a2a6" stroke-width="2.2" d="M286.7 109.7h12.9"/>
<path stroke="#f3a0a4" stroke-width="2.2" d="M286.7 111.9h12.9M286.7 208.7h12.9"/>
<path stroke="#f3a6aa" stroke-width="2.2" d="M286.7 114.1h12.9M286.7 237.3h12.9M286.7 241.7h12.9M286.7 250.5h12.9"/>
<path stroke="#f29a9e" stroke-width="2.2" d="M286.7 118.5h12.9"/>
<path stroke="#f1969a" stroke-width="2.2" d="M286.7 122.9h12.9"/>
<path stroke="#f4aeb2" stroke-width="2.2" d="M286.7 127.3h12.9M286.7 169.1h12.9"/>
<path stroke="#f1989c" stroke-width="2.2" d="M286.7 129.5h12.9"/>
<path stroke="#f5b7ba" stroke-width="2.2" d="M286.7 133.9h12.9"/>
<path stroke="#f5b4b7" stroke-width="2.2" d="M286.7 136.1h12.9"/>
<path stroke="#f0888d" stroke-width="2.2" d="M286.7 138.3h12.9"/>
<path stroke="#f1969b" stroke-width="2.2" d="M286.7 142.7h12.9M286.7 175.7h12.9"/>
<path stroke="#f19196" stroke-width="2.2" d="M286.7 144.9h12.9M299.6 128.1h17.9"/>
<path stroke="#f3a5a9" stroke-width="2.2" d="M286.7 149.3h12.9M286.7 199.9h12.9M286.7 263.7h12.9"/>
<path stroke="#f4afb3" stroke-width="2.2" d="M286.7 153.7h12.9M286.7 184.5h12.9M286.7 232.9h12.9"/>
<path stroke="#f29fa3" stroke-width="2.2" d="M286.7 158.1h12.9M286.7 210.9h12.9"/>
<path stroke="#f19397" stroke-width="2.2" d="M286.7 160.3h12.9"/>
<path stroke="#f19297" stroke-width="2.2" d="M286.7 162.5h12.9"/>
<path stroke="#f29ea2" stroke-width="2.2" d="M286.7 164.7h12.9"/>
<path stroke="#f5b4b8" stroke-width="2.2" d="M286.7 166.9h12.9M286.7 186.7h12.9M286.7 197.7h12.9M317.5 138.3h18.3"/>
<path stroke="#f09095" stroke-width="2.2" d="M286.7 171.3h12.9"/>
<path stroke="#f3a1a5" stroke-width="2.2" d="M286.7 177.9h12.9"/>
<path stroke="#f19599" stroke-width="2.2" d="M286.7 180.1h12.9"/>
<path stroke="#f7c1c4" stroke-width="2.2" d="M286.7 188.9h12.9M317.5 136.1h18.3"/>
<path stroke="#f3a3a7" stroke-width="2.2" d="M286.7 191.1h12.9M286.7 202.1h12.9M286.7 230.7h12.9M286.7 246.1h12.9M353 111.5h19"/>
<path stroke="#f3a4a8" stroke-width="2.2" d="M286.7 204.3h12.9"/>
<path stroke="#f29b9f" stroke-width="2.2" d="M286.7 215.3h12.9"/>
<path stroke="#f2989d" stroke-width="2.2" d="M286.7 217.5h12.9"/>
<path stroke="#f4acb0" stroke-width="2.2" d="M286.7 219.7h12.9"/>
<path stroke="#f09094" stroke-width="2.2" d="M286.7 221.9h12.9"/>
<path stroke="#f5b0b3" stroke-width="2.2" d="M286.7 235.1h12.9"/>
<path stroke="#f4aaae" stroke-width="2.2" d="M286.7 239.5h12.9M286.7 270.3h12.9"/>
<path stroke="#f3a6ab" stroke-width="2.2" d="M286.7 248.3h12.9M286.7 259.3h12.9"/>
<path stroke="#f29fa4" stroke-width="2.2" d="M286.7 252.7h12.9"/>
<path stroke="#f5b0b4" stroke-width="2.2" d="M286.7 261.5h12.9"/>
<path stroke="#f29ca0" stroke-width="2.2" d="M286.7 268.1h12.9"/>
<path stroke="#f1989c" stroke-width="1.1" d="M286.7 271.9h12.9"/>
<path stroke="#f7c7ca" stroke-width="2.2" d="M299.6 119.1h17.9"/>
<path stroke="#f8cacd" stroke-width="2.2" d="M299.6 121.3h17.9M317.5 126.5h18.3"/>
<path stroke="#f8c7cb" stroke-width="2.2" d="M299.6 123.5h17.9"/>
<path stroke="#f6bdc0" stroke-width="0.2" d="M299.6 124.7h17.9"/>
<path stroke="#f19195" stroke-width="2.2" d="M299.6 125.9h17.9"/>
<path stroke="#ee7e84" stroke-width="2.2" d="M299.6 130.3h17.9"/>
<path stroke="#ee7f84" stroke-width="2.2" d="M299.6 132.5h17.9"/>
<path stroke="#ef8489" stroke-width="2.2" d="M299.6 134.7h17.9"/>
<path stroke="#ef8086" stroke-width="2.2" d="M299.6 136.9h17.9"/>
<path stroke="#f0898e" stroke-width="2.2" d="M299.6 139.1h17.9M353 122.5h19"/>
<path stroke="#ef878c" stroke-width="2.2" d="M299.6 141.3h17.9"/>
<path stroke="#ee7f84" stroke-width="0.6" d="M299.6 142.7h17.9"/>
<path stroke="#fadcde" stroke-width="2.2" d="M299.6 144.1h17.9M299.6 181.5h17.9M299.6 196.9h17.9"/>
<path stroke="#f9d4d7" stroke-width="2.2" d="M299.6 146.3h17.9M299.6 212.3h17.9"/>
<path stroke="#f9d6d9" stroke-width="2.2" d="M299.6 148.5h17.9"/>
<path stroke="#fbe3e6" stroke-width="2.2" d="M299.6 150.7h17.9"/>
<path stroke="#fad9dc" stroke-width="2.2" d="M299.6 152.9h17.9M299.6 179.3h17.9M299.6 194.7h17.9"/>
<path stroke="#fadde0" stroke-width="2.2" d="M299.6 155.1h17.9M299.6 157.3h17.9M299.6 221.1h17.9"/>
<path stroke="#fbe6e8" stroke-width="2.2" d="M299.6 159.5h17.9"/>
<path stroke="#fadadd" stroke-width="2.2" d="M299.6 161.7h17.9M299.6 214.5h17.9M299.6 229.9h17.9"/>
<path stroke="#fadcdf" stroke-width="2.2" d="M299.6 163.9h17.9"/>
<path stroke="#fbe1e3" stroke-width="2.2" d="M299.6 166.1h17.9M299.6 210.1h17.9"/>
<path stroke="#f9d5d8" stroke-width="2.2" d="M299.6 168.3h17.9"/>
<path stroke="#fceaed" stroke-width="2.2" d="M299.6 170.5h17.9"/>
<path stroke="#fce7ea" stroke-width="2.2" d="M299.6 172.7h17.9"/>
<path stroke="#fbe6e9" stroke-width="2.2" d="M299.6 174.9h17.9"/>
<path stroke="#f9d3d6" stroke-width="2.2" d="M299.6 177.1h17.9M317.5 122.1h18.3"/>
<path stroke="#fadee1" stroke-width="2.2" d="M299.6 183.7h17.9M299.6 188.1h17.9"/>
<path stroke="#fbe0e2" stroke-width="2.2" d="M299.6 185.9h17.9"/>
<path stroke="#fad9db" stroke-width="2.2" d="M299.6 190.3h17.9"/>
<path stroke="#fad8db" stroke-width="2.2" d="M299.6 192.5h17.9M299.6 234.3h17.9"/>
<path stroke="#fbe1e4" stroke-width="2.2" d="M299.6 199.1h17.9M299.6 216.7h17.9"/>
<path stroke="#fadbde" stroke-width="2.2" d="M299.6 201.3h17.9M299.6 247.5h17.9"/>
<path stroke="#fbdfe2" stroke-width="2.2" d="M299.6 203.5h17.9M299.6 218.9h17.9"/>
<path stroke="#f9d1d4" stroke-width="2.2" d="M299.6 205.7h17.9M299.6 236.5h17.9"/>
<path stroke="#fce9eb" stroke-width="2.2" d="M299.6 207.9h17.9M299.6 232.1h17.9"/>
<path stroke="#fbdfe1" stroke-width="2.2" d="M299.6 223.3h17.9"/>
<path stroke="#f9d0d3" stroke-width="2.2" d="M299.6 225.5h17.9M317.5 130.9h18.3"/>
<path stroke="#fad7da" stroke-width="2.2" d="M299.6 227.7h17.9M299.6 245.3h17.9"/>
<path stroke="#f8cccf" stroke-width="2.2" d="M299.6 238.7h17.9"/>
<path stroke="#fce6e9" stroke-width="2.2" d="M299.6 240.9h17.9"/>
<path stroke="#fbe5e7" stroke-width="2.2" d="M299.6 243.1h17.9"/>
<path stroke="#fadddf" stroke-width="1.8" d="M299.6 249.5h17.9"/>
<path stroke="#f8c9cc" stroke-width="2.2" d="M317.5 124.3h18.3"/>
<path stroke="#f8cdd0" stroke-width="2.2" d="M317.5 128.7h18.3"/>
<path stroke="#f8cfd2" stroke-width="2.2" d="M317.5 133.1h18.3"/>
<path stroke="#f8cace" stroke-width="0.8" d="M317.5 134.6h18.3"/>
<path stroke="#f6bec1" stroke-width="2.2" d="M317.5 140.5h18.3"/>
<path stroke="#f6b9bc" stroke-width="2.2" d="M317.5 142.7h18.3"/>
<path stroke="#f6b9bd" stroke-width="2.2" d="M317.5 144.9h18.3"/>
<path stroke="#f6bdc1" stroke-width="2.2" d="M317.5 149.3h18.3"/>
<path stroke="#f5b1b5" stroke-width="2.2" d="M317.5 151.5h18.3"/>
<path stroke="#f6b7bb" stroke-width="2.2" d="M317.5 153.7h18.3"/>
<path stroke="#f5b4b8" stroke-width="1.7" d="M317.5 155.6h18.3"/>
<path stroke="#ee7d82" stroke-width="2.2" d="M335.8 107.1h17.2"/>
<path stroke="#ec7076" stroke-width="2.2" d="M335.8 109.3h17.2M335.8 126.9h17.2"/>
<path stroke="#eb646a" stroke-width="2.2" d="M335.8 111.5h17.2"/>
<path stroke="#eb676d" stroke-width="2.2" d="M335.8 113.7h17.2"/>
<path stroke="#ec6b71" stroke-width="2.2" d="M335.8 115.9h17.2"/>
<path stroke="#ea5960" stroke-width="2.2" d="M335.8 118.1h17.2"/>
<path stroke="#ef888d" stroke-width="2.2" d="M335.8 120.3h17.2M353 113.7h19"/>
<path stroke="#ea5c62" stroke-width="2.2" d="M335.8 122.5h17.2"/>
<path stroke="#eb6268" stroke-width="2.2" d="M335.8 124.7h17.2"/>
<path stroke="#ed7378" stroke-width="2.2" d="M335.8 129.1h17.2"/>
<path stroke="#ea5d64" stroke-width="2.2" d="M335.8 131.3h17.2"/>
<path stroke="#ee7c82" stroke-width="2.2" d="M335.8 133.5h17.2"/>
<path stroke="#ec6d73" stroke-width="0.8" d="M335.8 135h17.2"/>
<path stroke="#f08b90" stroke-width="2.2" d="M353 107.1h19"/>
<path stroke="#f08d92" stroke-width="2.2" d="M353 109.3h19"/>
<path stroke="#f19499" stroke-width="2.2" d="M353 126.9h19"/>
<path stroke="#f29a9f" stroke-width="2.2" d="M353 129.1h19M353 131.3h19"/>
<path stroke="#ee7a7f" stroke-width="2.2" d="M353 133.5h19"/>
<path stroke="#f08e93" stroke-width="0.8" d="M353 135h19"/>
</g>
<rect x="286.2" y="52.2" width="86.3" height="228.5" fill="none" stroke="#a8a8a8" stroke-width="1"/>
<rect x="317.5" y="119" width="72.5" height="1.2" fill="#8c8c8c"/>
<rect x="317.5" y="134.8" width="72.5" height="1.2" fill="#8c8c8c"/>
<rect x="228.9" y="107.9" width="35.7" height="40.8" fill="none" stroke="#262626" stroke-width="1.5"/>
<line x1="265.3" y1="107.2" x2="287" y2="52.7" stroke="#262626" stroke-width="1.3"/>
<line x1="265.3" y1="149.4" x2="286.5" y2="280.5" stroke="#262626" stroke-width="1.3"/>
<rect x="398.3" y="53.8" width="10.2" height="23.2" fill="#8e8e8e"/>
<rect x="398.3" y="77" width="10.2" height="58.7" fill="#000"/>
<rect x="398.3" y="135.7" width="10.2" height="43.1" fill="#fff"/>
<rect x="398.3" y="178.8" width="10.2" height="102" fill="#8e8e8e"/>
<rect x="399.1" y="54.5" width="8.7" height="225.5" fill="none" stroke="#111" stroke-width="1.5"/>
<rect x="430.5" y="209.8" width="87.8" height="152" fill="#ebebeb" stroke="#595959" stroke-width="1"/>
<text x="509.5" y="226.7" class="gi" text-anchor="end">BCL11A</text>
<text x="509.5" y="242.6" class="gi" text-anchor="end">REL</text>
<text x="509.5" y="258.5" class="gi" text-anchor="end">PAPOLG</text>
<text x="509.5" y="274.4" class="gi" text-anchor="end">AHSA2</text>
<text x="509.5" y="290.3" class="gi" text-anchor="end">PEX13</text>
<text x="509.5" y="306.2" class="gi" text-anchor="end">PUS10</text>
<text x="509.5" y="322.1" class="gi" text-anchor="end">USP34</text>
<text x="509.5" y="338" class="gi" text-anchor="end">XPO1</text>
<text x="509.5" y="353.9" class="gi" text-anchor="end">KIAA1841</text>
<rect x="55.3" y="21.3" width="10.8" height="341.5" fill="#fff"/>
<rect x="55.3" y="26" width="10.8" height="1.1" fill="#8a8a8a"/>
<rect x="55.3" y="30.7" width="10.8" height="0.9" fill="#a8a8a8"/>
<rect x="55.3" y="32.6" width="10.8" height="5.7" fill="#333"/>
<rect x="55.3" y="38.3" width="10.8" height="2.7" fill="#666"/>
<rect x="55.3" y="52" width="10.8" height="7" fill="#000"/>
<rect x="55.3" y="61" width="10.8" height="3.7" fill="#000"/>
<rect x="55.3" y="64.7" width="10.8" height="7.7" fill="#7a7a7a"/>
<rect x="55.3" y="72.4" width="10.8" height="2.6" fill="#222"/>
<rect x="55.3" y="75" width="10.8" height="10" fill="#8a8a8a"/>
<rect x="55.3" y="85" width="10.8" height="2.8" fill="#222"/>
<rect x="55.3" y="87.8" width="10.8" height="7.2" fill="#666"/>
<rect x="55.3" y="95" width="10.8" height="4" fill="#b4b4b4"/>
<rect x="55.3" y="101" width="10.8" height="3.6" fill="#222"/>
<rect x="55.3" y="104.6" width="10.8" height="11.2" fill="#444"/>
<rect x="55.3" y="115.8" width="10.8" height="0.6" fill="#000"/>
<rect x="55.3" y="116.4" width="10.8" height="1.4" fill="#b4b4b4"/>
<rect x="55.3" y="117.8" width="10.8" height="5.6" fill="#000"/>
<rect x="55.3" y="126" width="10.8" height="8" fill="#888"/>
<rect x="55.3" y="135.7" width="10.8" height="3.1" fill="#ddd"/>
<rect x="55.3" y="138.8" width="10.8" height="9.8" fill="#000"/>
<rect x="55.3" y="172.4" width="10.8" height="4.9" fill="#888"/>
<rect x="55.3" y="178.5" width="10.8" height="1" fill="#999"/>
<rect x="55.3" y="188.5" width="10.8" height="6.3" fill="#888"/>
<rect x="55.3" y="199.7" width="10.8" height="10.5" fill="#888"/>
<rect x="55.3" y="213" width="10.8" height="1.5" fill="#999"/>
<rect x="55.3" y="216" width="10.8" height="1.5" fill="#999"/>
<rect x="55.3" y="220" width="10.8" height="7.7" fill="#000"/>
<rect x="55.3" y="231.2" width="10.8" height="4.8" fill="#000"/>
<rect x="55.3" y="236" width="10.8" height="2.2" fill="#aaa"/>
<rect x="55.3" y="244.5" width="10.8" height="6.3" fill="#444"/>
<rect x="55.3" y="256.4" width="10.8" height="8.4" fill="#444"/>
<rect x="55.3" y="275.3" width="10.8" height="4.2" fill="#888"/>
<rect x="55.3" y="282.3" width="10.8" height="8.4" fill="#222"/>
<rect x="55.3" y="294.9" width="10.8" height="7" fill="#444"/>
<rect x="55.3" y="309.6" width="10.8" height="1.4" fill="#888"/>
<rect x="55.3" y="311.8" width="10.8" height="1.2" fill="#999"/>
<rect x="55.3" y="318" width="10.8" height="8.4" fill="#000"/>
<rect x="55.3" y="334.6" width="10.8" height="7.7" fill="#444"/>
<rect x="55.3" y="337.5" width="10.8" height="1" fill="#888"/>
<rect x="55.3" y="342.3" width="10.8" height="5.4" fill="#000"/>
<rect x="55.3" y="353" width="10.8" height="4" fill="#888"/>
<rect x="55.3" y="156.4" width="10.8" height="1.3" fill="#bbb"/>
<rect x="55.3" y="159" width="10.8" height="2" fill="#111"/>
<rect x="55.3" y="161.2" width="10.8" height="1.4" fill="#ddd"/>
<rect x="55.3" y="162.8" width="10.8" height="1.7" fill="#999"/>
<rect x="55.3" y="41" width="10.8" height="11" fill="#fff"/>
<clipPath id="c410"><rect x="55.3" y="41" width="10.8" height="11"/></clipPath>
<path clip-path="url(#c410)" d="M56.3 41L65.1 36.6M56.3 43.9L65.1 39.5M56.3 46.8L65.1 42.4M56.3 49.7L65.1 45.3M56.3 52.6L65.1 48.2M56.3 55.5L65.1 51.1M56.3 58.4L65.1 54" stroke="#222" stroke-width="1.2" fill="none" shape-rendering="auto"/>
<rect x="56" y="22.1" width="9.3" height="340" fill="none" stroke="#000" stroke-width="1.5"/>
<g filter="url(#bl)" shape-rendering="crispEdges">
<rect x="76.6" y="425.8" width="216" height="321.2" fill="#f8f8fd"/>
<path stroke="#f1f2fc" stroke-width="1.2" d="M76.6 426.4h12M76.6 444.4h12M76.6 470.8h12M76.6 493.6h12M76.6 601.6h12M76.6 676h12M76.6 708.4h12M76.6 722.8h12M88.6 485.2h12M88.6 512.8h12M88.6 521.2h12M88.6 736h12M100.6 664h12M112.6 467.2h12M112.6 527.2h12M112.6 552.4h12M124.6 502h12M124.6 518.8h12M124.6 612.4h12M136.6 478h12M136.6 586h12M136.6 701.2h12M148.6 472h12M148.6 545.2h12M148.6 599.2h12M148.6 680.8h12M148.6 713.2h12M160.6 468.4h12M160.6 529.6h12M160.6 547.6h12M160.6 685.6h12M172.6 431.2h12M172.6 443.2h12M184.6 486.4h12M184.6 518.8h12M184.6 562h12M184.6 566.8h12M184.6 569.2h12M184.6 570.4h12M184.6 596.8h12M184.6 613.6h12M184.6 704.8h12M184.6 730h12M196.6 428.8h12M196.6 544h12M196.6 548.8h12M196.6 722.8h12M208.6 461.2h12M208.6 467.2h12M208.6 546.4h12M208.6 595.6h12M220.6 455.2h12M220.6 514h12M220.6 538h12M220.6 566.8h12M220.6 688h12M232.6 499.6h12M232.6 570.4h12M232.6 578.8h12M232.6 601.6h12M232.6 642.4h12M244.6 436h12M244.6 641.2h12M244.6 714.4h12M268.6 521.2h12M268.6 583.6h12M268.6 608.8h12M268.6 613.6h12M268.6 625.6h12M268.6 638.8h12M268.6 662.8h12M280.6 503.2h12M280.6 518.8h12M280.6 541.6h12M280.6 630.4h12M280.6 632.8h12M280.6 703.6h12M280.6 719.2h12"/>
<path stroke="#f4f5fd" stroke-width="1.2" d="M76.6 427.6h12M76.6 482.8h12M76.6 502h12M76.6 504.4h12M76.6 506.8h12M76.6 523.6h12M76.6 530.8h12M76.6 643.6h12M88.6 449.2h12M88.6 539.2h12M88.6 576.4h12M88.6 635.2h12M88.6 648.4h12M88.6 713.2h12M100.6 482.8h12M100.6 515.2h12M100.6 599.2h12M100.6 619.6h12M100.6 638.8h12M100.6 671.2h12M112.6 486.4h12M112.6 554.8h12M112.6 563.2h12M112.6 588.4h12M112.6 622h12M112.6 676h12M112.6 715.6h12M124.6 437.2h12M124.6 455.2h12M124.6 461.2h12M124.6 488.8h12M124.6 504.4h12M124.6 556h12M124.6 564.4h12M124.6 613.6h12M124.6 635.2h12M124.6 667.6h12M124.6 706h12M124.6 730h12M136.6 450.4h12M136.6 520h12M136.6 548.8h12M136.6 613.6h12M136.6 637.6h12M148.6 439.6h12M148.6 448h12M148.6 457.6h12M148.6 479.2h12M148.6 568h12M148.6 589.6h12M148.6 704.8h12M160.6 517.6h12M160.6 638.8h12M160.6 694h12M172.6 458.8h12M172.6 497.2h12M172.6 502h12M172.6 527.2h12M172.6 557.2h12M172.6 572.8h12M184.6 449.2h12M184.6 474.4h12M184.6 588.4h12M184.6 660.4h12M184.6 674.8h12M184.6 694h12M184.6 698.8h12M184.6 701.2h12M196.6 462.4h12M196.6 469.6h12M196.6 676h12M208.6 559.6h12M208.6 575.2h12M208.6 599.2h12M208.6 617.2h12M208.6 632.8h12M208.6 644.8h12M208.6 646h12M208.6 732.4h12M208.6 733.6h12M220.6 426.4h12M220.6 466h12M220.6 512.8h12M220.6 625.6h12M220.6 643.6h12M220.6 644.8h12M220.6 652h12M220.6 653.2h12M232.6 432.4h12M232.6 568h12M232.6 588.4h12M232.6 648.4h12M244.6 445.6h12M244.6 517.6h12M244.6 545.2h12M244.6 557.2h12M244.6 570.4h12M244.6 685.6h12M268.6 463.6h12M268.6 671.2h12M268.6 698.8h12M280.6 564.4h12M280.6 572.8h12M280.6 737.2h12M280.6 739.6h12"/>
<path stroke="#f8f8fe" stroke-width="1.2" d="M76.6 428.8h12M76.6 571.6h12M76.6 572.8h12M76.6 617.2h12M76.6 644.8h12M76.6 668.8h12M76.6 671.2h12M76.6 721.6h12M88.6 479.2h12M88.6 491.2h12M88.6 499.6h12M88.6 685.6h12M100.6 427.6h12M100.6 437.2h12M100.6 460h12M100.6 478h12M100.6 528.4h12M100.6 623.2h12M100.6 667.6h12M100.6 706h12M100.6 716.8h12M100.6 726.4h12M112.6 604h12M112.6 632.8h12M112.6 686.8h12M112.6 742h12M124.6 498.4h12M124.6 577.6h12M124.6 632.8h12M124.6 658h12M136.6 455.2h12M136.6 526h12M136.6 744.4h12M160.6 449.2h12M160.6 464.8h12M160.6 534.4h12M160.6 554.8h12M160.6 610h12M160.6 623.2h12M160.6 629.2h12M160.6 704.8h12M160.6 725.2h12M172.6 541.6h12M172.6 560.8h12M172.6 594.4h12M172.6 660.4h12M172.6 696.4h12M184.6 534.4h12M184.6 659.2h12M184.6 692.8h12M184.6 740.8h12M196.6 474.4h12M196.6 514h12M196.6 553.6h12M196.6 576.4h12M196.6 648.4h12M196.6 649.6h12M196.6 654.4h12M196.6 660.4h12M196.6 694h12M196.6 702.4h12M196.6 744.4h12M208.6 479.2h12M208.6 514h12M208.6 545.2h12M208.6 581.2h12M208.6 592h12M208.6 739.6h12"/>
<path stroke="#fbf2f5" stroke-width="1.2" d="M76.6 430h12M76.6 455.2h12M76.6 473.2h12M76.6 488.8h12M76.6 500.8h12M76.6 503.2h12M76.6 514h12M76.6 532h12M76.6 612.4h12M76.6 626.8h12M76.6 629.2h12M76.6 656.8h12M76.6 673.6h12M76.6 696.4h12M76.6 704.8h12M76.6 740.8h12M100.6 510.4h12M100.6 634h12M100.6 653.2h12M100.6 689.2h12M100.6 690.4h12M100.6 720.4h12M100.6 733.6h12M100.6 744.4h12M112.6 438.4h12M112.6 451.6h12M112.6 487.6h12M112.6 496h12M112.6 511.6h12M112.6 541.6h12M112.6 564.4h12M112.6 571.6h12M112.6 578.8h12M112.6 584.8h12M112.6 600.4h12M112.6 668.8h12M112.6 671.2h12M112.6 709.6h12M124.6 434.8h12M124.6 460h12M124.6 463.6h12M124.6 510.4h12M124.6 512.8h12M124.6 520h12M124.6 523.6h12M124.6 540.4h12M124.6 565.6h12M124.6 570.4h12M124.6 607.6h12M124.6 647.2h12M124.6 684.4h12M124.6 708.4h12M124.6 710.8h12M124.6 732.4h12M124.6 739.6h12M148.6 431.2h12M148.6 436h12M148.6 458.8h12M148.6 590.8h12M148.6 614.8h12M148.6 648.4h12M148.6 658h12M148.6 668.8h12M148.6 708.4h12M148.6 730h12M148.6 733.6h12M148.6 736h12M148.6 745.6h12M160.6 442h12M160.6 462.4h12M160.6 481.6h12M160.6 544h12M160.6 545.2h12M160.6 559.6h12M160.6 569.2h12M160.6 584.8h12M160.6 590.8h12M160.6 612.4h12M160.6 676h12M160.6 698.8h12M160.6 721.6h12M160.6 724h12M160.6 733.6h12M172.6 472h12M172.6 476.8h12M172.6 484h12M172.6 544h12M172.6 606.4h12M172.6 661.6h12M172.6 678.4h12M172.6 679.6h12M172.6 708.4h12M184.6 500.8h12M184.6 546.4h12M184.6 598h12M184.6 632.8h12M184.6 634h12M184.6 658h12M184.6 664h12M184.6 671.2h12M196.6 426.4h12M196.6 432.4h12M196.6 433.6h12M196.6 518.8h12M196.6 522.4h12M196.6 564.4h12M196.6 588.4h12M196.6 652h12M196.6 703.6h12M208.6 451.6h12M208.6 474.4h12M208.6 540.4h12M208.6 548.8h12M208.6 552.4h12M208.6 553.6h12M208.6 589.6h12M208.6 664h12M208.6 665.2h12M208.6 677.2h12M208.6 679.6h12M208.6 702.4h12M208.6 704.8h12M208.6 736h12M220.6 451.6h12M220.6 486.4h12M220.6 493.6h12M220.6 517.6h12M220.6 574h12M220.6 612.4h12M220.6 629.2h12M220.6 678.4h12M220.6 683.2h12M220.6 686.8h12M220.6 690.4h12M220.6 725.2h12M220.6 736h12M232.6 431.2h12M232.6 443.2h12M232.6 488.8h12M232.6 494.8h12M232.6 496h12M232.6 500.8h12M232.6 504.4h12M232.6 514h12M232.6 538h12M232.6 571.6h12M232.6 586h12M232.6 660.4h12M232.6 694h12M232.6 715.6h12M232.6 720.4h12M232.6 733.6h12M256.6 440.8h12M256.6 445.6h12M256.6 456.4h12M256.6 490h12M256.6 518.8h12M256.6 547.6h12M256.6 554.8h12M256.6 574h12M256.6 586h12M256.6 623.2h12M256.6 635.2h12M256.6 642.4h12M256.6 682h12M268.6 445.6h12M268.6 469.6h12M268.6 473.2h12M268.6 502h12M268.6 506.8h12M268.6 530.8h12M268.6 548.8h12M268.6 617.2h12M268.6 642.4h12M268.6 659.2h12M268.6 667.6h12M268.6 730h12M268.6 739.6h12M280.6 437.2h12M280.6 458.8h12M280.6 479.2h12M280.6 517.6h12M280.6 565.6h12M280.6 589.6h12M280.6 593.2h12M280.6 602.8h12M280.6 611.2h12M280.6 628h12M280.6 631.6h12M280.6 653.2h12M280.6 701.2h12M280.6 745.6h12"/>
<path stroke="#eff0fc" stroke-width="1.2" d="M76.6 431.2h12M76.6 508h12M76.6 605.2h12M76.6 682h12M76.6 727.6h12M76.6 730h12M76.6 745.6h12M88.6 437.2h12M88.6 469.6h12M88.6 480.4h12M88.6 527.2h12M88.6 542.8h12M88.6 546.4h12M88.6 547.6h12M88.6 605.2h12M88.6 608.8h12M88.6 652h12M88.6 664h12M88.6 667.6h12M88.6 734.8h12M100.6 442h12M100.6 491.2h12M100.6 530.8h12M100.6 544h12M100.6 616h12M100.6 629.2h12M100.6 655.6h12M100.6 688h12M112.6 446.8h12M112.6 456.4h12M112.6 460h12M112.6 472h12M112.6 474.4h12M112.6 488.8h12M112.6 498.4h12M112.6 539.2h12M112.6 559.6h12M112.6 583.6h12M112.6 618.4h12M112.6 664h12M112.6 691.6h12M112.6 726.4h12M112.6 730h12M124.6 446.8h12M124.6 448h12M124.6 467.2h12M124.6 468.4h12M124.6 563.2h12M124.6 586h12M124.6 590.8h12M124.6 593.2h12M124.6 610h12M124.6 614.8h12M124.6 641.2h12M124.6 696.4h12M136.6 428.8h12M136.6 440.8h12M136.6 443.2h12M136.6 511.6h12M136.6 512.8h12M136.6 518.8h12M136.6 550h12M136.6 581.2h12M136.6 594.4h12M136.6 598h12M136.6 623.2h12M136.6 646h12M136.6 737.2h12M148.6 426.4h12M148.6 437.2h12M148.6 469.6h12M148.6 493.6h12M148.6 511.6h12M148.6 518.8h12M148.6 528.4h12M148.6 557.2h12M148.6 558.4h12M148.6 562h12M148.6 605.2h12M148.6 608.8h12M148.6 616h12M148.6 626.8h12M160.6 494.8h12M160.6 510.4h12M160.6 516.4h12M160.6 601.6h12M160.6 654.4h12M160.6 665.2h12M172.6 485.2h12M172.6 490h12M172.6 503.2h12M172.6 510.4h12M172.6 529.6h12M172.6 548.8h12M172.6 552.4h12M172.6 564.4h12M172.6 586h12M172.6 638.8h12M172.6 649.6h12M172.6 659.2h12M172.6 672.4h12M172.6 673.6h12M184.6 427.6h12M184.6 438.4h12M184.6 461.2h12M184.6 464.8h12M184.6 492.4h12M184.6 577.6h12M184.6 622h12M184.6 643.6h12M184.6 653.2h12M184.6 667.6h12M184.6 680.8h12M184.6 733.6h12M196.6 455.2h12M196.6 494.8h12M196.6 508h12M196.6 535.6h12M196.6 562h12M196.6 581.2h12M196.6 587.2h12M196.6 659.2h12M196.6 688h12M196.6 719.2h12M196.6 724h12M196.6 743.2h12M208.6 449.2h12M208.6 450.4h12M208.6 466h12M208.6 473.2h12M208.6 478h12M208.6 493.6h12M208.6 498.4h12M208.6 547.6h12M208.6 558.4h12M208.6 569.2h12M208.6 570.4h12M208.6 606.4h12M208.6 613.6h12M208.6 630.4h12M208.6 642.4h12M208.6 682h12M208.6 689.2h12M208.6 715.6h12M208.6 744.4h12M220.6 440.8h12M220.6 480.4h12M220.6 526h12M220.6 542.8h12M220.6 546.4h12M220.6 552.4h12M220.6 577.6h12M220.6 638.8h12M220.6 732.4h12M232.6 461.2h12M232.6 481.6h12M232.6 482.8h12M232.6 484h12M232.6 508h12M232.6 536.8h12M232.6 544h12M232.6 618.4h12M232.6 644.8h12M232.6 654.4h12M232.6 678.4h12M232.6 684.4h12M232.6 688h12M232.6 703.6h12M232.6 745.6h12M244.6 431.2h12M244.6 443.2h12M244.6 466h12M244.6 468.4h12M244.6 481.6h12M244.6 482.8h12M244.6 535.6h12M244.6 542.8h12M244.6 548.8h12M244.6 550h12M244.6 601.6h12M244.6 614.8h12M244.6 626.8h12M244.6 637.6h12M244.6 684.4h12M244.6 701.2h12M244.6 728.8h12M256.6 470.8h12M256.6 482.8h12M256.6 544h12M256.6 565.6h12M256.6 569.2h12M256.6 599.2h12M256.6 628h12M256.6 636.4h12M256.6 658h12M256.6 660.4h12M256.6 697.6h12M256.6 721.6h12M256.6 743.2h12M268.6 448h12M268.6 462.4h12M268.6 472h12M268.6 476.8h12M268.6 490h12M268.6 524.8h12M268.6 592h12M268.6 601.6h12M268.6 636.4h12M268.6 660.4h12M268.6 703.6h12M268.6 714.4h12M268.6 718h12M268.6 721.6h12M268.6 731.2h12M280.6 468.4h12M280.6 469.6h12M280.6 527.2h12M280.6 539.2h12M280.6 583.6h12M280.6 614.8h12M280.6 618.4h12M280.6 642.4h12M280.6 678.4h12M280.6 695.2h12M280.6 706h12M280.6 724h12"/>
<path stroke="#f1f2fd" stroke-width="1.2" d="M76.6 432.4h12M76.6 539.2h12M76.6 559.6h12M76.6 611.2h12M76.6 680.8h12M88.6 445.6h12M88.6 493.6h12M88.6 618.4h12M88.6 646h12M88.6 660.4h12M88.6 719.2h12M100.6 457.6h12M100.6 466h12M100.6 474.4h12M100.6 479.2h12M100.6 503.2h12M100.6 557.2h12M100.6 576.4h12M100.6 626.8h12M100.6 632.8h12M100.6 662.8h12M100.6 714.4h12M112.6 432.4h12M112.6 484h12M112.6 630.4h12M112.6 648.4h12M112.6 724h12M112.6 739.6h12M124.6 587.2h12M124.6 596.8h12M124.6 661.6h12M136.6 508h12M136.6 630.4h12M136.6 695.2h12M148.6 427.6h12M148.6 524.8h12M148.6 554.8h12M148.6 595.6h12M148.6 671.2h12M160.6 580h12M160.6 634h12M160.6 683.2h12M172.6 470.8h12M172.6 475.6h12M172.6 610h12M184.6 485.2h12M184.6 556h12M184.6 728.8h12M196.6 472h12M196.6 538h12M196.6 595.6h12M196.6 607.6h12M196.6 616h12M196.6 685.6h12M196.6 691.6h12M196.6 727.6h12M208.6 499.6h12M220.6 473.2h12M220.6 487.6h12M220.6 541.6h12M220.6 564.4h12M220.6 665.2h12M232.6 569.2h12M232.6 575.2h12M232.6 682h12M244.6 433.6h12M244.6 515.2h12M244.6 524.8h12M244.6 588.4h12M244.6 667.6h12M268.6 482.8h12M268.6 637.6h12M280.6 434.8h12M280.6 440.8h12M280.6 454h12M280.6 598h12M280.6 649.6h12M280.6 654.4h12M280.6 736h12"/>
<path stroke="#f7f8fe" stroke-width="1.2" d="M76.6 436h12M76.6 655.6h12M88.6 443.2h12M88.6 725.2h12M100.6 434.8h12M112.6 481.6h12M112.6 581.2h12M124.6 544h12M124.6 656.8h12M124.6 712h12M136.6 451.6h12M136.6 618.4h12M136.6 674.8h12M160.6 581.2h12M172.6 481.6h12M172.6 664h12M184.6 433.6h12M184.6 554.8h12M184.6 584.8h12M208.6 686.8h12"/>
<path stroke="#f7f7fe" stroke-width="1.2" d="M76.6 438.4h12M76.6 443.2h12M76.6 452.8h12M76.6 464.8h12M76.6 498.4h12M76.6 510.4h12M76.6 558.4h12M76.6 596.8h12M76.6 634h12M76.6 659.2h12M76.6 697.6h12M76.6 736h12M88.6 467.2h12M88.6 468.4h12M88.6 612.4h12M88.6 666.4h12M88.6 670h12M88.6 684.4h12M88.6 712h12M100.6 490h12M100.6 496h12M100.6 508h12M100.6 520h12M100.6 553.6h12M100.6 608.8h12M100.6 724h12M100.6 727.6h12M100.6 730h12M112.6 497.2h12M112.6 534.4h12M112.6 550h12M112.6 569.2h12M112.6 602.8h12M112.6 607.6h12M112.6 612.4h12M112.6 631.6h12M112.6 652h12M112.6 654.4h12M124.6 438.4h12M124.6 480.4h12M124.6 485.2h12M124.6 490h12M124.6 491.2h12M124.6 527.2h12M124.6 550h12M124.6 604h12M124.6 619.6h12M124.6 644.8h12M124.6 646h12M124.6 676h12M124.6 677.2h12M124.6 736h12M136.6 476.8h12M136.6 496h12M136.6 528.4h12M136.6 529.6h12M136.6 542.8h12M136.6 656.8h12M136.6 696.4h12M136.6 728.8h12M160.6 469.6h12M160.6 472h12M160.6 546.4h12M160.6 552.4h12M160.6 565.6h12M160.6 570.4h12M160.6 605.2h12M160.6 646h12M160.6 660.4h12M160.6 734.8h12M172.6 452.8h12M172.6 457.6h12M172.6 461.2h12M172.6 482.8h12M172.6 487.6h12M172.6 488.8h12M172.6 512.8h12M172.6 623.2h12M172.6 644.8h12M172.6 695.2h12M172.6 728.8h12M172.6 736h12M172.6 738.4h12M184.6 436h12M184.6 439.6h12M184.6 448h12M184.6 469.6h12M184.6 480.4h12M184.6 490h12M184.6 514h12M184.6 547.6h12M184.6 557.2h12M184.6 558.4h12M184.6 563.2h12M184.6 571.6h12M184.6 638.8h12M184.6 691.6h12M184.6 724h12M196.6 434.8h12M196.6 503.2h12M196.6 509.2h12M196.6 551.2h12M196.6 557.2h12M196.6 575.2h12M196.6 584.8h12M196.6 613.6h12M196.6 643.6h12M196.6 714.4h12M208.6 444.4h12M208.6 445.6h12M208.6 476.8h12M208.6 484h12M208.6 494.8h12M208.6 529.6h12M208.6 568h12M208.6 602.8h12M208.6 626.8h12M208.6 638.8h12M208.6 654.4h12M208.6 703.6h12M208.6 719.2h12M220.6 588.4h12M220.6 611.2h12M220.6 650.8h12M220.6 672.4h12M220.6 726.4h12"/>
<path stroke="#f6f6fd" stroke-width="1.2" d="M76.6 439.6h12M76.6 472h12M76.6 486.4h12M76.6 521.2h12M76.6 538h12M76.6 732.4h12M88.6 436h12M88.6 516.4h12M88.6 523.6h12M88.6 538h12M88.6 541.6h12M88.6 569.2h12M88.6 599.2h12M88.6 624.4h12M88.6 662.8h12M100.6 449.2h12M100.6 604h12M100.6 613.6h12M112.6 478h12M112.6 526h12M112.6 528.4h12M112.6 529.6h12M112.6 605.2h12M112.6 661.6h12M112.6 700h12M112.6 737.2h12M124.6 431.2h12M124.6 451.6h12M124.6 472h12M124.6 514h12M124.6 551.2h12M124.6 569.2h12M124.6 638.8h12M124.6 685.6h12M124.6 702.4h12M136.6 432.4h12M136.6 480.4h12M136.6 485.2h12M136.6 506.8h12M136.6 509.2h12M136.6 538h12M136.6 682h12M136.6 704.8h12M136.6 724h12M148.6 452.8h12M148.6 523.6h12M148.6 544h12M148.6 700h12M148.6 720.4h12M160.6 443.2h12M160.6 496h12M160.6 548.8h12M160.6 578.8h12M160.6 606.4h12M160.6 620.8h12M160.6 624.4h12M160.6 635.2h12M160.6 652h12M160.6 697.6h12M160.6 739.6h12M160.6 744.4h12M172.6 426.4h12M172.6 438.4h12M172.6 444.4h12M172.6 463.6h12M172.6 545.2h12M172.6 584.8h12M172.6 616h12M172.6 683.2h12M172.6 689.2h12M184.6 446.8h12M184.6 452.8h12M184.6 491.2h12M184.6 508h12M184.6 540.4h12M184.6 623.2h12M184.6 673.6h12M184.6 684.4h12M184.6 697.6h12M184.6 713.2h12M184.6 721.6h12M184.6 745.6h12M196.6 430h12M196.6 488.8h12M196.6 491.2h12M196.6 496h12M196.6 499.6h12M196.6 559.6h12M196.6 565.6h12M196.6 578.8h12M196.6 580h12M196.6 593.2h12M196.6 611.2h12M196.6 612.4h12M196.6 644.8h12M196.6 692.8h12M208.6 426.4h12M208.6 436h12M208.6 517.6h12M208.6 520h12M208.6 523.6h12M208.6 557.2h12M208.6 564.4h12M208.6 634h12M208.6 636.4h12M208.6 640h12M208.6 710.8h12M220.6 449.2h12M220.6 458.8h12M220.6 496h12M220.6 504.4h12M220.6 533.2h12M220.6 539.2h12M220.6 568h12M220.6 595.6h12M220.6 656.8h12M220.6 659.2h12M220.6 679.6h12M244.6 449.2h12M244.6 584.8h12M244.6 600.4h12M244.6 632.8h12M244.6 692.8h12M244.6 722.8h12M280.6 428.8h12M280.6 571.6h12M280.6 636.4h12M280.6 694h12M280.6 697.6h12M280.6 700h12M280.6 709.6h12M280.6 725.2h12"/>
<path stroke="#f2f2fd" stroke-width="1.2" d="M76.6 445.6h12M76.6 461.2h12M76.6 487.6h12M76.6 505.6h12M76.6 674.8h12M88.6 620.8h12M100.6 440.8h12M100.6 641.2h12M100.6 691.6h12M112.6 448h12M112.6 452.8h12M112.6 476.8h12M112.6 574h12M112.6 589.6h12M112.6 613.6h12M112.6 655.6h12M112.6 662.8h12M112.6 738.4h12M112.6 743.2h12M124.6 432.4h12M124.6 479.2h12M124.6 562h12M124.6 629.2h12M124.6 701.2h12M136.6 454h12M148.6 474.4h12M148.6 596.8h12M160.6 460h12M160.6 482.8h12M160.6 614.8h12M160.6 716.8h12M172.6 492.4h12M172.6 506.8h12M172.6 622h12M172.6 698.8h12M184.6 656.8h12M184.6 672.4h12M196.6 594.4h12M196.6 606.4h12M208.6 534.4h12M208.6 596.8h12M208.6 738.4h12M220.6 583.6h12M232.6 566.8h12M232.6 686.8h12M244.6 527.2h12M244.6 611.2h12M244.6 618.4h12M244.6 707.2h12M268.6 557.2h12M268.6 658h12M268.6 679.6h12M268.6 691.6h12M280.6 529.6h12M280.6 586h12M280.6 592h12"/>
<path stroke="#f0f1fc" stroke-width="1.2" d="M76.6 446.8h12M76.6 494.8h12M76.6 547.6h12M76.6 575.2h12M76.6 710.8h12M88.6 514h12M88.6 588.4h12M88.6 668.8h12M88.6 679.6h12M88.6 688h12M88.6 700h12M100.6 444.4h12M100.6 446.8h12M100.6 450.4h12M100.6 461.2h12M100.6 541.6h12M100.6 559.6h12M100.6 566.8h12M100.6 568h12M100.6 577.6h12M100.6 584.8h12M100.6 640h12M100.6 672.4h12M100.6 710.8h12M112.6 426.4h12M112.6 433.6h12M112.6 492.4h12M112.6 516.4h12M112.6 520h12M112.6 523.6h12M112.6 570.4h12M112.6 592h12M112.6 616h12M112.6 634h12M112.6 672.4h12M112.6 682h12M112.6 697.6h12M112.6 712h12M112.6 740.8h12M124.6 470.8h12M124.6 529.6h12M124.6 608.8h12M124.6 652h12M124.6 672.4h12M124.6 718h12M124.6 728.8h12M124.6 740.8h12M136.6 460h12M136.6 530.8h12M136.6 574h12M136.6 583.6h12M136.6 624.4h12M136.6 636.4h12M136.6 659.2h12M148.6 446.8h12M148.6 455.2h12M148.6 505.6h12M148.6 571.6h12M148.6 583.6h12M148.6 587.2h12M148.6 674.8h12M148.6 690.4h12M148.6 742h12M160.6 434.8h12M160.6 451.6h12M160.6 454h12M160.6 512.8h12M160.6 527.2h12M160.6 577.6h12M160.6 594.4h12M160.6 644.8h12M160.6 689.2h12M160.6 726.4h12M160.6 738.4h12M172.6 451.6h12M172.6 464.8h12M172.6 486.4h12M172.6 493.6h12M172.6 532h12M172.6 536.8h12M172.6 550h12M172.6 566.8h12M172.6 570.4h12M172.6 595.6h12M172.6 599.2h12M172.6 630.4h12M172.6 665.2h12M172.6 707.2h12M172.6 744.4h12M184.6 432.4h12M184.6 472h12M184.6 592h12M184.6 595.6h12M184.6 600.4h12M184.6 625.6h12M184.6 626.8h12M184.6 654.4h12M184.6 690.4h12M184.6 731.2h12M196.6 460h12M196.6 468.4h12M196.6 498.4h12M196.6 506.8h12M196.6 512.8h12M196.6 574h12M196.6 684.4h12M196.6 696.4h12M208.6 455.2h12M208.6 468.4h12M208.6 480.4h12M208.6 541.6h12M208.6 586h12M208.6 593.2h12M208.6 600.4h12M208.6 624.4h12M208.6 643.6h12M208.6 650.8h12M208.6 671.2h12M208.6 680.8h12M220.6 436h12M220.6 450.4h12M220.6 509.2h12M220.6 527.2h12M220.6 569.2h12M220.6 586h12M220.6 594.4h12M220.6 613.6h12M220.6 617.2h12M220.6 620.8h12M220.6 701.2h12M220.6 702.4h12M220.6 704.8h12M220.6 710.8h12M232.6 505.6h12M232.6 553.6h12M232.6 594.4h12M232.6 604h12M232.6 610h12M232.6 628h12M232.6 632.8h12M232.6 637.6h12M232.6 646h12M232.6 709.6h12M232.6 740.8h12M244.6 428.8h12M244.6 444.4h12M244.6 446.8h12M244.6 461.2h12M244.6 556h12M244.6 578.8h12M244.6 596.8h12M244.6 638.8h12M244.6 679.6h12M244.6 702.4h12M244.6 712h12M256.6 431.2h12M256.6 432.4h12M256.6 491.2h12M256.6 500.8h12M256.6 557.2h12M256.6 563.2h12M256.6 581.2h12M256.6 620.8h12M256.6 641.2h12M256.6 653.2h12M256.6 661.6h12M256.6 668.8h12M256.6 690.4h12M256.6 710.8h12M256.6 718h12M256.6 728.8h12M256.6 738.4h12M268.6 454h12M268.6 461.2h12M268.6 494.8h12M268.6 514h12M268.6 520h12M268.6 580h12M268.6 588.4h12M268.6 602.8h12M268.6 654.4h12M268.6 710.8h12M268.6 720.4h12M280.6 510.4h12M280.6 516.4h12M280.6 560.8h12M280.6 569.2h12M280.6 581.2h12M280.6 608.8h12M280.6 671.2h12M280.6 680.8h12M280.6 718h12M280.6 727.6h12"/>
<path stroke="#f2f3fd" stroke-width="1.2" d="M76.6 449.2h12M76.6 478h12M76.6 490h12M76.6 516.4h12M76.6 568h12M76.6 577.6h12M76.6 636.4h12M76.6 638.8h12M88.6 462.4h12M88.6 466h12M88.6 613.6h12M88.6 628h12M88.6 674.8h12M88.6 739.6h12M100.6 473.2h12M100.6 506.8h12M100.6 532h12M100.6 590.8h12M100.6 618.4h12M100.6 648.4h12M100.6 650.8h12M100.6 718h12M112.6 428.8h12M112.6 463.6h12M112.6 599.2h12M112.6 606.4h12M112.6 690.4h12M112.6 696.4h12M112.6 701.2h12M112.6 720.4h12M112.6 745.6h12M124.6 443.2h12M124.6 484h12M124.6 559.6h12M124.6 594.4h12M124.6 637.6h12M124.6 642.4h12M124.6 643.6h12M124.6 648.4h12M124.6 654.4h12M124.6 689.2h12M124.6 744.4h12M124.6 745.6h12M136.6 466h12M136.6 587.2h12M136.6 590.8h12M136.6 593.2h12M136.6 607.6h12M136.6 658h12M136.6 680.8h12M136.6 686.8h12M136.6 698.8h12M148.6 438.4h12M148.6 440.8h12M148.6 449.2h12M148.6 480.4h12M148.6 492.4h12M148.6 664h12M148.6 726.4h12M148.6 731.2h12M148.6 739.6h12M160.6 457.6h12M160.6 520h12M160.6 568h12M160.6 575.2h12M160.6 600.4h12M160.6 613.6h12M160.6 648.4h12M160.6 680.8h12M160.6 731.2h12M172.6 433.6h12M172.6 436h12M172.6 535.6h12M172.6 551.2h12M172.6 581.2h12M172.6 589.6h12M172.6 629.2h12M172.6 643.6h12M172.6 658h12M172.6 697.6h12M172.6 710.8h12M172.6 732.4h12M184.6 468.4h12M184.6 481.6h12M184.6 526h12M184.6 532h12M184.6 670h12M184.6 702.4h12M196.6 473.2h12M196.6 476.8h12M196.6 493.6h12M196.6 497.2h12M196.6 530.8h12M196.6 642.4h12M196.6 655.6h12M196.6 667.6h12M196.6 734.8h12M196.6 739.6h12M208.6 446.8h12M208.6 464.8h12M208.6 524.8h12M208.6 620.8h12M208.6 730h12M220.6 439.6h12M220.6 470.8h12M220.6 474.4h12M220.6 598h12M220.6 692.8h12M220.6 695.2h12M220.6 698.8h12M220.6 707.2h12M220.6 714.4h12M220.6 719.2h12M220.6 739.6h12M232.6 456.4h12M232.6 492.4h12M232.6 498.4h12M232.6 522.4h12M232.6 528.4h12M232.6 540.4h12M232.6 554.8h12M232.6 590.8h12M232.6 640h12M232.6 670h12M232.6 672.4h12M232.6 702.4h12M232.6 708.4h12M244.6 464.8h12M244.6 470.8h12M244.6 506.8h12M244.6 532h12M244.6 552.4h12M244.6 656.8h12M244.6 683.2h12M244.6 700h12M268.6 509.2h12M268.6 517.6h12M268.6 684.4h12M280.6 433.6h12M280.6 533.2h12M280.6 605.2h12M280.6 644.8h12M280.6 660.4h12M280.6 666.4h12M280.6 732.4h12"/>
<path stroke="#f6f7fd" stroke-width="1.2" d="M76.6 454h12M76.6 552.4h12M76.6 640h12M88.6 600.4h12M100.6 536.8h12M100.6 550h12M100.6 587.2h12M112.6 508h12M124.6 428.8h12M124.6 602.8h12M124.6 694h12M124.6 698.8h12M136.6 515.2h12M160.6 452.8h12M160.6 518.8h12M160.6 560.8h12M160.6 641.2h12M172.6 454h12M172.6 694h12M184.6 709.6h12M196.6 466h12M196.6 665.2h12M208.6 472h12M208.6 496h12M220.6 433.6h12"/>
<path stroke="#eeeffc" stroke-width="1.2" d="M76.6 463.6h12M76.6 517.6h12M76.6 524.8h12M76.6 535.6h12M76.6 544h12M76.6 548.8h12M76.6 550h12M76.6 556h12M76.6 566.8h12M76.6 588.4h12M76.6 593.2h12M76.6 602.8h12M76.6 623.2h12M76.6 648.4h12M76.6 652h12M76.6 666.4h12M76.6 667.6h12M76.6 679.6h12M76.6 712h12M76.6 728.8h12M88.6 450.4h12M88.6 455.2h12M88.6 456.4h12M88.6 472h12M88.6 500.8h12M88.6 510.4h12M88.6 515.2h12M88.6 545.2h12M88.6 554.8h12M88.6 604h12M88.6 617.2h12M88.6 650.8h12M88.6 690.4h12M88.6 698.8h12M88.6 703.6h12M88.6 727.6h12M100.6 476.8h12M100.6 487.6h12M100.6 502h12M100.6 511.6h12M100.6 529.6h12M100.6 551.2h12M100.6 583.6h12M100.6 586h12M100.6 595.6h12M100.6 630.4h12M100.6 661.6h12M100.6 721.6h12M112.6 443.2h12M112.6 466h12M112.6 499.6h12M112.6 512.8h12M112.6 598h12M112.6 617.2h12M112.6 619.6h12M112.6 628h12M112.6 643.6h12M112.6 649.6h12M112.6 673.6h12M112.6 708.4h12M112.6 727.6h12M124.6 449.2h12M124.6 493.6h12M124.6 506.8h12M124.6 534.4h12M124.6 542.8h12M124.6 547.6h12M124.6 574h12M124.6 606.4h12M124.6 620.8h12M124.6 630.4h12M124.6 716.8h12M124.6 733.6h12M136.6 438.4h12M136.6 474.4h12M136.6 488.8h12M136.6 523.6h12M136.6 570.4h12M136.6 582.4h12M136.6 640h12M136.6 721.6h12M148.6 433.6h12M148.6 485.2h12M148.6 503.2h12M148.6 508h12M148.6 514h12M148.6 572.8h12M148.6 581.2h12M148.6 604h12M148.6 623.2h12M148.6 638.8h12M148.6 646h12M148.6 672.4h12M148.6 732.4h12M160.6 431.2h12M160.6 433.6h12M160.6 439.6h12M160.6 479.2h12M160.6 500.8h12M160.6 536.8h12M160.6 592h12M160.6 608.8h12M160.6 617.2h12M160.6 622h12M160.6 637.6h12M160.6 690.4h12M160.6 691.6h12M160.6 701.2h12M160.6 707.2h12M160.6 728.8h12M172.6 467.2h12M172.6 496h12M172.6 569.2h12M172.6 598h12M172.6 604h12M172.6 631.6h12M172.6 650.8h12M172.6 700h12M172.6 713.2h12M184.6 478h12M184.6 504.4h12M184.6 512.8h12M184.6 544h12M184.6 572.8h12M184.6 619.6h12M184.6 636.4h12M184.6 655.6h12M184.6 703.6h12M184.6 708.4h12M184.6 718h12M184.6 737.2h12M196.6 446.8h12M196.6 454h12M196.6 457.6h12M196.6 486.4h12M196.6 558.4h12M196.6 572.8h12M196.6 618.4h12M196.6 625.6h12M196.6 695.2h12M196.6 728.8h12M208.6 460h12M208.6 491.2h12M208.6 505.6h12M208.6 611.2h12M208.6 649.6h12M208.6 668.8h12M208.6 685.6h12M208.6 701.2h12M208.6 725.2h12M220.6 444.4h12M220.6 469.6h12M220.6 499.6h12M220.6 511.6h12M220.6 523.6h12M220.6 534.4h12M220.6 559.6h12M220.6 587.2h12M220.6 593.2h12M220.6 599.2h12M220.6 622h12M220.6 671.2h12M220.6 680.8h12M220.6 737.2h12M232.6 509.2h12M232.6 535.6h12M232.6 539.2h12M232.6 548.8h12M232.6 647.2h12M232.6 667.6h12M232.6 696.4h12M232.6 697.6h12M232.6 721.6h12M232.6 742h12M244.6 478h12M244.6 530.8h12M244.6 538h12M244.6 653.2h12M244.6 671.2h12M244.6 676h12M244.6 695.2h12M244.6 710.8h12M244.6 721.6h12M256.6 462.4h12M256.6 476.8h12M256.6 502h12M256.6 508h12M256.6 528.4h12M256.6 577.6h12M256.6 596.8h12M256.6 707.2h12M256.6 734.8h12M268.6 430h12M268.6 478h12M268.6 508h12M268.6 512.8h12M268.6 522.4h12M268.6 528.4h12M268.6 574h12M268.6 634h12M268.6 670h12M268.6 709.6h12M280.6 446.8h12M280.6 449.2h12M280.6 452.8h12M280.6 473.2h12M280.6 502h12M280.6 521.2h12M280.6 523.6h12M280.6 545.2h12M280.6 546.4h12M280.6 580h12M280.6 601.6h12M280.6 624.4h12M280.6 682h12M280.6 722.8h12M280.6 730h12M280.6 742h12"/>
<path stroke="#f4f4fd" stroke-width="1.2" d="M76.6 475.6h12M76.6 604h12M76.6 619.6h12M76.6 650.8h12M76.6 672.4h12M88.6 427.6h12M88.6 498.4h12M88.6 509.2h12M88.6 536.8h12M88.6 589.6h12M88.6 642.4h12M88.6 665.2h12M100.6 498.4h12M100.6 526h12M100.6 558.4h12M100.6 563.2h12M100.6 596.8h12M100.6 600.4h12M100.6 601.6h12M100.6 673.6h12M100.6 677.2h12M100.6 713.2h12M112.6 480.4h12M112.6 500.8h12M112.6 595.6h12M112.6 653.2h12M112.6 714.4h12M112.6 719.2h12M124.6 442h12M124.6 458.8h12M124.6 530.8h12M124.6 653.2h12M124.6 688h12M124.6 707.2h12M136.6 464.8h12M136.6 498.4h12M136.6 500.8h12M136.6 554.8h12M136.6 566.8h12M136.6 571.6h12M136.6 584.8h12M136.6 638.8h12M136.6 643.6h12M136.6 679.6h12M148.6 428.8h12M148.6 450.4h12M148.6 527.2h12M148.6 541.6h12M148.6 665.2h12M148.6 684.4h12M148.6 685.6h12M148.6 688h12M148.6 738.4h12M160.6 426.4h12M160.6 463.6h12M160.6 484h12M160.6 509.2h12M160.6 550h12M160.6 659.2h12M160.6 700h12M172.6 480.4h12M172.6 511.6h12M172.6 514h12M172.6 524.8h12M172.6 553.6h12M172.6 613.6h12M172.6 628h12M172.6 653.2h12M172.6 656.8h12M172.6 704.8h12M184.6 430h12M184.6 539.2h12M184.6 565.6h12M184.6 679.6h12M184.6 715.6h12M196.6 456.4h12M196.6 487.6h12M196.6 521.2h12M196.6 528.4h12M196.6 556h12M196.6 571.6h12M196.6 599.2h12M196.6 619.6h12M196.6 666.4h12M196.6 713.2h12M196.6 726.4h12M208.6 434.8h12M208.6 443.2h12M208.6 533.2h12M208.6 583.6h12M208.6 658h12M208.6 660.4h12M208.6 695.2h12M208.6 731.2h12M220.6 479.2h12M220.6 498.4h12M220.6 578.8h12M220.6 619.6h12M220.6 733.6h12M232.6 437.2h12M232.6 469.6h12M232.6 470.8h12M232.6 526h12M232.6 534.4h12M232.6 641.2h12M244.6 593.2h12M244.6 612.4h12M244.6 652h12M244.6 655.6h12M244.6 666.4h12M268.6 503.2h12M268.6 696.4h12M268.6 706h12M268.6 733.6h12M280.6 491.2h12M280.6 563.2h12M280.6 668.8h12"/>
<path stroke="#f5f6fd" stroke-width="1.2" d="M76.6 511.6h12M76.6 565.6h12M76.6 580h12M76.6 709.6h12M76.6 719.2h12M88.6 434.8h12M88.6 470.8h12M88.6 504.4h12M88.6 551.2h12M88.6 720.4h12M88.6 743.2h12M100.6 436h12M100.6 548.8h12M100.6 622h12M100.6 731.2h12M100.6 740.8h12M112.6 468.4h12M112.6 490h12M112.6 502h12M112.6 524.8h12M112.6 545.2h12M112.6 587.2h12M112.6 641.2h12M124.6 445.6h12M124.6 450.4h12M124.6 475.6h12M124.6 595.6h12M124.6 714.4h12M124.6 734.8h12M136.6 469.6h12M136.6 588.4h12M136.6 709.6h12M148.6 533.2h12M148.6 610h12M148.6 629.2h12M148.6 660.4h12M160.6 498.4h12M160.6 602.8h12M160.6 643.6h12M160.6 668.8h12M160.6 679.6h12M172.6 434.8h12M172.6 540.4h12M172.6 592h12M172.6 612.4h12M172.6 725.2h12M172.6 740.8h12M184.6 470.8h12M184.6 510.4h12M184.6 527.2h12M184.6 535.6h12M184.6 538h12M184.6 677.2h12M196.6 532h12M196.6 582.4h12M196.6 629.2h12M196.6 710.8h12M208.6 535.6h12M208.6 605.2h12M208.6 618.4h12M208.6 631.6h12M220.6 456.4h12M220.6 520h12M220.6 528.4h12M220.6 548.8h12M220.6 575.2h12M220.6 576.4h12M220.6 592h12M220.6 673.6h12M244.6 493.6h12M244.6 510.4h12M244.6 522.4h12M244.6 608.8h12M244.6 688h12M280.6 450.4h12M280.6 490h12M280.6 520h12M280.6 528.4h12M280.6 594.4h12M280.6 606.4h12M280.6 637.6h12M280.6 655.6h12M280.6 689.2h12"/>
<path stroke="#f1f1fc" stroke-width="1.2" d="M76.6 533.2h12M76.6 653.2h12M76.6 738.4h12M88.6 496h12M100.6 470.8h12M100.6 739.6h12M112.6 684.4h12M124.6 466h12M124.6 535.6h12M124.6 552.4h12M124.6 566.8h12M124.6 660.4h12M136.6 560.8h12M136.6 610h12M148.6 719.2h12M160.6 430h12M160.6 522.4h12M160.6 743.2h12M172.6 439.6h12M184.6 553.6h12M184.6 580h12M184.6 722.8h12M196.6 515.2h12M196.6 677.2h12M196.6 704.8h12M208.6 574h12M208.6 608.8h12M208.6 707.2h12M208.6 745.6h12M220.6 601.6h12M220.6 630.4h12M232.6 476.8h12M244.6 448h12M244.6 586h12M244.6 704.8h12M244.6 726.4h12M244.6 744.4h12M256.6 542.8h12M256.6 634h12M268.6 497.2h12M268.6 560.8h12M268.6 622h12M268.6 682h12M268.6 734.8h12M280.6 600.4h12"/>
<path stroke="#f0f0fc" stroke-width="1.2" d="M76.6 542.8h12M88.6 625.6h12M100.6 554.8h12M100.6 607.6h12M112.6 623.2h12M124.6 695.2h12M124.6 724h12M136.6 611.2h12M136.6 676h12M136.6 690.4h12M148.6 467.2h12M160.6 557.2h12M160.6 576.4h12M160.6 684.4h12M172.6 518.8h12M172.6 546.4h12M172.6 590.8h12M184.6 583.6h12M184.6 689.2h12M196.6 637.6h12M220.6 696.4h12M232.6 563.2h12M232.6 605.2h12M232.6 689.2h12M256.6 494.8h12M268.6 499.6h12M268.6 678.4h12M280.6 439.6h12M280.6 612.4h12"/>
<path stroke="#f3f4fd" stroke-width="1.2" d="M76.6 560.8h12M76.6 587.2h12M76.6 595.6h12M76.6 610h12M76.6 649.6h12M76.6 665.2h12M76.6 726.4h12M88.6 564.4h12M88.6 568h12M88.6 616h12M88.6 676h12M88.6 724h12M88.6 742h12M100.6 431.2h12M100.6 448h12M100.6 455.2h12M100.6 504.4h12M100.6 562h12M100.6 581.2h12M100.6 656.8h12M100.6 703.6h12M112.6 566.8h12M112.6 590.8h12M112.6 646h12M112.6 650.8h12M112.6 659.2h12M112.6 660.4h12M112.6 694h12M124.6 474.4h12M124.6 576.4h12M124.6 617.2h12M124.6 634h12M124.6 680.8h12M124.6 737.2h12M136.6 426.4h12M136.6 494.8h12M136.6 642.4h12M136.6 644.8h12M136.6 692.8h12M136.6 726.4h12M148.6 462.4h12M148.6 475.6h12M148.6 509.2h12M148.6 510.4h12M148.6 529.6h12M148.6 598h12M148.6 613.6h12M148.6 634h12M148.6 652h12M160.6 586h12M160.6 589.6h12M160.6 703.6h12M160.6 732.4h12M172.6 498.4h12M172.6 563.2h12M172.6 605.2h12M172.6 626.8h12M172.6 671.2h12M172.6 688h12M184.6 443.2h12M184.6 450.4h12M184.6 460h12M184.6 590.8h12M196.6 451.6h12M196.6 511.6h12M196.6 524.8h12M196.6 568h12M196.6 577.6h12M196.6 636.4h12M208.6 530.8h12M208.6 536.8h12M208.6 544h12M208.6 673.6h12M208.6 696.4h12M220.6 442h12M220.6 445.6h12M220.6 506.8h12M220.6 551.2h12M220.6 606.4h12M220.6 631.6h12M220.6 730h12M232.6 458.8h12M232.6 517.6h12M232.6 533.2h12M232.6 617.2h12M232.6 620.8h12M232.6 655.6h12M244.6 469.6h12M244.6 516.4h12M244.6 544h12M244.6 576.4h12M244.6 636.4h12M244.6 716.8h12M244.6 719.2h12M244.6 733.6h12M268.6 427.6h12M268.6 527.2h12M268.6 532h12M268.6 536.8h12M268.6 665.2h12M268.6 727.6h12M268.6 736h12M268.6 743.2h12M280.6 604h12M280.6 640h12M280.6 740.8h12"/>
<path stroke="#f5f5fd" stroke-width="1.2" d="M76.6 564.4h12M76.6 607.6h12M76.6 641.2h12M76.6 642.4h12M76.6 664h12M76.6 742h12M76.6 743.2h12M88.6 431.2h12M88.6 451.6h12M88.6 517.6h12M88.6 557.2h12M88.6 582.4h12M88.6 596.8h12M88.6 632.8h12M88.6 701.2h12M100.6 443.2h12M100.6 464.8h12M100.6 499.6h12M100.6 517.6h12M100.6 545.2h12M100.6 625.6h12M100.6 683.2h12M112.6 546.4h12M112.6 553.6h12M112.6 560.8h12M112.6 666.4h12M112.6 703.6h12M112.6 736h12M124.6 456.4h12M124.6 462.4h12M124.6 481.6h12M124.6 486.4h12M124.6 511.6h12M124.6 568h12M124.6 631.6h12M124.6 713.2h12M124.6 738.4h12M136.6 540.4h12M136.6 576.4h12M136.6 619.6h12M136.6 715.6h12M136.6 716.8h12M136.6 719.2h12M148.6 444.4h12M148.6 547.6h12M148.6 617.2h12M148.6 655.6h12M148.6 662.8h12M148.6 679.6h12M148.6 712h12M148.6 718h12M148.6 740.8h12M160.6 476.8h12M160.6 499.6h12M160.6 524.8h12M160.6 661.6h12M160.6 715.6h12M160.6 722.8h12M172.6 500.8h12M172.6 617.2h12M172.6 632.8h12M172.6 716.8h12M172.6 745.6h12M184.6 479.2h12M184.6 487.6h12M184.6 502h12M184.6 517.6h12M184.6 552.4h12M184.6 614.8h12M184.6 620.8h12M184.6 624.4h12M184.6 642.4h12M184.6 647.2h12M184.6 649.6h12M184.6 695.2h12M184.6 706h12M184.6 726.4h12M196.6 436h12M196.6 442h12M196.6 480.4h12M196.6 540.4h12M196.6 546.4h12M196.6 550h12M196.6 563.2h12M196.6 566.8h12M196.6 600.4h12M196.6 647.2h12M196.6 656.8h12M208.6 428.8h12M208.6 469.6h12M208.6 485.2h12M208.6 487.6h12M208.6 504.4h12M208.6 612.4h12M208.6 614.8h12M208.6 616h12M208.6 662.8h12M208.6 743.2h12M220.6 452.8h12M220.6 472h12M220.6 475.6h12M220.6 562h12M220.6 634h12M220.6 697.6h12M220.6 727.6h12M232.6 446.8h12M232.6 565.6h12M232.6 577.6h12M232.6 635.2h12M232.6 683.2h12M244.6 475.6h12M244.6 511.6h12M244.6 571.6h12M244.6 634h12M244.6 642.4h12M244.6 647.2h12M244.6 668.8h12M244.6 670h12M244.6 694h12M268.6 468.4h12M268.6 545.2h12M268.6 569.2h12M268.6 570.4h12M268.6 572.8h12M268.6 648.4h12M268.6 732.4h12M280.6 480.4h12M280.6 504.4h12M280.6 506.8h12M280.6 522.4h12M280.6 542.8h12M280.6 620.8h12M280.6 643.6h12M280.6 646h12M280.6 708.4h12"/>
<path stroke="#f3f3fd" stroke-width="1.2" d="M76.6 570.4h12M76.6 581.2h12M76.6 586h12M76.6 606.4h12M76.6 670h12M76.6 686.8h12M76.6 713.2h12M76.6 739.6h12M88.6 695.2h12M88.6 704.8h12M100.6 512.8h12M100.6 518.8h12M100.6 592h12M100.6 654.4h12M100.6 666.4h12M100.6 678.4h12M112.6 427.6h12M112.6 548.8h12M112.6 572.8h12M112.6 611.2h12M112.6 665.2h12M112.6 713.2h12M124.6 452.8h12M124.6 554.8h12M136.6 492.4h12M136.6 546.4h12M136.6 734.8h12M148.6 460h12M148.6 575.2h12M160.6 588.4h12M160.6 631.6h12M172.6 462.4h12M172.6 575.2h12M172.6 593.2h12M172.6 596.8h12M172.6 618.4h12M172.6 619.6h12M172.6 648.4h12M172.6 727.6h12M184.6 550h12M184.6 574h12M184.6 575.2h12M184.6 578.8h12M184.6 608.8h12M184.6 610h12M184.6 612.4h12M184.6 682h12M196.6 458.8h12M196.6 510.4h12M196.6 596.8h12M196.6 598h12M196.6 624.4h12M196.6 689.2h12M196.6 698.8h12M196.6 700h12M208.6 440.8h12M208.6 448h12M208.6 497.2h12M208.6 691.6h12M208.6 692.8h12M220.6 460h12M220.6 462.4h12M220.6 468.4h12M220.6 529.6h12M220.6 554.8h12M220.6 676h12M220.6 738.4h12M232.6 497.2h12M232.6 634h12M232.6 710.8h12M232.6 739.6h12M244.6 439.6h12M244.6 455.2h12M244.6 534.4h12M244.6 536.8h12M244.6 582.4h12M244.6 678.4h12M268.6 456.4h12M268.6 632.8h12M268.6 635.2h12M268.6 688h12M268.6 695.2h12M280.6 470.8h12M280.6 553.6h12M280.6 623.2h12M280.6 641.2h12"/>
<path stroke="#f6f7fe" stroke-width="1.2" d="M76.6 734.8h12M88.6 619.6h12M100.6 475.6h12M100.6 637.6h12M100.6 652h12M112.6 430h12M112.6 540.4h12M124.6 557.2h12M124.6 584.8h12M136.6 568h12M160.6 572.8h12M184.6 528.4h12M208.6 509.2h12"/>
<path stroke="#f0f1fc" stroke-width="0.8" d="M76.6 746.6h12"/>
<path stroke="#fbecea" stroke-width="1.2" d="M88.6 432.4h12M88.6 446.8h12M88.6 454h12M88.6 458.8h12M88.6 460h12M88.6 461.2h12M88.6 475.6h12M88.6 484h12M88.6 494.8h12M88.6 497.2h12M88.6 508h12M88.6 511.6h12M88.6 520h12M88.6 526h12M88.6 533.2h12M88.6 544h12M88.6 550h12M88.6 558.4h12M88.6 578.8h12M88.6 581.2h12M88.6 587.2h12M88.6 623.2h12M88.6 626.8h12M88.6 630.4h12M88.6 637.6h12M88.6 640h12M88.6 644.8h12M88.6 649.6h12M88.6 654.4h12M88.6 658h12M88.6 677.2h12M88.6 682h12M88.6 683.2h12M88.6 689.2h12M88.6 706h12M88.6 707.2h12M88.6 731.2h12M88.6 732.4h12M88.6 737.2h12M88.6 738.4h12M88.6 744.4h12M136.6 430h12M136.6 431.2h12M136.6 433.6h12M136.6 442h12M136.6 446.8h12M136.6 461.2h12M136.6 462.4h12M136.6 475.6h12M136.6 482.8h12M136.6 484h12M136.6 487.6h12M136.6 490h12M136.6 505.6h12M136.6 514h12M136.6 524.8h12M136.6 534.4h12M136.6 539.2h12M136.6 544h12M136.6 547.6h12M136.6 552.4h12M136.6 553.6h12M136.6 557.2h12M136.6 565.6h12M136.6 572.8h12M136.6 578.8h12M136.6 592h12M136.6 595.6h12M136.6 601.6h12M136.6 605.2h12M136.6 606.4h12M136.6 608.8h12M136.6 614.8h12M136.6 616h12M136.6 617.2h12M136.6 620.8h12M136.6 626.8h12M136.6 628h12M136.6 632.8h12M136.6 649.6h12M136.6 655.6h12M136.6 660.4h12M136.6 666.4h12M136.6 667.6h12M136.6 670h12M136.6 671.2h12M136.6 678.4h12M136.6 685.6h12M136.6 688h12M136.6 702.4h12M136.6 706h12M136.6 713.2h12M136.6 722.8h12M136.6 725.2h12M136.6 733.6h12M136.6 739.6h12M136.6 740.8h12M244.6 426.4h12M244.6 450.4h12M244.6 476.8h12M244.6 485.2h12M244.6 490h12M244.6 520h12M244.6 529.6h12M244.6 540.4h12M244.6 541.6h12M244.6 551.2h12M244.6 564.4h12M244.6 580h12M244.6 589.6h12M244.6 598h12M244.6 606.4h12M244.6 659.2h12M244.6 662.8h12M244.6 665.2h12M244.6 690.4h12"/>
<path stroke="#edeffc" stroke-width="1.2" d="M88.6 636.4h12M88.6 691.6h12M136.6 662.8h12M172.6 577.6h12M184.6 599.2h12M196.6 690.4h12M196.6 701.2h12M220.6 454h12M244.6 518.8h12M244.6 630.4h12M244.6 737.2h12M268.6 715.6h12"/>
<path stroke="#f2f3fd" stroke-width="0.8" d="M112.6 746.6h12"/>
<path stroke="#edeefc" stroke-width="1.2" d="M148.6 451.6h12M148.6 490h12M148.6 521.2h12M148.6 532h12M148.6 536.8h12M148.6 624.4h12M148.6 625.6h12M148.6 630.4h12M148.6 661.6h12M148.6 667.6h12M148.6 737.2h12M220.6 431.2h12M220.6 437.2h12M220.6 457.6h12M220.6 491.2h12M220.6 508h12M220.6 602.8h12M220.6 607.6h12M220.6 647.2h12M220.6 662.8h12M220.6 718h12M232.6 463.6h12M232.6 467.2h12M232.6 472h12M232.6 532h12M232.6 557.2h12M232.6 598h12M232.6 653.2h12M232.6 698.8h12M232.6 724h12M244.6 440.8h12M244.6 467.2h12M244.6 480.4h12M244.6 503.2h12M244.6 514h12M244.6 554.8h12M244.6 581.2h12M244.6 648.4h12M244.6 650.8h12M244.6 654.4h12M244.6 664h12M244.6 696.4h12M244.6 730h12M244.6 731.2h12M244.6 745.6h12M256.6 437.2h12M256.6 444.4h12M256.6 451.6h12M256.6 464.8h12M256.6 493.6h12M256.6 527.2h12M256.6 647.2h12M256.6 712h12M268.6 457.6h12M268.6 458.8h12M268.6 488.8h12M268.6 492.4h12M268.6 533.2h12M268.6 666.4h12M268.6 683.2h12M268.6 701.2h12M268.6 704.8h12M268.6 742h12M280.6 427.6h12M280.6 451.6h12M280.6 482.8h12M280.6 512.8h12M280.6 515.2h12M280.6 552.4h12M280.6 575.2h12M280.6 588.4h12M280.6 595.6h12M280.6 610h12M280.6 659.2h12M280.6 712h12M280.6 714.4h12M280.6 720.4h12"/>
<path stroke="#ecedfc" stroke-width="1.2" d="M148.6 496h12M148.6 551.2h12M148.6 594.4h12M148.6 607.6h12M232.6 444.4h12M232.6 474.4h12M232.6 623.2h12M232.6 690.4h12M244.6 479.2h12M244.6 587.2h12M256.6 595.6h12M256.6 706h12M268.6 460h12M268.6 553.6h12M268.6 576.4h12M268.6 619.6h12M268.6 626.8h12M268.6 697.6h12M280.6 430h12M280.6 472h12M280.6 499.6h12M280.6 538h12M280.6 662.8h12M280.6 670h12M280.6 672.4h12"/>
<path stroke="#ecedfb" stroke-width="1.2" d="M148.6 535.6h12M148.6 540.4h12M148.6 560.8h12M148.6 576.4h12M148.6 592h12M148.6 618.4h12M148.6 653.2h12M232.6 445.6h12M232.6 478h12M232.6 515.2h12M232.6 518.8h12M232.6 606.4h12M232.6 613.6h12M232.6 662.8h12M232.6 677.2h12M232.6 731.2h12M244.6 438.4h12M244.6 492.4h12M244.6 497.2h12M244.6 528.4h12M244.6 559.6h12M244.6 624.4h12M244.6 661.6h12M244.6 686.8h12M256.6 455.2h12M256.6 536.8h12M256.6 640h12M256.6 680.8h12M256.6 703.6h12M256.6 725.2h12M268.6 449.2h12M268.6 455.2h12M268.6 598h12M268.6 631.6h12M268.6 672.4h12M268.6 692.8h12M280.6 431.2h12M280.6 486.4h12"/>
<path stroke="#eceefc" stroke-width="1.2" d="M148.6 564.4h12M148.6 640h12M148.6 709.6h12M220.6 642.4h12M220.6 708.4h12M220.6 713.2h12M232.6 449.2h12M232.6 596.8h12M232.6 730h12M244.6 484h12M244.6 697.6h12M256.6 654.4h12M268.6 578.8h12M268.6 628h12M280.6 686.8h12M280.6 696.4h12"/>
<path stroke="#ebedfb" stroke-width="1.2" d="M148.6 676h12M232.6 506.8h12M232.6 593.2h12M232.6 629.2h12M232.6 664h12M232.6 722.8h12M256.6 515.2h12M256.6 575.2h12M256.6 594.4h12M268.6 493.6h12M268.6 541.6h12M268.6 652h12M280.6 494.8h12M280.6 524.8h12"/>
<path stroke="#eeeffc" stroke-width="0.8" d="M172.6 746.6h12"/>
<path stroke="#fbf2f5" stroke-width="0.8" d="M220.6 746.6h12"/>
<path stroke="#ebecfb" stroke-width="1.2" d="M232.6 430h12M232.6 542.8h12M232.6 580h12M232.6 581.2h12M232.6 611.2h12M232.6 630.4h12M232.6 649.6h12M232.6 674.8h12M232.6 713.2h12M256.6 438.4h12M256.6 479.2h12M256.6 517.6h12M256.6 571.6h12M256.6 605.2h12M256.6 611.2h12M256.6 637.6h12M256.6 652h12M256.6 673.6h12M256.6 684.4h12M256.6 689.2h12M256.6 692.8h12M268.6 426.4h12M268.6 437.2h12M268.6 438.4h12M268.6 523.6h12M268.6 562h12M268.6 586h12M268.6 590.8h12M268.6 680.8h12"/>
<path stroke="#eaecfb" stroke-width="1.2" d="M232.6 457.6h12M256.6 521.2h12M256.6 709.6h12M268.6 526h12M268.6 556h12M268.6 616h12"/>
<path stroke="#eaebfb" stroke-width="1.2" d="M256.6 428.8h12M256.6 505.6h12M256.6 506.8h12M256.6 545.2h12M256.6 553.6h12M256.6 590.8h12M256.6 606.4h12"/>
<path stroke="#e6e8fa" stroke-width="1.2" d="M256.6 430h12M256.6 460h12M256.6 556h12M256.6 677.2h12M256.6 704.8h12M256.6 742h12"/>
<path stroke="#e8eafb" stroke-width="1.2" d="M256.6 442h12M256.6 458.8h12M256.6 514h12M256.6 534.4h12M256.6 535.6h12M256.6 570.4h12M256.6 600.4h12M256.6 625.6h12M256.6 655.6h12M256.6 714.4h12M256.6 727.6h12"/>
<path stroke="#e9ebfb" stroke-width="1.2" d="M256.6 443.2h12M256.6 469.6h12M256.6 492.4h12M256.6 520h12M256.6 523.6h12M256.6 526h12M256.6 546.4h12M256.6 552.4h12M256.6 613.6h12M256.6 629.2h12M256.6 638.8h12"/>
<path stroke="#e7e9fb" stroke-width="1.2" d="M256.6 457.6h12M256.6 484h12M256.6 485.2h12M256.6 532h12M256.6 589.6h12M256.6 598h12M256.6 624.4h12M256.6 683.2h12M256.6 700h12M256.6 708.4h12M256.6 724h12M256.6 731.2h12"/>
<path stroke="#e8e9fb" stroke-width="1.2" d="M256.6 498.4h12M256.6 716.8h12M256.6 730h12"/>
<path stroke="#e7e8fa" stroke-width="1.2" d="M256.6 533.2h12M256.6 601.6h12M256.6 678.4h12M256.6 696.4h12M256.6 719.2h12"/>
<path stroke="#e9eafb" stroke-width="1.2" d="M256.6 582.4h12M256.6 617.2h12M256.6 736h12"/>
<path stroke="#e7e8fb" stroke-width="1.2" d="M256.6 626.8h12M256.6 664h12"/>
<path stroke="#ebecfb" stroke-width="0.8" d="M256.6 746.6h12"/>
<path stroke="#fad8db" stroke-width="1.5" d="M88.6 557.4h12M88.6 588.9h12M88.6 593.4h12M88.6 645.9h12M88.6 665.4h12M88.6 674.4h12M88.6 735.9h12M88.6 737.4h12M112.6 690.9h12M184.6 717.5h12M196.6 701.2h12M208.6 702.8h12"/>
<path stroke="#fbe0e2" stroke-width="1.5" d="M88.6 558.9h12M88.6 636.9h12M136.6 667.5h12M208.6 719.2h12"/>
<path stroke="#fbdee1" stroke-width="1.5" d="M88.6 560.4h12M196.6 725.2h12"/>
<path stroke="#fbe3e5" stroke-width="1.5" d="M88.6 561.9h12M88.6 660.9h12M208.6 737.2h12"/>
<path stroke="#f8cacd" stroke-width="1.5" d="M88.6 563.4h12M100.6 626.1h12M100.6 630.6h12M100.6 722.1h12M112.6 576.9h12M112.6 642.9h12M112.6 647.4h12M112.6 680.4h12M112.6 708.9h12M124.6 613.2h12M124.6 626.8h12M124.6 635.8h12M124.6 673.2h12M124.6 677.8h12M124.6 745.2h12M160.6 635.8h12M160.6 734.8h12M184.6 638h12M184.6 639.5h12M184.6 686h12M184.6 689h12M184.6 692h12M184.6 746h12M196.6 722.2h12"/>
<path stroke="#f9d1d4" stroke-width="1.5" d="M88.6 564.9h12M88.6 629.4h12M88.6 717.9h12M88.6 723.9h12M88.6 731.4h12M100.6 732.6h12M112.6 677.4h12M124.6 592.2h12M124.6 683.8h12M136.6 655.5h12M184.6 680h12M184.6 728h12M196.6 695.2h12M196.6 738.8h12"/>
<path stroke="#fbdfe1" stroke-width="1.5" d="M88.6 566.4h12M88.6 633.9h12M88.6 711.9h12M208.6 711.8h12"/>
<path stroke="#f9d7d9" stroke-width="1.5" d="M88.6 567.9h12"/>
<path stroke="#f8c9cc" stroke-width="1.5" d="M88.6 569.4h12M88.6 582.9h12M88.6 684.9h12M88.6 744.9h12M100.6 683.1h12M112.6 669.9h12M124.6 604.2h12M124.6 605.8h12M124.6 653.8h12M124.6 676.2h12M124.6 685.2h12M124.6 688.2h12M136.6 613.5h12M136.6 627h12M136.6 651h12M136.6 660h12M136.6 664.5h12M136.6 673.5h12M136.6 726h12M136.6 732h12M160.6 620.8h12M160.6 679.2h12M160.6 692.8h12M160.6 733.2h12M184.6 666.5h12M184.6 684.5h12"/>
<path stroke="#f7c6ca" stroke-width="1.5" d="M88.6 570.9h12M112.6 638.4h12M112.6 729.9h12M124.6 692.8h12M160.6 712.2h12M184.6 716h12M184.6 732.5h12M196.6 687.8h12"/>
<path stroke="#f8cdd0" stroke-width="1.5" d="M88.6 572.4h12M88.6 663.9h12M88.6 702.9h12M88.6 707.4h12M100.6 584.1h12M100.6 624.6h12M100.6 635.1h12M100.6 705.6h12M112.6 575.4h12M112.6 591.9h12M112.6 600.9h12M112.6 617.4h12M112.6 639.9h12M124.6 691.2h12M124.6 694.2h12M136.6 637.5h12M136.6 672h12M136.6 738h12M160.6 649.2h12M160.6 719.8h12M184.6 654.5h12M184.6 681.5h12M196.6 684.8h12M196.6 689.2h12M196.6 708.8h12"/>
<path stroke="#fad7d9" stroke-width="1.5" d="M88.6 573.9h12M100.6 609.6h12M112.6 678.9h12M124.6 697.2h12"/>
<path stroke="#fadee1" stroke-width="1.5" d="M88.6 575.4h12"/>
<path stroke="#f9d5d8" stroke-width="1.5" d="M88.6 576.9h12M88.6 585.9h12M88.6 632.4h12M88.6 659.4h12M88.6 683.4h12M88.6 710.4h12M88.6 722.4h12M100.6 587.1h12M100.6 662.1h12M112.6 626.4h12M112.6 701.4h12M112.6 731.4h12M136.6 628.5h12M136.6 744h12M184.6 674h12M184.6 731h12M196.6 678.8h12M196.6 735.8h12M208.6 722.2h12"/>
<path stroke="#f9d0d3" stroke-width="1.5" d="M88.6 578.4h12M88.6 606.9h12M88.6 644.4h12M88.6 656.4h12M88.6 681.9h12M88.6 738.9h12M100.6 606.6h12M100.6 656.1h12M100.6 716.1h12M100.6 744.6h12M112.6 632.4h12M112.6 740.4h12M136.6 607.5h12M136.6 676.5h12M136.6 681h12M136.6 727.5h12M184.6 644h12M184.6 672.5h12M184.6 705.5h12M196.6 716.2h12M196.6 743.2h12M208.6 726.8h12"/>
<path stroke="#fad7da" stroke-width="1.5" d="M88.6 579.9h12M88.6 609.9h12M88.6 623.4h12M88.6 647.4h12M88.6 704.4h12M112.6 659.4h12"/>
<path stroke="#f9d5d7" stroke-width="1.5" d="M88.6 581.4h12M88.6 621.9h12M100.6 654.6h12M196.6 675.8h12M196.6 740.2h12"/>
<path stroke="#fadcdf" stroke-width="1.5" d="M88.6 584.4h12M88.6 630.9h12M88.6 648.9h12M112.6 614.4h12M112.6 735.9h12"/>
<path stroke="#f9d2d5" stroke-width="1.5" d="M88.6 587.4h12M88.6 627.9h12M88.6 726.9h12M88.6 729.9h12M88.6 734.4h12M112.6 605.4h12M112.6 672.9h12M112.6 683.4h12M112.6 696.9h12M112.6 728.4h12M160.6 637.2h12M184.6 690.5h12M196.6 696.8h12M196.6 714.8h12"/>
<path stroke="#f9d6d9" stroke-width="1.5" d="M88.6 590.4h12M88.6 635.4h12M112.6 582.9h12M184.6 725h12M196.6 698.2h12M208.6 716.2h12"/>
<path stroke="#fbe0e3" stroke-width="1.5" d="M88.6 591.9h12M208.6 707.2h12M208.6 713.2h12M208.6 729.8h12"/>
<path stroke="#fadcde" stroke-width="1.5" d="M88.6 594.9h12M88.6 611.4h12M88.6 669.9h12M88.6 671.4h12M184.6 678.5h12M196.6 726.8h12"/>
<path stroke="#fbe1e3" stroke-width="1.5" d="M88.6 596.4h12M88.6 686.4h12M208.6 720.8h12"/>
<path stroke="#f8cdd1" stroke-width="1.5" d="M88.6 597.9h12"/>
<path stroke="#fce7e9" stroke-width="1.5" d="M88.6 599.4h12M88.6 677.4h12M208.6 723.8h12M208.6 746.2h12"/>
<path stroke="#fadadd" stroke-width="1.5" d="M88.6 600.9h12M88.6 615.9h12M88.6 639.9h12M88.6 642.9h12M88.6 716.4h12M88.6 719.4h12M112.6 737.4h12M124.6 614.8h12M136.6 699h12M184.6 653h12M196.6 746.2h12"/>
<path stroke="#fadbde" stroke-width="1.5" d="M88.6 602.4h12M88.6 672.9h12M88.6 675.9h12M88.6 692.4h12M88.6 705.9h12M88.6 740.4h12M112.6 666.9h12M196.6 702.8h12M196.6 719.2h12M196.6 731.2h12M208.6 740.2h12"/>
<path stroke="#f9d3d6" stroke-width="1.5" d="M88.6 603.9h12M88.6 618.9h12M88.6 651.9h12M88.6 657.9h12M100.6 714.6h12M112.6 611.4h12M112.6 644.4h12M112.6 738.9h12M112.6 744.9h12M124.6 658.2h12M136.6 618h12M136.6 742.5h12M184.6 738.5h12M196.6 699.8h12M196.6 723.8h12"/>
<path stroke="#fbe6e8" stroke-width="1.5" d="M88.6 605.4h12M208.6 744.8h12"/>
<path stroke="#f9cfd2" stroke-width="1.5" d="M88.6 608.4h12M88.6 662.4h12M88.6 687.9h12M88.6 696.9h12M88.6 743.4h12M100.6 597.6h12M100.6 599.1h12M100.6 657.6h12M100.6 702.6h12M112.6 609.9h12M112.6 686.4h12M112.6 693.9h12M112.6 713.4h12M124.6 647.8h12M136.6 603h12M184.6 659h12M184.6 701h12M184.6 707h12M184.6 711.5h12M184.6 714.5h12M196.6 672.8h12M196.6 677.2h12M196.6 692.2h12M196.6 720.8h12"/>
<path stroke="#f8cccf" stroke-width="1.5" d="M88.6 612.9h12M88.6 654.9h12M88.6 714.9h12M100.6 605.1h12M100.6 612.6h12M100.6 701.1h12M112.6 585.9h12M112.6 588.9h12M112.6 684.9h12M124.6 638.8h12M124.6 713.8h12M136.6 642h12M160.6 680.8h12M160.6 698.8h12M184.6 650h12M184.6 696.5h12M196.6 669.8h12"/>
<path stroke="#fbe2e5" stroke-width="1.5" d="M88.6 614.4h12M112.6 612.9h12"/>
<path stroke="#fad9dc" stroke-width="1.5" d="M88.6 617.4h12M112.6 743.4h12M196.6 741.8h12"/>
<path stroke="#f8c8cb" stroke-width="1.5" d="M88.6 620.4h12M100.6 666.6h12M112.6 594.9h12M112.6 653.4h12M124.6 583.2h12M136.6 615h12M136.6 718.5h12"/>
<path stroke="#fad9db" stroke-width="1.5" d="M88.6 624.9h12M112.6 716.4h12M196.6 734.2h12M208.6 717.8h12"/>
<path stroke="#f7c6c9" stroke-width="1.5" d="M88.6 626.4h12M100.6 582.6h12M100.6 585.6h12M100.6 639.6h12M100.6 681.6h12M100.6 735.6h12M112.6 584.4h12M112.6 608.4h12M112.6 722.4h12M112.6 741.9h12M124.6 611.8h12M124.6 629.8h12M124.6 701.8h12M136.6 606h12M136.6 669h12M136.6 688.5h12M136.6 693h12M136.6 717h12M160.6 644.8h12M160.6 685.2h12M160.6 724.2h12M160.6 728.8h12M184.6 698h12M184.6 744.5h12M196.6 680.2h12M196.6 690.8h12"/>
<path stroke="#fadde0" stroke-width="1.5" d="M88.6 638.4h12M112.6 633.9h12M136.6 661.5h12M184.6 662h12M184.6 719h12M208.6 728.2h12M208.6 734.2h12M208.6 738.8h12"/>
<path stroke="#fbdfe2" stroke-width="1.5" d="M88.6 641.4h12M184.6 663.5h12M208.6 708.8h12M208.6 735.8h12"/>
<path stroke="#f7c7ca" stroke-width="1.5" d="M88.6 650.4h12M100.6 633.6h12M100.6 720.6h12M124.6 641.8h12M136.6 678h12M136.6 736.5h12M160.6 676.2h12M184.6 660.5h12"/>
<path stroke="#fadadc" stroke-width="1.5" d="M88.6 653.4h12M88.6 666.9h12M136.6 658.5h12M196.6 704.2h12"/>
<path stroke="#f8cbce" stroke-width="1.5" d="M88.6 668.4h12M88.6 708.9h12M100.6 591.6h12M112.6 579.9h12M112.6 621.9h12M112.6 636.9h12M112.6 692.4h12M112.6 695.4h12M112.6 714.9h12M112.6 723.9h12M124.6 596.8h12M124.6 716.8h12M136.6 649.5h12M136.6 687h12M136.6 721.5h12M136.6 733.5h12M136.6 741h12M160.6 706.2h12M184.6 648.5h12M196.6 732.8h12M196.6 737.2h12"/>
<path stroke="#f8ced1" stroke-width="1.5" d="M88.6 678.9h12M88.6 698.4h12M88.6 701.4h12M88.6 713.4h12M100.6 665.1h12M100.6 711.6h12M112.6 603.9h12M112.6 725.4h12M136.6 619.5h12M136.6 645h12M136.6 648h12M160.6 695.8h12M160.6 715.2h12M184.6 665h12M184.6 687.5h12M184.6 708.5h12M184.6 734h12M196.6 693.8h12M196.6 728.2h12M196.6 729.8h12"/>
<path stroke="#f9d4d7" stroke-width="1.5" d="M88.6 680.4h12M88.6 690.9h12M88.6 720.9h12M112.6 630.9h12M184.6 695h12M196.6 707.2h12"/>
<path stroke="#f9d6d8" stroke-width="1.5" d="M88.6 689.4h12M112.6 719.4h12M136.6 715.5h12M184.6 741.5h12"/>
<path stroke="#f7c4c7" stroke-width="1.5" d="M88.6 693.9h12M88.6 725.4h12M100.6 653.1h12M100.6 684.6h12M100.6 738.6h12M112.6 665.4h12M112.6 674.4h12M124.6 590.8h12M124.6 598.2h12M124.6 664.2h12M124.6 680.8h12M124.6 734.8h12M136.6 631.5h12M160.6 623.8h12M160.6 626.8h12M160.6 668.8h12M160.6 694.2h12M184.6 642.5h12M184.6 729.5h12"/>
<path stroke="#f9d1d3" stroke-width="1.5" d="M88.6 695.4h12"/>
<path stroke="#fce6e9" stroke-width="1.5" d="M88.6 699.9h12"/>
<path stroke="#fadee0" stroke-width="1.5" d="M88.6 728.4h12M136.6 700.5h12M208.6 705.8h12"/>
<path stroke="#fadbdd" stroke-width="1.5" d="M88.6 732.9h12M184.6 647h12M184.6 671h12M208.6 710.2h12"/>
<path stroke="#fad8da" stroke-width="1.5" d="M88.6 741.9h12"/>
<path stroke="#f8cfd2" stroke-width="1.4" d="M88.6 746.3h12"/>
<path stroke="#f6bbbf" stroke-width="1.5" d="M100.6 581.1h12M100.6 708.6h12M124.6 637.2h12M124.6 715.2h12M136.6 625.5h12M136.6 633h12M148.6 652.2h12M184.6 713h12M184.6 740h12"/>
<path stroke="#f7c1c5" stroke-width="1.5" d="M100.6 588.6h12M100.6 668.1h12M112.6 623.4h12M112.6 698.4h12M112.6 707.4h12M124.6 679.2h12M136.6 714h12M160.6 653.8h12M160.6 665.8h12"/>
<path stroke="#f6babe" stroke-width="1.5" d="M100.6 590.1h12M100.6 644.1h12M100.6 693.6h12M100.6 743.1h12M124.6 587.8h12M124.6 646.2h12M124.6 712.2h12M124.6 728.8h12M124.6 737.8h12M148.6 737.8h12M160.6 703.2h12M172.6 678.8h12M172.6 680.2h12"/>
<path stroke="#f8c9cd" stroke-width="1.5" d="M100.6 593.1h12M100.6 717.6h12M112.6 596.4h12M112.6 705.9h12M124.6 599.8h12M124.6 608.8h12M136.6 666h12M184.6 693.5h12M184.6 702.5h12M184.6 722h12"/>
<path stroke="#f8c7ca" stroke-width="1.5" d="M100.6 594.6h12M100.6 618.6h12M112.6 599.4h12M112.6 618.9h12M112.6 650.4h12M136.6 640.5h12M136.6 723h12M136.6 730.5h12M160.6 710.8h12M184.6 735.5h12"/>
<path stroke="#f7c1c4" stroke-width="1.5" d="M100.6 596.1h12M100.6 617.1h12M100.6 629.1h12M100.6 660.6h12M100.6 740.1h12M112.6 662.4h12M112.6 699.9h12M124.6 631.2h12M136.6 621h12M160.6 656.8h12M160.6 713.8h12M160.6 742.2h12"/>
<path stroke="#f5b7ba" stroke-width="1.5" d="M100.6 600.6h12M148.6 622.2h12M172.6 728.2h12"/>
<path stroke="#f6b8bc" stroke-width="1.5" d="M100.6 602.1h12M112.6 651.9h12M136.6 643.5h12M148.6 610.2h12M148.6 655.2h12M148.6 694.2h12M160.6 707.8h12"/>
<path stroke="#f6bec2" stroke-width="1.5" d="M100.6 603.6h12M100.6 632.1h12M124.6 610.2h12M124.6 622.2h12M124.6 644.8h12M136.6 690h12M172.6 674.2h12M184.6 720.5h12"/>
<path stroke="#f7c2c5" stroke-width="1.5" d="M100.6 608.1h12M100.6 648.6h12M100.6 663.6h12M100.6 695.1h12M112.6 597.9h12M112.6 627.9h12M112.6 704.4h12M124.6 607.2h12M124.6 632.8h12M124.6 652.2h12M124.6 661.2h12M124.6 674.8h12M124.6 703.2h12M124.6 704.8h12M136.6 705h12M148.6 736.2h12M160.6 634.2h12M160.6 700.2h12M160.6 704.8h12M172.6 668.2h12M184.6 710h12"/>
<path stroke="#f7c5c9" stroke-width="1.5" d="M100.6 611.1h12M124.6 619.2h12M124.6 710.8h12M124.6 725.8h12M124.6 740.8h12M136.6 634.5h12M136.6 679.5h12M136.6 694.5h12M136.6 735h12M160.6 629.8h12M160.6 658.2h12M160.6 662.8h12M184.6 657.5h12"/>
<path stroke="#f6bfc2" stroke-width="1.5" d="M100.6 614.1h12M100.6 647.1h12M100.6 737.1h12M124.6 656.8h12M136.6 609h12M148.6 608.8h12M148.6 629.8h12M160.6 664.2h12M160.6 739.2h12M196.6 674.2h12"/>
<path stroke="#f5b6ba" stroke-width="1.5" d="M100.6 615.6h12M112.6 675.9h12M124.6 581.8h12M124.6 617.8h12M148.6 740.8h12M160.6 677.8h12M172.6 632.2h12M172.6 696.8h12"/>
<path stroke="#f7c5c8" stroke-width="1.5" d="M100.6 620.1h12M100.6 731.1h12M112.6 645.9h12M112.6 648.9h12M112.6 717.9h12M112.6 732.9h12M124.6 643.2h12M124.6 739.2h12M160.6 691.2h12M160.6 725.8h12M160.6 736.2h12M160.6 743.8h12M184.6 704h12M184.6 726.5h12M196.6 683.2h12"/>
<path stroke="#f7c0c3" stroke-width="1.5" d="M100.6 621.6h12M100.6 651.6h12M100.6 696.6h12M100.6 707.1h12M124.6 589.2h12M124.6 719.8h12M124.6 724.2h12M136.6 624h12M136.6 697.5h12M136.6 711h12M136.6 712.5h12M148.6 628.2h12M160.6 643.2h12M160.6 686.8h12M160.6 727.2h12M172.6 746.2h12"/>
<path stroke="#f4afb3" stroke-width="1.5" d="M100.6 623.1h12M100.6 675.6h12M100.6 699.6h12M148.6 632.8h12M148.6 643.2h12M172.6 633.8h12M172.6 666.8h12"/>
<path stroke="#f7c2c6" stroke-width="1.5" d="M100.6 627.6h12M100.6 692.1h12M112.6 602.4h12M124.6 620.8h12M124.6 709.2h12M136.6 604.5h12M136.6 639h12M136.6 682.5h12M136.6 724.5h12M160.6 650.8h12M160.6 682.2h12M160.6 731.8h12M160.6 737.8h12M172.6 711.8h12"/>
<path stroke="#f7c3c7" stroke-width="1.5" d="M100.6 636.6h12M100.6 672.6h12M124.6 743.8h12M136.6 663h12M184.6 668h12"/>
<path stroke="#f6bcc0" stroke-width="1.5" d="M100.6 638.1h12M100.6 728.1h12M124.6 602.8h12M124.6 616.2h12M124.6 671.8h12M124.6 707.8h12"/>
<path stroke="#f8cace" stroke-width="1.5" d="M100.6 641.1h12M100.6 678.6h12M160.6 740.8h12M196.6 681.8h12"/>
<path stroke="#f8c8cc" stroke-width="1.5" d="M100.6 642.6h12M100.6 677.1h12M112.6 578.4h12M112.6 629.4h12M112.6 641.4h12M112.6 656.4h12M136.6 684h12M136.6 720h12M160.6 631.2h12M160.6 659.8h12M184.6 669.5h12M184.6 699.5h12"/>
<path stroke="#f5b5b8" stroke-width="1.5" d="M100.6 645.6h12M148.6 688.2h12M160.6 628.2h12M172.6 719.2h12M196.6 744.8h12"/>
<path stroke="#f6bbbe" stroke-width="1.5" d="M100.6 650.1h12M124.6 718.2h12M148.6 649.2h12M184.6 675.5h12"/>
<path stroke="#f5b3b7" stroke-width="1.5" d="M100.6 659.1h12M100.6 689.1h12M148.6 682.2h12M148.6 701.8h12M148.6 706.2h12M172.6 662.2h12"/>
<path stroke="#f7c4c8" stroke-width="1.5" d="M100.6 669.6h12M100.6 713.1h12M100.6 726.6h12M136.6 745.5h12M160.6 667.2h12"/>
<path stroke="#f5b2b6" stroke-width="1.5" d="M100.6 671.1h12M136.6 612h12M148.6 614.8h12M148.6 617.8h12M148.6 619.2h12M148.6 641.8h12M148.6 656.8h12M148.6 685.2h12M148.6 695.8h12M148.6 724.2h12M148.6 730.2h12M148.6 743.8h12M172.6 651.8h12M172.6 654.8h12M172.6 660.8h12"/>
<path stroke="#f7c3c6" stroke-width="1.5" d="M100.6 674.1h12M100.6 710.1h12M100.6 723.6h12M112.6 620.4h12M124.6 593.8h12M124.6 649.2h12M124.6 650.8h12M124.6 700.2h12M136.6 616.5h12M136.6 703.5h12M136.6 729h12M160.6 625.2h12M160.6 641.8h12M160.6 655.2h12M160.6 730.2h12"/>
<path stroke="#f7c0c4" stroke-width="1.5" d="M100.6 680.1h12M112.6 654.9h12M112.6 657.9h12M124.6 731.8h12M136.6 610.5h12M136.6 657h12M136.6 685.5h12M160.6 652.2h12M160.6 701.8h12M184.6 645.5h12M184.6 743h12"/>
<path stroke="#f6bec1" stroke-width="1.5" d="M100.6 686.1h12M112.6 681.9h12M124.6 655.2h12M124.6 682.2h12M136.6 696h12M136.6 709.5h12M160.6 661.2h12M160.6 718.2h12M172.6 737.2h12M184.6 683h12"/>
<path stroke="#f7bfc3" stroke-width="1.5" d="M100.6 687.6h12M100.6 725.1h12M112.6 590.4h12M112.6 689.4h12M124.6 586.2h12M136.6 636h12M136.6 708h12M148.6 667.2h12M160.6 619.2h12M160.6 632.8h12M160.6 688.2h12M172.6 657.8h12"/>
<path stroke="#f6b9bc" stroke-width="1.5" d="M100.6 690.6h12M100.6 741.6h12M160.6 689.8h12M172.6 686.2h12"/>
<path stroke="#f5b4b8" stroke-width="1.5" d="M100.6 698.1h12M124.6 698.8h12M148.6 662.8h12M148.6 704.8h12M148.6 731.8h12M160.6 716.8h12M172.6 681.8h12M172.6 699.8h12M172.6 734.2h12M172.6 735.8h12"/>
<path stroke="#f6bcbf" stroke-width="1.5" d="M100.6 704.1h12M112.6 615.9h12M112.6 663.9h12M124.6 623.8h12M124.6 730.2h12M136.6 652.5h12M136.6 670.5h12M148.6 625.2h12M160.6 697.2h12M160.6 721.2h12M184.6 641h12"/>
<path stroke="#f6b9bd" stroke-width="1.5" d="M100.6 719.1h12M100.6 729.6h12M112.6 671.4h12M124.6 601.2h12M124.6 628.2h12M124.6 640.2h12M124.6 733.2h12M136.6 646.5h12M136.6 654h12M136.6 702h12M160.6 646.2h12"/>
<path stroke="#f8c7cb" stroke-width="1.5" d="M100.6 734.1h12M112.6 587.4h12M112.6 668.4h12M112.6 702.9h12M124.6 634.2h12M124.6 659.8h12M124.6 721.2h12M136.6 691.5h12M184.6 656h12M184.6 737h12"/>
<path stroke="#f6bdc0" stroke-width="1.5" d="M100.6 746.1h12M112.6 687.9h12M160.6 671.8h12M172.6 635.2h12"/>
<path stroke="#f8c9cc" stroke-width="0.1" d="M100.6 747h12"/>
<path stroke="#f6b8bb" stroke-width="1.5" d="M112.6 581.4h12M112.6 720.9h12M124.6 665.8h12M124.6 670.2h12M172.6 672.8h12M172.6 675.8h12M172.6 726.8h12"/>
<path stroke="#f6babd" stroke-width="1.5" d="M112.6 593.4h12M124.6 667.2h12M124.6 727.2h12M124.6 742.2h12M148.6 725.8h12M160.6 670.2h12M160.6 709.2h12"/>
<path stroke="#fadddf" stroke-width="1.5" d="M112.6 606.9h12M184.6 677h12M208.6 714.8h12M208.6 725.2h12"/>
<path stroke="#f9d2d4" stroke-width="1.5" d="M112.6 624.9h12M160.6 674.8h12"/>
<path stroke="#f8cbcf" stroke-width="1.5" d="M112.6 635.4h12M112.6 726.9h12"/>
<path stroke="#f8cfd2" stroke-width="1.5" d="M112.6 660.9h12M160.6 622.2h12M160.6 745.2h12"/>
<path stroke="#f6bdc1" stroke-width="1.5" d="M112.6 710.4h12M112.6 734.4h12M124.6 625.2h12M124.6 668.8h12M124.6 689.8h12M124.6 706.2h12M124.6 722.8h12M136.6 622.5h12M136.6 739.5h12M160.6 638.8h12M160.6 673.2h12M160.6 722.8h12M172.6 650.2h12M184.6 651.5h12M196.6 686.2h12"/>
<path stroke="#f9d4d6" stroke-width="1.5" d="M112.6 711.9h12M184.6 723.5h12"/>
<path stroke="#f8cbce" stroke-width="1.4" d="M112.6 746.3h12"/>
<path stroke="#f5b5b9" stroke-width="1.5" d="M124.6 584.8h12M148.6 665.8h12M148.6 707.8h12M172.6 641.2h12M172.6 689.2h12M172.6 710.2h12"/>
<path stroke="#f5b7bb" stroke-width="1.5" d="M124.6 595.2h12M136.6 706.5h12M148.6 646.2h12M148.6 727.2h12M160.6 647.8h12M172.6 642.8h12M172.6 692.2h12"/>
<path stroke="#f5b1b5" stroke-width="1.5" d="M124.6 662.8h12M124.6 686.8h12M148.6 623.8h12M148.6 679.2h12M148.6 709.2h12M172.6 630.8h12M172.6 638.2h12M172.6 647.2h12M172.6 743.2h12"/>
<path stroke="#f6b7bb" stroke-width="1.5" d="M124.6 695.8h12M124.6 736.2h12M172.6 645.8h12"/>
<path stroke="#f7c5c8" stroke-width="1" d="M124.6 746.5h12"/>
<path stroke="#f8ccd0" stroke-width="1.5" d="M136.6 630h12M160.6 640.2h12M160.6 683.8h12M196.6 711.8h12M196.6 717.8h12"/>
<path stroke="#f5b0b3" stroke-width="1.5" d="M136.6 675h12"/>
<path stroke="#f8cacd" stroke-width="0.7" d="M136.6 746.6h12"/>
<path stroke="#f4abaf" stroke-width="1.5" d="M148.6 611.8h12M148.6 631.2h12M148.6 634.2h12M148.6 644.8h12M148.6 674.8h12M148.6 691.2h12M148.6 719.8h12M172.6 644.2h12M172.6 659.2h12"/>
<path stroke="#f3a6aa" stroke-width="1.5" d="M148.6 613.2h12M148.6 638.8h12M148.6 686.8h12M172.6 707.2h12"/>
<path stroke="#f4a8ac" stroke-width="1.5" d="M148.6 616.2h12M148.6 647.8h12M148.6 745.2h12M172.6 636.8h12M172.6 656.2h12M172.6 663.8h12M172.6 695.2h12M172.6 701.2h12M172.6 725.2h12"/>
<path stroke="#f3a7ab" stroke-width="1.5" d="M148.6 620.8h12M148.6 670.2h12M148.6 692.8h12"/>
<path stroke="#f5b4b7" stroke-width="1.5" d="M148.6 626.8h12"/>
<path stroke="#f4aaae" stroke-width="1.5" d="M148.6 635.8h12M148.6 671.8h12M148.6 698.8h12M172.6 671.2h12M172.6 693.8h12M172.6 704.2h12"/>
<path stroke="#f5b6b9" stroke-width="1.5" d="M148.6 637.2h12"/>
<path stroke="#f3a3a8" stroke-width="1.5" d="M148.6 640.2h12"/>
<path stroke="#f5b3b6" stroke-width="1.5" d="M148.6 650.8h12M148.6 697.2h12M148.6 733.2h12"/>
<path stroke="#f3a5aa" stroke-width="1.5" d="M148.6 653.8h12M148.6 739.2h12"/>
<path stroke="#f4a8ad" stroke-width="1.5" d="M148.6 658.2h12"/>
<path stroke="#f5b0b4" stroke-width="1.5" d="M148.6 659.8h12M148.6 680.8h12M148.6 728.8h12M172.6 677.2h12M172.6 690.8h12M172.6 723.8h12M172.6 738.8h12M172.6 740.2h12"/>
<path stroke="#f3a1a5" stroke-width="1.5" d="M148.6 661.2h12"/>
<path stroke="#f3a5a9" stroke-width="1.5" d="M148.6 664.2h12M172.6 702.8h12"/>
<path stroke="#f4adb1" stroke-width="1.5" d="M148.6 668.8h12M148.6 715.2h12M148.6 718.2h12M148.6 734.8h12M172.6 713.2h12M172.6 729.8h12M172.6 731.2h12M172.6 744.8h12"/>
<path stroke="#f4aeb2" stroke-width="1.5" d="M148.6 673.2h12M172.6 669.8h12M172.6 720.8h12M172.6 741.8h12"/>
<path stroke="#f3a4a8" stroke-width="1.5" d="M148.6 676.2h12M148.6 689.8h12M148.6 722.8h12M172.6 687.8h12M172.6 722.2h12"/>
<path stroke="#f4acb0" stroke-width="1.5" d="M148.6 677.8h12M172.6 714.8h12M172.6 732.8h12"/>
<path stroke="#f4a9ad" stroke-width="1.5" d="M148.6 683.8h12M148.6 710.8h12M172.6 653.2h12M172.6 665.2h12M172.6 684.8h12"/>
<path stroke="#f3a4a9" stroke-width="1.5" d="M148.6 700.2h12M172.6 698.2h12M172.6 717.8h12"/>
<path stroke="#f3a2a6" stroke-width="1.5" d="M148.6 703.2h12"/>
<path stroke="#f5b2b5" stroke-width="1.5" d="M148.6 712.2h12"/>
<path stroke="#f3a2a7" stroke-width="1.5" d="M148.6 713.8h12"/>
<path stroke="#f29fa4" stroke-width="1.5" d="M148.6 716.8h12"/>
<path stroke="#f29da1" stroke-width="1.5" d="M148.6 721.2h12"/>
<path stroke="#f3a6ab" stroke-width="1.5" d="M148.6 742.2h12M172.6 705.8h12"/>
<path stroke="#f4adb1" stroke-width="1" d="M148.6 746.5h12"/>
<path stroke="#f8c8cc" stroke-width="1" d="M160.6 746.5h12"/>
<path stroke="#f4aaaf" stroke-width="1.5" d="M172.6 639.8h12"/>
<path stroke="#f29fa3" stroke-width="1.5" d="M172.6 648.8h12"/>
<path stroke="#f3a3a7" stroke-width="1.5" d="M172.6 683.2h12"/>
<path stroke="#f5b1b4" stroke-width="1.5" d="M172.6 708.8h12"/>
<path stroke="#f5afb3" stroke-width="1.5" d="M172.6 716.2h12"/>
<path stroke="#fadcde" stroke-width="0.2" d="M184.6 746.9h12"/>
<path stroke="#f9d3d5" stroke-width="1.5" d="M196.6 671.2h12"/>
<path stroke="#fbe5e7" stroke-width="1.5" d="M196.6 705.8h12M208.6 704.2h12"/>
<path stroke="#f8ced2" stroke-width="1.5" d="M196.6 710.2h12"/>
<path stroke="#fceaec" stroke-width="1.5" d="M196.6 713.2h12M208.6 743.2h12"/>
<path stroke="#fbe1e4" stroke-width="1.5" d="M208.6 699.8h12"/>
<path stroke="#fdeff1" stroke-width="1.5" d="M208.6 701.2h12"/>
<path stroke="#fcedef" stroke-width="1.5" d="M208.6 731.2h12"/>
<path stroke="#fbe3e6" stroke-width="1.5" d="M208.6 732.8h12"/>
<path stroke="#fbe4e7" stroke-width="1.5" d="M208.6 741.8h12"/>
<path stroke="#f3a7ab" stroke-width="1.8" d="M100.6 560.5h12"/>
<path stroke="#f7c5c8" stroke-width="1.8" d="M100.6 562.3h12"/>
<path stroke="#f8cdd0" stroke-width="1.8" d="M100.6 564.1h12"/>
<path stroke="#f5b1b5" stroke-width="1.8" d="M100.6 565.9h12"/>
<path stroke="#f6bdc1" stroke-width="0.4" d="M100.6 567h12"/>
<path stroke="#fdf2f4" stroke-width="1.8" d="M100.6 568.1h12M100.6 578.9h12M76.6 672.1h12M76.6 728.3h12M76.6 740.9h12"/>
<path stroke="#fdf1f3" stroke-width="1.8" d="M100.6 569.9h12M76.6 565.7h12"/>
<path stroke="#fcebed" stroke-width="1.8" d="M100.6 571.7h12M76.6 592.9h12M76.6 609.1h12M76.6 634.3h12M76.6 637.9h12M76.6 701.3h12"/>
<path stroke="#fdeff1" stroke-width="1.8" d="M100.6 573.5h12M100.6 575.3h12M100.6 577.1h12M76.6 621.7h12M76.6 706.7h12"/>
<path stroke="#fce8ea" stroke-width="0.6" d="M100.6 580.1h12"/>
<path stroke="#7777ef" stroke-width="1.8" d="M76.6 426.7h12M76.6 437.5h12M76.6 455.5h12M76.6 478.9h12M76.6 500.5h12M76.6 516.7h12"/>
<path stroke="#7878ef" stroke-width="1.8" d="M76.6 428.5h12M76.6 486.1h12M76.6 493.3h12M76.6 522.1h12M76.6 523.9h12M76.6 549.1h12"/>
<path stroke="#7272ee" stroke-width="1.8" d="M76.6 430.3h12M76.6 446.5h12M76.6 550.9h12"/>
<path stroke="#7676ef" stroke-width="1.8" d="M76.6 432.1h12M76.6 518.5h12M76.6 584.9h12"/>
<path stroke="#7070ee" stroke-width="1.8" d="M76.6 433.9h12M76.6 435.7h12M76.6 442.9h12M76.6 453.7h12M76.6 459.1h12M76.6 464.5h12M76.6 468.1h12M76.6 475.3h12M76.6 495.1h12M76.6 514.9h12M76.6 520.3h12M76.6 525.7h12M76.6 527.5h12M76.6 529.3h12M76.6 534.7h12M76.6 552.7h12M76.6 590.3h12M76.6 679.7h12"/>
<path stroke="#7171ee" stroke-width="1.8" d="M76.6 439.3h12M76.6 450.1h12M76.6 532.9h12"/>
<path stroke="#7373ee" stroke-width="1.8" d="M76.6 441.1h12M76.6 444.7h12M76.6 462.7h12M76.6 531.1h12M76.6 686.9h12"/>
<path stroke="#7979ef" stroke-width="1.8" d="M76.6 448.3h12M76.6 469.9h12M76.6 511.3h12M76.6 588.5h12M76.6 694.1h12"/>
<path stroke="#8282f0" stroke-width="1.8" d="M76.6 451.9h12M76.6 543.7h12"/>
<path stroke="#7d7def" stroke-width="1.8" d="M76.6 457.3h12M76.6 480.7h12M76.6 502.3h12M76.6 681.5h12"/>
<path stroke="#7a7aef" stroke-width="1.8" d="M76.6 460.9h12M76.6 477.1h12M76.6 482.5h12M76.6 496.9h12"/>
<path stroke="#8484f0" stroke-width="1.8" d="M76.6 466.3h12M76.6 536.5h12"/>
<path stroke="#7b7bef" stroke-width="1.8" d="M76.6 471.7h12"/>
<path stroke="#8383f0" stroke-width="1.8" d="M76.6 473.5h12M76.6 688.7h12M76.6 690.5h12M76.6 692.3h12"/>
<path stroke="#8a8af1" stroke-width="1.8" d="M76.6 484.3h12"/>
<path stroke="#7f7ff0" stroke-width="1.8" d="M76.6 487.9h12M76.6 498.7h12M76.6 513.1h12"/>
<path stroke="#7474ee" stroke-width="1.8" d="M76.6 489.7h12M76.6 505.9h12"/>
<path stroke="#7c7cef" stroke-width="1.8" d="M76.6 491.5h12M76.6 504.1h12M76.6 509.5h12M76.6 540.1h12M76.6 547.3h12M76.6 683.3h12"/>
<path stroke="#7575ef" stroke-width="1.8" d="M76.6 507.7h12"/>
<path stroke="#8585f0" stroke-width="1.8" d="M76.6 538.3h12"/>
<path stroke="#8686f0" stroke-width="1.8" d="M76.6 541.9h12"/>
<path stroke="#8888f1" stroke-width="1.8" d="M76.6 545.5h12"/>
<path stroke="#7878ef" stroke-width="0.4" d="M76.6 553.8h12"/>
<path stroke="#fbe5e8" stroke-width="1.8" d="M76.6 554.9h12M76.6 713.9h12"/>
<path stroke="#fbe2e4" stroke-width="1.8" d="M76.6 556.7h12M76.6 572.9h12M76.6 578.3h12M76.6 666.7h12"/>
<path stroke="#fceaec" stroke-width="1.8" d="M76.6 558.5h12M76.6 574.7h12M76.6 601.9h12M76.6 618.1h12M76.6 619.9h12M76.6 664.9h12M76.6 717.5h12"/>
<path stroke="#fce9ec" stroke-width="1.8" d="M76.6 560.3h12M76.6 726.5h12"/>
<path stroke="#fceef0" stroke-width="1.8" d="M76.6 562.1h12M76.6 646.9h12"/>
<path stroke="#fce8ea" stroke-width="1.8" d="M76.6 563.9h12M76.6 594.7h12M76.6 627.1h12M76.6 742.7h12"/>
<path stroke="#fbe5e7" stroke-width="1.8" d="M76.6 567.5h12M76.6 603.7h12M76.6 630.7h12M76.6 657.7h12M76.6 659.5h12M76.6 670.3h12M76.6 719.3h12"/>
<path stroke="#fce7ea" stroke-width="1.8" d="M76.6 569.3h12M76.6 612.7h12M76.6 697.7h12M76.6 733.7h12"/>
<path stroke="#fce9eb" stroke-width="1.8" d="M76.6 571.1h12M76.6 600.1h12M76.6 645.1h12M76.6 652.3h12M76.6 722.9h12"/>
<path stroke="#fbdfe1" stroke-width="1.8" d="M76.6 576.5h12"/>
<path stroke="#fce6e9" stroke-width="1.8" d="M76.6 580.1h12M76.6 710.3h12"/>
<path stroke="#fcedef" stroke-width="1.8" d="M76.6 581.9h12M76.6 598.3h12M76.6 673.9h12"/>
<path stroke="#fcecee" stroke-width="1.2" d="M76.6 583.4h12"/>
<path stroke="#8181f0" stroke-width="1.8" d="M76.6 586.7h12"/>
<path stroke="#7373ee" stroke-width="0.8" d="M76.6 591.6h12"/>
<path stroke="#fadde0" stroke-width="1.8" d="M76.6 596.5h12M76.6 724.7h12M76.6 737.3h12"/>
<path stroke="#fce7e9" stroke-width="1.8" d="M76.6 605.5h12M76.6 639.7h12M76.6 703.1h12M76.6 712.1h12"/>
<path stroke="#fbdfe2" stroke-width="1.8" d="M76.6 607.3h12"/>
<path stroke="#fbe1e4" stroke-width="1.8" d="M76.6 610.9h12M76.6 614.5h12M76.6 668.5h12M76.6 699.5h12M76.6 731.9h12"/>
<path stroke="#fcebee" stroke-width="1.8" d="M76.6 616.3h12M76.6 648.7h12"/>
<path stroke="#fceaed" stroke-width="1.8" d="M76.6 623.5h12M76.6 654.1h12M76.6 704.9h12M76.6 739.1h12"/>
<path stroke="#fbe4e7" stroke-width="1.8" d="M76.6 625.3h12"/>
<path stroke="#fbe0e2" stroke-width="1.8" d="M76.6 628.9h12M76.6 721.1h12"/>
<path stroke="#fbe6e8" stroke-width="1.8" d="M76.6 632.5h12M76.6 636.1h12M76.6 708.5h12M76.6 735.5h12"/>
<path stroke="#fbe4e6" stroke-width="1.8" d="M76.6 641.5h12M76.6 744.5h12"/>
<path stroke="#fbe0e3" stroke-width="1.8" d="M76.6 643.3h12"/>
<path stroke="#fbe2e5" stroke-width="1.8" d="M76.6 650.5h12"/>
<path stroke="#fbe3e5" stroke-width="1.8" d="M76.6 655.9h12M76.6 661.3h12M76.6 695.9h12"/>
<path stroke="#fbe3e6" stroke-width="1.8" d="M76.6 663.1h12"/>
<path stroke="#fdf0f2" stroke-width="1.8" d="M76.6 675.7h12"/>
<path stroke="#fce9eb" stroke-width="0.4" d="M76.6 676.8h12"/>
<path stroke="#7e7ef0" stroke-width="1.8" d="M76.6 677.9h12"/>
<path stroke="#8080f0" stroke-width="1.8" d="M76.6 685.1h12"/>
<path stroke="#f9d6d9" stroke-width="1.8" d="M76.6 715.7h12"/>
<path stroke="#fcecef" stroke-width="1.8" d="M76.6 730.1h12"/>
<path stroke="#fcecee" stroke-width="1.6" d="M76.6 746.2h12"/>
<path stroke="#9898f2" stroke-width="1.8" d="M184.6 426.7h12"/>
<path stroke="#a4a4f4" stroke-width="1.8" d="M184.6 428.5h12M184.6 433.9h12M184.6 491.5h12"/>
<path stroke="#a1a1f3" stroke-width="1.8" d="M184.6 430.3h12M184.6 432.1h12M184.6 442.9h12M184.6 451.9h12M184.6 475.3h12"/>
<path stroke="#9e9ef3" stroke-width="1.8" d="M184.6 435.7h12M184.6 448.3h12M184.6 462.7h12M184.6 477.1h12"/>
<path stroke="#9f9ff3" stroke-width="1.8" d="M184.6 437.5h12M184.6 453.7h12M184.6 464.5h12M184.6 480.7h12M184.6 484.3h12"/>
<path stroke="#a6a6f4" stroke-width="1.8" d="M184.6 439.3h12M184.6 493.3h12"/>
<path stroke="#9494f2" stroke-width="1.8" d="M184.6 441.1h12M184.6 460.9h12"/>
<path stroke="#a3a3f4" stroke-width="1.8" d="M184.6 444.7h12M184.6 459.1h12M184.6 471.7h12M184.6 489.7h12"/>
<path stroke="#a2a2f3" stroke-width="1.8" d="M184.6 446.5h12M184.6 473.5h12"/>
<path stroke="#9c9cf3" stroke-width="1.8" d="M184.6 450.1h12M184.6 455.5h12"/>
<path stroke="#a0a0f3" stroke-width="1.8" d="M184.6 457.3h12M184.6 469.9h12M184.6 482.5h12"/>
<path stroke="#9d9df3" stroke-width="1.8" d="M184.6 466.3h12"/>
<path stroke="#9797f2" stroke-width="1.8" d="M184.6 468.1h12M184.6 486.1h12"/>
<path stroke="#9999f2" stroke-width="1.8" d="M184.6 478.9h12"/>
<path stroke="#a7a7f4" stroke-width="1.8" d="M184.6 487.9h12"/>
<path stroke="#9e9ef3" stroke-width="1.3" d="M184.6 494.9h12"/>
<rect x="88.6" y="453" width="96" height="1.2" fill="#ece6ec"/>
<rect x="196.6" y="453" width="96" height="1.2" fill="#ece6ec"/>
<rect x="256.6" y="452.8" width="12" height="1.6" fill="#5a5ab8"/>
</g>
<rect x="76.1" y="425.3" width="217" height="322.2" fill="none" stroke="#a8a8a8" stroke-width="1"/>
<rect x="174.5" y="706.3" width="118.2" height="1.5" fill="#8a8a8a"/>
<rect x="203.4" y="699.2" width="88.7" height="16.7" fill="none" stroke="#262626" stroke-width="1.5"/>
<line x1="292.7" y1="698.5" x2="320.2" y2="618.7" stroke="#262626" stroke-width="1.3"/>
<line x1="292.7" y1="716.6" x2="320.2" y2="746.2" stroke="#262626" stroke-width="1.3"/>
<g filter="url(#bl)" shape-rendering="crispEdges">
<rect x="320.1" y="619" width="108.4" height="127" fill="#f6f6fd"/>
<path stroke="#f2f3fd" stroke-width="2.6" d="M320.1 620.3h7.9M320.1 680.1h7.9M328 690.5h15M328 716.5h15M343 648.9h14M343 659.3h14M343 672.3h14M343 693.1h14M343 721.7h14M343 724.3h14M357 625.5h14M357 638.5h14M357 664.5h14M357 703.5h14M357 721.7h14M371 625.5h14.4M371 641.1h14.4M371 664.5h14.4M371 693.1h14.4M385.4 667.1h15M385.4 680.1h15M385.4 708.7h15M385.4 721.7h15M400.4 646.3h14.3M400.4 703.5h14.3M400.4 724.3h14.3M414.7 648.9h13.8M414.7 661.9h13.8M414.7 724.3h13.8M414.7 734.7h13.8"/>
<path stroke="#e2e4fa" stroke-width="2.6" d="M320.1 622.9h7.9M320.1 630.7h7.9M320.1 643.7h7.9M320.1 651.5h7.9M328 620.3h15M343 630.7h14M343 641.1h14M343 732.1h14M357 672.3h14"/>
<path stroke="#f4f4fd" stroke-width="2.6" d="M320.1 625.5h7.9M320.1 648.9h7.9M320.1 674.9h7.9M320.1 706.1h7.9M320.1 716.5h7.9M328 651.5h15M328 682.7h15M343 674.9h14M343 716.5h14M357 622.9h14M357 661.9h14M371 659.3h14.4M371 734.7h14.4M400.4 661.9h14.3M400.4 713.9h14.3M400.4 734.7h14.3M414.7 651.5h13.8M414.7 669.7h13.8M414.7 674.9h13.8M414.7 711.3h13.8"/>
<path stroke="#e6e8fa" stroke-width="2.6" d="M320.1 628.1h7.9M320.1 638.5h7.9M320.1 682.7h7.9M328 628.1h15M328 643.7h15M328 732.1h15M343 628.1h14M371 648.9h14.4M371 667.1h14.4M371 690.5h14.4M371 713.9h14.4M385.4 732.1h15"/>
<path stroke="#e9eafb" stroke-width="2.6" d="M320.1 633.3h7.9M320.1 687.9h7.9M320.1 703.5h7.9M328 664.5h15M328 674.9h15M343 651.5h14M343 669.7h14M371 669.7h14.4"/>
<path stroke="#f0f1fc" stroke-width="2.6" d="M320.1 635.9h7.9M320.1 661.9h7.9M320.1 664.5h7.9M320.1 698.3h7.9M320.1 724.3h7.9M320.1 737.3h7.9M328 693.1h15M343 633.3h14M357 628.1h14M357 635.9h14M357 687.9h14M357 711.3h14M371 633.3h14.4M371 656.7h14.4M371 706.1h14.4M371 721.7h14.4M385.4 643.7h15M385.4 690.5h15M385.4 693.1h15M385.4 711.3h15M385.4 716.5h15M400.4 620.3h14.3M414.7 620.3h13.8M414.7 646.3h13.8M414.7 687.9h13.8"/>
<path stroke="#e1e3f9" stroke-width="2.6" d="M320.1 641.1h7.9M328 734.7h15M357 716.5h14M371 724.3h14.4M400.4 695.7h14.3"/>
<path stroke="#f4f5fd" stroke-width="2.6" d="M320.1 646.3h7.9M320.1 667.1h7.9M328 667.1h15M328 680.1h15M343 620.3h14M343 643.7h14M357 669.7h14M357 674.9h14M357 739.9h14M371 628.1h14.4M385.4 620.3h15M385.4 682.7h15M400.4 648.9h14.3M414.7 739.9h13.8"/>
<path stroke="#f7f7fe" stroke-width="2.6" d="M320.1 654.1h7.9M320.1 677.5h7.9M320.1 711.3h7.9M328 625.5h15M328 638.5h15M328 713.9h15M343 654.1h14M343 680.1h14M343 713.9h14M357 643.7h14M357 651.5h14M357 680.1h14M357 713.9h14M357 734.7h14M357 742.5h14M371 698.3h14.4M385.4 700.9h15M385.4 706.1h15M385.4 726.9h15M400.4 638.5h14.3M400.4 672.3h14.3M414.7 628.1h13.8"/>
<path stroke="#f1f2fc" stroke-width="2.6" d="M320.1 656.7h7.9M328 633.3h15M343 638.5h14M357 693.1h14M357 708.7h14M357 729.5h14M371 695.7h14.4M385.4 628.1h15M385.4 646.3h15M385.4 651.5h15M400.4 641.1h14.3M400.4 654.1h14.3M400.4 721.7h14.3M414.7 680.1h13.8M414.7 721.7h13.8"/>
<path stroke="#f1f2fd" stroke-width="2.6" d="M320.1 659.3h7.9M328 687.9h15M343 700.9h14M343 734.7h14M371 654.1h14.4M371 680.1h14.4M371 716.5h14.4M371 739.9h14.4M385.4 625.5h15M400.4 677.5h14.3M414.7 664.5h13.8"/>
<path stroke="#f5f5fd" stroke-width="2.6" d="M320.1 669.7h7.9M320.1 690.5h7.9M320.1 739.9h7.9M328 672.3h15M343 685.3h14M343 726.9h14M343 737.3h14M357 737.3h14M371 620.3h14.4M371 630.7h14.4M371 646.3h14.4M385.4 661.9h15M385.4 685.3h15M385.4 695.7h15M400.4 669.7h14.3M400.4 690.5h14.3M414.7 622.9h13.8M414.7 625.5h13.8M414.7 635.9h13.8M414.7 690.5h13.8M414.7 706.1h13.8M414.7 729.5h13.8"/>
<path stroke="#e3e5fa" stroke-width="2.6" d="M320.1 672.3h7.9M328 677.5h15M343 739.9h14M357 654.1h14M357 659.3h14M371 708.7h14.4M385.4 659.3h15M385.4 737.3h15M400.4 726.9h14.3M414.7 643.7h13.8M414.7 667.1h13.8M414.7 698.3h13.8M414.7 713.9h13.8"/>
<path stroke="#f3f3fd" stroke-width="2.6" d="M320.1 685.3h7.9M320.1 726.9h7.9M328 698.3h15M328 729.5h15M343 690.5h14M343 711.3h14M357 677.5h14M385.4 622.9h15M385.4 648.9h15M385.4 713.9h15M414.7 693.1h13.8"/>
<path stroke="#f0f0fc" stroke-width="2.6" d="M320.1 693.1h7.9M320.1 713.9h7.9"/>
<path stroke="#eff0fc" stroke-width="2.6" d="M320.1 695.7h7.9M328 648.9h15M328 659.3h15M328 661.9h15M328 700.9h15M328 708.7h15M328 726.9h15M328 737.3h15M343 742.5h14M357 633.3h14M371 661.9h14.4M371 732.1h14.4M385.4 669.7h15M385.4 674.9h15M385.4 687.9h15M385.4 724.3h15M385.4 739.9h15M400.4 633.3h14.3M400.4 643.7h14.3M400.4 656.7h14.3M400.4 667.1h14.3M400.4 700.9h14.3M400.4 732.1h14.3M414.7 654.1h13.8M414.7 672.3h13.8M414.7 682.7h13.8M414.7 703.5h13.8"/>
<path stroke="#f6f7fe" stroke-width="2.6" d="M320.1 700.9h7.9M328 695.7h15M371 643.7h14.4"/>
<path stroke="#e7e9fb" stroke-width="2.6" d="M320.1 708.7h7.9M320.1 721.7h7.9M371 622.9h14.4M385.4 641.1h15M385.4 664.5h15M400.4 711.3h14.3"/>
<path stroke="#f3f4fd" stroke-width="2.6" d="M320.1 719.1h7.9M320.1 729.5h7.9M328 656.7h15M343 625.5h14M343 682.7h14M343 695.7h14M343 729.5h14M357 695.7h14M357 719.1h14M385.4 635.9h15M385.4 656.7h15M400.4 659.3h14.3M414.7 630.7h13.8M414.7 633.3h13.8M414.7 641.1h13.8M414.7 719.1h13.8M414.7 732.1h13.8"/>
<path stroke="#f9f9fe" stroke-width="2.6" d="M320.1 732.1h7.9M320.1 734.7h7.9M328 630.7h15M400.4 693.1h14.3M414.7 659.3h13.8M414.7 695.7h13.8"/>
<path stroke="#f8f8fe" stroke-width="2.6" d="M320.1 742.5h7.9M328 685.3h15M328 711.3h15M343 622.9h14M343 635.9h14M343 667.1h14M343 703.5h14M343 708.7h14M343 719.1h14M357 620.3h14M357 726.9h14M357 732.1h14M371 742.5h14.4M385.4 698.3h15M400.4 625.5h14.3M414.7 677.5h13.8M414.7 685.3h13.8M414.7 700.9h13.8M414.7 726.9h13.8M414.7 737.3h13.8"/>
<path stroke="#e9ebfb" stroke-width="2.2" d="M320.1 744.9h7.9"/>
<path stroke="#e5e6fa" stroke-width="2.6" d="M328 622.9h15M343 706.1h14"/>
<path stroke="#e5e7fa" stroke-width="2.6" d="M328 635.9h15M328 739.9h15M357 690.5h14M371 674.9h14.4M400.4 687.9h14.3M400.4 729.5h14.3"/>
<path stroke="#f2f2fd" stroke-width="2.6" d="M328 641.1h15M328 742.5h15M343 664.5h14M357 646.3h14M371 677.5h14.4M371 682.7h14.4M371 687.9h14.4M371 726.9h14.4M385.4 672.3h15M400.4 685.3h14.3"/>
<path stroke="#f6f6fd" stroke-width="2.6" d="M328 646.3h15M328 654.1h15M328 703.5h15M328 719.1h15M343 646.3h14M357 641.1h14M357 682.7h14M357 706.1h14M371 635.9h14.4M371 651.5h14.4M371 711.3h14.4M385.4 633.3h15M385.4 654.1h15M400.4 628.1h14.3M400.4 651.5h14.3M400.4 680.1h14.3M400.4 682.7h14.3M400.4 698.3h14.3M400.4 706.1h14.3M414.7 656.7h13.8"/>
<path stroke="#e4e6fa" stroke-width="2.6" d="M328 669.7h15M328 706.1h15M328 724.3h15M357 698.3h14M357 700.9h14M371 703.5h14.4M371 729.5h14.4M371 737.3h14.4M400.4 708.7h14.3M400.4 739.9h14.3"/>
<path stroke="#f7f8fe" stroke-width="2.6" d="M328 721.7h15M371 638.5h14.4M400.4 664.5h14.3M400.4 737.3h14.3M414.7 638.5h13.8"/>
<path stroke="#e5e6fa" stroke-width="2.2" d="M328 744.9h15"/>
<path stroke="#e9ebfb" stroke-width="2.6" d="M343 656.7h14M371 700.9h14.4M414.7 708.7h13.8"/>
<path stroke="#e1e3fa" stroke-width="2.6" d="M343 661.9h14M400.4 742.5h14.3"/>
<path stroke="#f1f1fc" stroke-width="2.6" d="M343 677.5h14M343 687.9h14M357 724.3h14M385.4 703.5h15M385.4 734.7h15M400.4 622.9h14.3M400.4 630.7h14.3M400.4 719.1h14.3M414.7 742.5h13.8"/>
<path stroke="#e0e3f9" stroke-width="2.6" d="M343 698.3h14"/>
<path stroke="#e3e5fa" stroke-width="2.2" d="M343 744.9h14"/>
<path stroke="#f6f7fd" stroke-width="2.6" d="M357 630.7h14M371 685.3h14.4M400.4 716.5h14.3"/>
<path stroke="#f5f6fd" stroke-width="2.6" d="M357 648.9h14M357 667.1h14M385.4 742.5h15M400.4 635.9h14.3"/>
<path stroke="#e1e4fa" stroke-width="2.6" d="M357 656.7h14M385.4 630.7h15"/>
<path stroke="#e8e9fb" stroke-width="2.6" d="M357 685.3h14M385.4 719.1h15"/>
<path stroke="#f6f6fd" stroke-width="2.2" d="M357 744.9h14"/>
<path stroke="#f8f9fe" stroke-width="2.6" d="M371 672.3h14.4M385.4 638.5h15M400.4 674.9h14.3"/>
<path stroke="#e7e8fa" stroke-width="2.6" d="M371 719.1h14.4"/>
<path stroke="#f8f8fe" stroke-width="2.2" d="M371 744.9h14.4M385.4 744.9h15"/>
<path stroke="#e6e7fa" stroke-width="2.6" d="M385.4 677.5h15"/>
<path stroke="#e8eafb" stroke-width="2.6" d="M385.4 729.5h15"/>
<path stroke="#e1e3f9" stroke-width="2.2" d="M400.4 744.9h14.3"/>
<path stroke="#e2e5fa" stroke-width="2.6" d="M414.7 716.5h13.8"/>
<path stroke="#f3f4fd" stroke-width="2.2" d="M414.7 744.9h13.8"/>
<path stroke="#f6bbbe" stroke-width="2.6" d="M320.1 620.3h7.9M320.1 739.9h7.9"/>
<path stroke="#f7c4c8" stroke-width="2.6" d="M320.1 622.9h7.9M320.1 685.3h7.9M357 673.5h14M414.7 682.9h13.8"/>
<path stroke="#f5b4b7" stroke-width="2.6" d="M320.1 625.5h7.9"/>
<path stroke="#f8cacd" stroke-width="2.6" d="M320.1 628.1h7.9M320.1 732.1h7.9M328 713.9h15"/>
<path stroke="#f6b9bd" stroke-width="2.6" d="M320.1 630.7h7.9M320.1 680.1h7.9"/>
<path stroke="#f5b7ba" stroke-width="2.6" d="M320.1 633.3h7.9M320.1 674.9h7.9"/>
<path stroke="#f7c1c5" stroke-width="2.6" d="M320.1 635.9h7.9M385.4 702.3h15"/>
<path stroke="#f8cbce" stroke-width="2.6" d="M320.1 638.5h7.9M320.1 726.9h7.9M357 728.3h14M371 663.9h14.4"/>
<path stroke="#f7c3c6" stroke-width="2.6" d="M320.1 641.1h7.9M320.1 651.5h7.9M320.1 682.7h7.9M320.1 719.1h7.9M343 724.5h14M357 668.3h14M357 725.7h14M371 661.3h14.4M385.4 704.9h15"/>
<path stroke="#f6bec1" stroke-width="2.6" d="M320.1 643.7h7.9M320.1 654.1h7.9"/>
<path stroke="#f7c0c3" stroke-width="2.6" d="M320.1 646.3h7.9M320.1 742.5h7.9M357 712.7h14"/>
<path stroke="#f7c3c7" stroke-width="2.6" d="M320.1 648.9h7.9M320.1 672.3h7.9M320.1 706.1h7.9M371 677.5h14.4"/>
<path stroke="#f5b1b5" stroke-width="2.6" d="M320.1 656.7h7.9M320.1 703.5h7.9M385.4 691.9h15"/>
<path stroke="#f4adb1" stroke-width="2.6" d="M320.1 659.3h7.9"/>
<path stroke="#f7c1c4" stroke-width="2.6" d="M320.1 661.9h7.9M357 670.9h14M400.4 677.9h14.3"/>
<path stroke="#f6b7bb" stroke-width="2.6" d="M320.1 664.5h7.9"/>
<path stroke="#f6b8bc" stroke-width="2.6" d="M320.1 667.1h7.9M320.1 693.1h7.9"/>
<path stroke="#f6bcbf" stroke-width="2.6" d="M320.1 669.7h7.9M320.1 708.7h7.9"/>
<path stroke="#f8cccf" stroke-width="2.6" d="M320.1 677.5h7.9M320.1 737.3h7.9M400.4 690.9h14.3"/>
<path stroke="#f7c7ca" stroke-width="2.6" d="M320.1 687.9h7.9M357 689.3h14M357 699.7h14"/>
<path stroke="#f7c6c9" stroke-width="2.6" d="M320.1 690.5h7.9"/>
<path stroke="#f9d6d9" stroke-width="2.6" d="M320.1 695.7h7.9M328 620.3h15M328 651.5h15"/>
<path stroke="#f7c6ca" stroke-width="2.6" d="M320.1 698.3h7.9M357 676.1h14M357 720.5h14"/>
<path stroke="#f6bcc0" stroke-width="2.6" d="M320.1 700.9h7.9M320.1 729.5h7.9"/>
<path stroke="#f5b3b7" stroke-width="2.6" d="M320.1 711.3h7.9"/>
<path stroke="#f3a4a9" stroke-width="2.6" d="M320.1 713.9h7.9"/>
<path stroke="#f6bec2" stroke-width="2.6" d="M320.1 716.5h7.9M320.1 721.7h7.9"/>
<path stroke="#f8cdd0" stroke-width="2.6" d="M320.1 724.3h7.9M320.1 734.7h7.9M343 721.9h14"/>
<path stroke="#f6bfc2" stroke-width="2.2" d="M320.1 744.9h7.9"/>
<path stroke="#fbe4e6" stroke-width="2.6" d="M328 622.9h15M328 630.7h15M328 690.5h15"/>
<path stroke="#fadee1" stroke-width="2.6" d="M328 625.5h15M328 648.9h15"/>
<path stroke="#fadee0" stroke-width="2.6" d="M328 628.1h15M328 641.1h15M328 700.9h15M343 643.3h14"/>
<path stroke="#fbe1e4" stroke-width="2.6" d="M328 633.3h15"/>
<path stroke="#fceaec" stroke-width="2.6" d="M328 635.9h15M343 640.7h14"/>
<path stroke="#f9d5d8" stroke-width="2.6" d="M328 638.5h15M328 685.3h15M414.7 680.3h13.8"/>
<path stroke="#fadcde" stroke-width="2.6" d="M328 643.7h15"/>
<path stroke="#fce8ea" stroke-width="2.6" d="M328 646.3h15"/>
<path stroke="#fbdfe2" stroke-width="2.6" d="M328 654.1h15M328 674.9h15"/>
<path stroke="#fbe5e7" stroke-width="2.6" d="M328 656.7h15M328 669.7h15M343 638.1h14"/>
<path stroke="#fbe0e3" stroke-width="2.6" d="M328 659.3h15M328 693.1h15M385.4 638.5h15"/>
<path stroke="#fbdfe1" stroke-width="2.6" d="M328 661.9h15M328 703.5h15"/>
<path stroke="#fcecee" stroke-width="2.6" d="M328 664.5h15"/>
<path stroke="#fdf2f4" stroke-width="2.6" d="M328 667.1h15M343 632.9h14M385.4 630.7h15"/>
<path stroke="#fad7da" stroke-width="2.6" d="M328 672.3h15"/>
<path stroke="#f8ced1" stroke-width="2.6" d="M328 677.5h15"/>
<path stroke="#fbe0e2" stroke-width="2.6" d="M328 680.1h15M328 682.7h15M343 645.9h14"/>
<path stroke="#fbe6e8" stroke-width="2.6" d="M328 687.9h15"/>
<path stroke="#fce9eb" stroke-width="2.6" d="M328 695.7h15"/>
<path stroke="#fbe1e3" stroke-width="2.6" d="M328 698.3h15"/>
<path stroke="#f9d3d6" stroke-width="2.6" d="M328 706.1h15M328 739.9h15"/>
<path stroke="#fadde0" stroke-width="2.6" d="M328 708.7h15"/>
<path stroke="#fce7ea" stroke-width="2.6" d="M328 711.3h15M328 721.7h15"/>
<path stroke="#fdf0f2" stroke-width="2.6" d="M328 716.5h15"/>
<path stroke="#fad8db" stroke-width="2.6" d="M328 719.1h15M385.4 633.3h15"/>
<path stroke="#fce7e9" stroke-width="2.6" d="M328 724.3h15"/>
<path stroke="#fadadd" stroke-width="2.6" d="M328 726.9h15"/>
<path stroke="#fadcdf" stroke-width="2.6" d="M328 729.5h15M385.4 622.9h15"/>
<path stroke="#f9d5d7" stroke-width="2.6" d="M328 732.1h15"/>
<path stroke="#fad9dc" stroke-width="2.6" d="M328 734.7h15"/>
<path stroke="#fdeff1" stroke-width="2.6" d="M328 737.3h15"/>
<path stroke="#fcecef" stroke-width="2.6" d="M328 742.5h15"/>
<path stroke="#fad9dc" stroke-width="2.2" d="M328 744.9h15"/>
<path stroke="#dadbf8" stroke-width="2.6" d="M343 620.3h14"/>
<path stroke="#dedff9" stroke-width="2.6" d="M343 622.9h14"/>
<path stroke="#cfd0f7" stroke-width="2.6" d="M343 625.5h14"/>
<path stroke="#cfd1f7" stroke-width="2.6" d="M343 628.1h14"/>
<path stroke="#dadbf8" stroke-width="2.2" d="M343 630.5h14"/>
<path stroke="#fbe5e8" stroke-width="2.6" d="M343 635.5h14"/>
<path stroke="#fcecee" stroke-width="1.8" d="M343 648.1h14"/>
<path stroke="#f3a1a6" stroke-width="2.6" d="M343 650.3h14"/>
<path stroke="#f29ea3" stroke-width="2.6" d="M343 652.9h14"/>
<path stroke="#f3a7ab" stroke-width="2.6" d="M343 655.5h14M343 671.1h14M371 672.3h14.4M371 674.9h14.4"/>
<path stroke="#f3a6aa" stroke-width="2.6" d="M343 658.1h14M343 681.5h14M343 707.5h14"/>
<path stroke="#f29fa3" stroke-width="2.6" d="M343 660.7h14"/>
<path stroke="#f1969b" stroke-width="2.6" d="M343 663.3h14"/>
<path stroke="#f3a3a7" stroke-width="2.6" d="M343 665.9h14M343 712.7h14"/>
<path stroke="#f3a4a8" stroke-width="2.6" d="M343 668.5h14M371 680.1h14.4"/>
<path stroke="#f29ca1" stroke-width="2.6" d="M343 673.7h14M343 699.7h14"/>
<path stroke="#f4aaae" stroke-width="2.6" d="M343 676.3h14"/>
<path stroke="#f3a0a5" stroke-width="2.6" d="M343 678.9h14"/>
<path stroke="#f3a3a7" stroke-width="0.7" d="M343 683.2h14"/>
<path stroke="#f6bbbf" stroke-width="2.6" d="M343 684.8h14"/>
<path stroke="#f5b2b6" stroke-width="1.9" d="M343 687h14"/>
<path stroke="#f08f94" stroke-width="2.6" d="M343 689.3h14"/>
<path stroke="#f29b9f" stroke-width="2.6" d="M343 691.9h14"/>
<path stroke="#f19599" stroke-width="2.6" d="M343 694.5h14"/>
<path stroke="#f29a9e" stroke-width="2.6" d="M343 697.1h14"/>
<path stroke="#f08a8f" stroke-width="2.6" d="M343 702.3h14"/>
<path stroke="#f2999d" stroke-width="2.6" d="M343 704.9h14"/>
<path stroke="#f2999e" stroke-width="2.6" d="M343 710.1h14"/>
<path stroke="#f1979b" stroke-width="2.6" d="M343 715.3h14"/>
<path stroke="#f3a1a5" stroke-width="1.4" d="M343 717.3h14"/>
<path stroke="#f6babd" stroke-width="2.6" d="M343 719.3h14"/>
<path stroke="#f7c4c8" stroke-width="1.2" d="M343 726.4h14"/>
<path stroke="#f8cbcf" stroke-width="2.6" d="M357 678.7h14"/>
<path stroke="#f7c0c4" stroke-width="2.6" d="M357 681.3h14"/>
<path stroke="#f8c7ca" stroke-width="0.9" d="M357 683.1h14"/>
<path stroke="#f8cace" stroke-width="2.6" d="M357 691.9h14"/>
<path stroke="#f8c9cc" stroke-width="2.6" d="M357 694.5h14M357 723.1h14"/>
<path stroke="#f9d2d5" stroke-width="2.6" d="M357 697.1h14M371 666.5h14.4"/>
<path stroke="#f8c7cb" stroke-width="2.6" d="M357 702.3h14M400.4 683.1h14.3"/>
<path stroke="#f7c2c5" stroke-width="2.6" d="M357 704.9h14"/>
<path stroke="#f7c4c7" stroke-width="2.6" d="M357 707.5h14M385.4 699.7h15"/>
<path stroke="#f9d4d7" stroke-width="2.6" d="M357 710.1h14M371 669.1h14.4"/>
<path stroke="#fbe3e5" stroke-width="2.6" d="M357 715.3h14"/>
<path stroke="#f9cfd2" stroke-width="2.6" d="M357 717.9h14M400.4 696.1h14.3"/>
<path stroke="#f9d6d8" stroke-width="2.4" d="M357 730.8h14"/>
<path stroke="#f6bbbf" stroke-width="0.6" d="M371 670.7h14.4"/>
<path stroke="#f4afb3" stroke-width="2.1" d="M371 682.5h14.4"/>
<path stroke="#fbe2e5" stroke-width="2.6" d="M385.4 620.3h15"/>
<path stroke="#fbe2e4" stroke-width="2.6" d="M385.4 625.5h15"/>
<path stroke="#fadddf" stroke-width="2.6" d="M385.4 628.1h15"/>
<path stroke="#fad7d9" stroke-width="2.6" d="M385.4 635.9h15M400.4 680.5h14.3"/>
<path stroke="#fadadd" stroke-width="0.2" d="M385.4 639.9h15"/>
<path stroke="#f5b4b8" stroke-width="2.6" d="M385.4 689.3h15"/>
<path stroke="#f5b0b4" stroke-width="2.6" d="M385.4 694.5h15"/>
<path stroke="#f4acb0" stroke-width="2.6" d="M385.4 697.1h15"/>
<path stroke="#f5b6ba" stroke-width="0.4" d="M385.4 706.4h15"/>
<path stroke="#d1d3f7" stroke-width="2.6" d="M385.4 714.8h15"/>
<path stroke="#c7c8f5" stroke-width="2.6" d="M385.4 717.4h15"/>
<path stroke="#c7c9f5" stroke-width="2.6" d="M385.4 720h15"/>
<path stroke="#c1c3f4" stroke-width="2.6" d="M385.4 722.6h15"/>
<path stroke="#cecff7" stroke-width="2.6" d="M385.4 725.2h15"/>
<path stroke="#cdcff6" stroke-width="2.6" d="M385.4 727.8h15M385.4 733h15"/>
<path stroke="#c8caf6" stroke-width="2.6" d="M385.4 730.4h15"/>
<path stroke="#d4d5f8" stroke-width="2.6" d="M385.4 735.6h15"/>
<path stroke="#c4c6f5" stroke-width="2.6" d="M385.4 738.2h15"/>
<path stroke="#c2c4f5" stroke-width="2.6" d="M385.4 740.8h15"/>
<path stroke="#cdcef6" stroke-width="1.5" d="M385.4 742.9h15"/>
<path stroke="#f8c7ca" stroke-width="2.6" d="M400.4 685.7h14.3"/>
<path stroke="#f9d0d3" stroke-width="2.6" d="M400.4 688.3h14.3"/>
<path stroke="#f7c2c6" stroke-width="2.6" d="M400.4 693.5h14.3"/>
<path stroke="#f8cbce" stroke-width="1.8" d="M414.7 685.1h13.8"/>
<path stroke="#f29da1" stroke-width="2.6" d="M414.7 687.3h13.8"/>
<path stroke="#f1959a" stroke-width="2.6" d="M414.7 689.9h13.8"/>
<path stroke="#f19196" stroke-width="2.6" d="M414.7 692.5h13.8"/>
<path stroke="#f1959a" stroke-width="1.2" d="M414.7 694.4h13.8"/>
</g>
<rect x="319.6" y="618.5" width="109.4" height="128" fill="none" stroke="#a8a8a8" stroke-width="1"/>
<rect x="440.2" y="532" width="11.8" height="86.6" fill="#fff"/>
<rect x="440.2" y="618.6" width="11.8" height="151.4" fill="#8e8e8e"/>
<rect x="440.2" y="770" width="11.8" height="10.6" fill="#fff"/>
<rect x="440.2" y="618" width="11.8" height="1.2" fill="#111"/>
<rect x="440.2" y="769.4" width="11.8" height="1.2" fill="#111"/>
<rect x="440.2" y="742.2" width="11.8" height="1.6" fill="#fff"/>
<rect x="440.9" y="532.8" width="10.3" height="247.1" fill="none" stroke="#111" stroke-width="1.5"/>
<rect x="428.5" y="684.5" width="24.5" height="1.5" fill="#9a9a9a"/>
<rect x="320" y="684.5" width="108.5" height="1.5" fill="#8a8a8a"/>
<rect x="58.9" y="424.2" width="9.9" height="324.5" fill="#fff"/>
<rect x="58.9" y="429" width="9.9" height="5.7" fill="#555"/>
<rect x="58.9" y="445.2" width="9.9" height="9.8" fill="#000"/>
<rect x="58.9" y="462" width="9.9" height="6.3" fill="#888"/>
<rect x="58.9" y="472.5" width="9.9" height="13.3" fill="#3a3a3a"/>
<rect x="58.9" y="486.6" width="9.9" height="1.8" fill="#bbb"/>
<rect x="58.9" y="492.7" width="9.9" height="1.3" fill="#888"/>
<rect x="58.9" y="494" width="9.9" height="2.3" fill="#ccc"/>
<rect x="58.9" y="509" width="9.9" height="6.6" fill="#333"/>
<rect x="58.9" y="522.2" width="9.9" height="15.4" fill="#888"/>
<rect x="58.9" y="539" width="9.9" height="9.8" fill="#888"/>
<rect x="58.9" y="553" width="9.9" height="6.3" fill="#888"/>
<rect x="58.9" y="567.7" width="9.9" height="11.9" fill="#000"/>
<rect x="58.9" y="583.8" width="9.9" height="11.9" fill="#444"/>
<rect x="58.9" y="601.3" width="9.9" height="15.4" fill="#000"/>
<rect x="58.9" y="630" width="9.9" height="7" fill="#aaa"/>
<rect x="58.9" y="648.2" width="9.9" height="11.2" fill="#444"/>
<rect x="58.9" y="663.6" width="9.9" height="13.3" fill="#000"/>
<rect x="58.9" y="680.4" width="9.9" height="8.4" fill="#888"/>
<rect x="58.9" y="700.7" width="9.9" height="10.5" fill="#888"/>
<rect x="58.9" y="723.8" width="9.9" height="9.1" fill="#444"/>
<rect x="58.9" y="496.3" width="9.9" height="7.7" fill="#fff"/>
<clipPath id="c4963"><rect x="58.9" y="496.3" width="9.9" height="7.7"/></clipPath>
<path clip-path="url(#c4963)" d="M59.9 496.3L67.8 492.4M59.9 499.2L67.8 495.2M59.9 502.1L67.8 498.1M59.9 505L67.8 501M59.9 507.9L67.8 503.9M59.9 510.8L67.8 506.8" stroke="#222" stroke-width="1.2" fill="none" shape-rendering="auto"/>
<rect x="59.6" y="424.9" width="8.4" height="323" fill="none" stroke="#000" stroke-width="1.5"/>
<text x="3" y="13.3" class="big" text-anchor="start">A</text>
<text x="3.8" y="421.6" class="big" text-anchor="start">B</text>
<text x="51.8" y="31.7" class="lb" text-anchor="end">2p25.3</text>
<text x="52.3" y="164.3" class="lb" text-anchor="end">Cen.</text>
<text x="52.3" y="360.2" class="lb" text-anchor="end">2q37.3</text>
<text x="52" y="435.2" class="lb" text-anchor="end">8p23.3</text>
<text x="52.3" y="501.2" class="lb" text-anchor="end">Cen.</text>
<text x="52.6" y="711.2" class="lb" text-anchor="end">8q24.21</text>
<text x="52.6" y="743.8" class="lb" text-anchor="end">8q24.3</text>
<text x="418.5" y="87.5" class="lb" text-anchor="start">2p16.1</text>
<text x="417.3" y="145.5" class="lb" text-anchor="start">2p15</text>
<text x="456.2" y="636.7" class="lb" text-anchor="start">8q24.21</text>
<text x="457.2" y="748.3" class="gi" text-anchor="start">MYC</text>
<text x="377" y="138.5" class="star" text-anchor="start">*</text>
<text x="416.3" y="228.5" class="star" text-anchor="start">*</text>
</svg>
</body></html>
